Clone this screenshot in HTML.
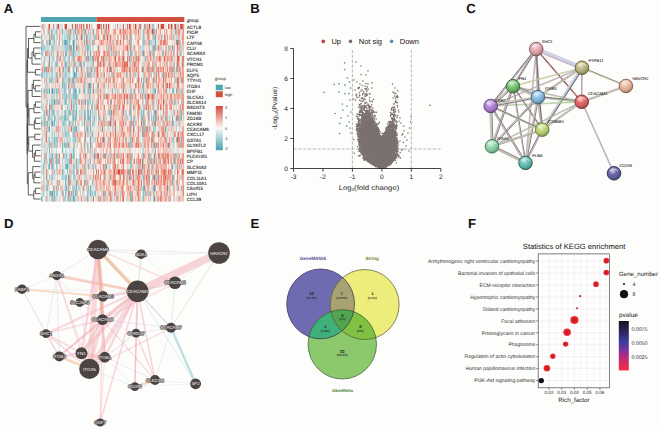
<!DOCTYPE html>
<html><head><meta charset="utf-8"><title>Figure</title>
<style>
html,body{margin:0;padding:0;background:#fdfdfc;}
body{width:660px;height:430px;overflow:hidden;font-family:"Liberation Sans",sans-serif;}
svg{display:block;font-family:"Liberation Sans",sans-serif;text-rendering:geometricPrecision;}
</style></head><body>
<svg width="660" height="430" viewBox="0 0 660 430">
<rect x="0" y="0" width="660" height="430" fill="#fdfdfc"/>
<g font-size="13.2" font-weight="bold" fill="#111">
<text x="3.7" y="12.8">A</text>
<text x="250.2" y="12.8">B</text>
<text x="466.2" y="12.8">C</text>
<text x="3.9" y="228.3">D</text>
<text x="250.6" y="228.3">E</text>
<text x="468.0" y="228.3">F</text>
</g>
<g id="pa">
<rect x="41.0" y="17" width="55.37" height="5" fill="#4fa5b3"/>
<rect x="96.37" y="17" width="87.93" height="5" fill="#d2503f"/>
<defs><filter id="hb" x="-2%" y="-2%" width="104%" height="104%"><feGaussianBlur stdDeviation="0.3 0.3"/></filter><clipPath id="hc"><rect x="41.00" y="23.70" width="143.30" height="178.00"/></clipPath></defs>
<g clip-path="url(#hc)"><g filter="url(#hb)">
<rect x="38.00" y="20.70" width="149.30" height="184.00" fill="#f4e4e0"/>
<path fill="none" stroke-width="5.45" stroke="#c0dfe2" d="M41.0 26.4h0.87M45.1 26.4h0.87M46.7 26.4h0.87M55.7 26.4h0.87M58.9 26.4h0.87M60.5 26.4h0.87M61.4 26.4h0.87M74.4 26.4h0.87M82.5 26.4h0.87M96.4 26.4h0.87M120.0 26.4h0.87M121.6 26.4h0.87M124.9 26.4h0.87M130.6 26.4h0.87M157.4 26.4h0.87M164.8 26.4h0.87M173.7 26.4h0.87M177.0 26.4h0.87M46.7 31.8h0.87M53.2 31.8h0.87M54.8 31.8h0.87M63.8 31.8h0.87M66.2 31.8h0.87M74.4 31.8h0.87M83.3 31.8h0.87M87.4 31.8h0.87M90.7 31.8h0.87M117.5 31.8h0.87M134.6 31.8h0.87M140.3 31.8h0.87M145.2 31.8h0.87M150.9 31.8h0.87M166.4 31.8h0.87M44.3 37.2h0.87M52.4 37.2h0.87M64.6 37.2h0.87M65.4 37.2h0.87M66.2 37.2h0.87M74.4 37.2h0.87M79.3 37.2h0.87M89.9 37.2h0.87M100.4 37.2h0.87M107.8 37.2h0.87M111.0 37.2h0.87M116.7 37.2h0.87M134.6 37.2h0.87M156.6 37.2h0.87M172.1 37.2h0.87M174.5 37.2h0.87M177.0 37.2h0.87M41.8 42.6h0.87M47.5 42.6h0.87M58.1 42.6h0.87M91.5 42.6h0.87M95.6 42.6h0.87M109.4 42.6h0.87M119.2 42.6h0.87M128.1 42.6h0.87M131.4 42.6h0.87M150.1 42.6h0.87M45.1 48.0h0.87M47.5 48.0h0.87M48.3 48.0h0.87M49.1 48.0h0.87M54.0 48.0h0.87M55.7 48.0h0.87M56.5 48.0h0.87M57.3 48.0h0.87M59.7 48.0h0.87M63.0 48.0h0.87M64.6 48.0h0.87M89.0 48.0h0.87M107.0 48.0h0.87M117.5 48.0h0.87M131.4 48.0h0.87M139.5 48.0h0.87M140.3 48.0h0.87M141.1 48.0h0.87M142.0 48.0h0.87M172.9 48.0h0.87M51.6 53.4h0.87M61.4 53.4h0.87M62.2 53.4h0.87M76.0 53.4h0.87M78.5 53.4h0.87M79.3 53.4h0.87M105.3 53.4h0.87M107.8 53.4h0.87M112.7 53.4h0.87M114.3 53.4h0.87M116.7 53.4h0.87M126.5 53.4h0.87M133.8 53.4h0.87M134.6 53.4h0.87M141.1 53.4h0.87M145.2 53.4h0.87M176.2 53.4h0.87M183.5 53.4h0.87M43.4 58.8h0.87M51.6 58.8h0.87M53.2 58.8h0.87M54.0 58.8h0.87M58.1 58.8h0.87M58.9 58.8h0.87M62.2 58.8h0.87M67.9 58.8h0.87M107.0 58.8h0.87M120.8 58.8h0.87M126.5 58.8h0.87M134.6 58.8h0.87M140.3 58.8h0.87M143.6 58.8h0.87M162.3 58.8h0.87M181.0 58.8h0.87M42.6 64.2h0.87M54.0 64.2h0.87M55.7 64.2h0.87M76.0 64.2h0.87M85.8 64.2h0.87M90.7 64.2h0.87M101.3 64.2h0.87M106.1 64.2h0.87M111.0 64.2h0.87M133.0 64.2h0.87M172.1 64.2h0.87M172.9 64.2h0.87M174.5 64.2h0.87M54.0 69.5h0.87M56.5 69.5h0.87M66.2 69.5h0.87M67.1 69.5h0.87M69.5 69.5h0.87M84.2 69.5h0.87M85.8 69.5h0.87M89.9 69.5h0.87M93.1 69.5h0.87M139.5 69.5h0.87M145.2 69.5h0.87M155.0 69.5h0.87M174.5 69.5h0.87M48.3 74.9h0.87M53.2 74.9h0.87M67.1 74.9h0.87M67.9 74.9h0.87M68.7 74.9h0.87M78.5 74.9h0.87M79.3 74.9h0.87M83.3 74.9h0.87M84.2 74.9h0.87M94.7 74.9h0.87M107.0 74.9h0.87M137.1 74.9h0.87M160.7 74.9h0.87M161.5 74.9h0.87M166.4 74.9h0.87M168.8 74.9h0.87M175.3 74.9h0.87M176.2 74.9h0.87M43.4 80.3h0.87M52.4 80.3h0.87M56.5 80.3h0.87M64.6 80.3h0.87M65.4 80.3h0.87M67.1 80.3h0.87M74.4 80.3h0.87M87.4 80.3h0.87M89.9 80.3h0.87M156.6 80.3h0.87M164.8 80.3h0.87M179.4 80.3h0.87M49.1 85.7h0.87M64.6 85.7h0.87M66.2 85.7h0.87M69.5 85.7h0.87M70.3 85.7h0.87M76.8 85.7h0.87M80.1 85.7h0.87M82.5 85.7h0.87M85.8 85.7h0.87M92.3 85.7h0.87M111.8 85.7h0.87M134.6 85.7h0.87M145.2 85.7h0.87M166.4 85.7h0.87M172.9 85.7h0.87M174.5 85.7h0.87M176.2 85.7h0.87M53.2 91.1h0.87M54.8 91.1h0.87M57.3 91.1h0.87M62.2 91.1h0.87M64.6 91.1h0.87M102.1 91.1h0.87M105.3 91.1h0.87M107.8 91.1h0.87M117.5 91.1h0.87M118.3 91.1h0.87M119.2 91.1h0.87M124.9 91.1h0.87M128.1 91.1h0.87M133.0 91.1h0.87M143.6 91.1h0.87M145.2 91.1h0.87M149.3 91.1h0.87M150.1 91.1h0.87M174.5 91.1h0.87M42.6 96.5h0.87M43.4 96.5h0.87M67.1 96.5h0.87M84.2 96.5h0.87M90.7 96.5h0.87M96.4 96.5h0.87M104.5 96.5h0.87M133.0 96.5h0.87M155.0 96.5h0.87M181.0 96.5h0.87M50.0 101.9h0.87M52.4 101.9h0.87M62.2 101.9h0.87M63.8 101.9h0.87M66.2 101.9h0.87M71.9 101.9h0.87M86.6 101.9h0.87M89.0 101.9h0.87M90.7 101.9h0.87M97.2 101.9h0.87M98.8 101.9h0.87M125.7 101.9h0.87M126.5 101.9h0.87M131.4 101.9h0.87M149.3 101.9h0.87M174.5 101.9h0.87M183.5 101.9h0.87M54.8 107.3h0.87M64.6 107.3h0.87M71.9 107.3h0.87M79.3 107.3h0.87M84.2 107.3h0.87M88.2 107.3h0.87M90.7 107.3h0.87M92.3 107.3h0.87M107.8 107.3h0.87M111.0 107.3h0.87M145.2 107.3h0.87M149.3 107.3h0.87M164.8 107.3h0.87M175.3 107.3h0.87M176.2 107.3h0.87M179.4 107.3h0.87M41.8 112.7h0.87M67.1 112.7h0.87M78.5 112.7h0.87M80.1 112.7h0.87M80.9 112.7h0.87M83.3 112.7h0.87M91.5 112.7h0.87M95.6 112.7h0.87M98.8 112.7h0.87M99.6 112.7h0.87M114.3 112.7h0.87M124.0 112.7h0.87M126.5 112.7h0.87M151.7 112.7h0.87M159.9 112.7h0.87M170.5 112.7h0.87M171.3 112.7h0.87M42.6 118.1h0.87M43.4 118.1h0.87M50.0 118.1h0.87M56.5 118.1h0.87M57.3 118.1h0.87M62.2 118.1h0.87M63.0 118.1h0.87M66.2 118.1h0.87M80.1 118.1h0.87M82.5 118.1h0.87M86.6 118.1h0.87M93.1 118.1h0.87M95.6 118.1h0.87M96.4 118.1h0.87M101.3 118.1h0.87M104.5 118.1h0.87M106.1 118.1h0.87M118.3 118.1h0.87M128.9 118.1h0.87M131.4 118.1h0.87M137.1 118.1h0.87M146.8 118.1h0.87M147.7 118.1h0.87M149.3 118.1h0.87M159.9 118.1h0.87M45.1 123.5h0.87M55.7 123.5h0.87M66.2 123.5h0.87M73.6 123.5h0.87M79.3 123.5h0.87M82.5 123.5h0.87M98.8 123.5h0.87M105.3 123.5h0.87M109.4 123.5h0.87M111.8 123.5h0.87M112.7 123.5h0.87M117.5 123.5h0.87M145.2 123.5h0.87M156.6 123.5h0.87M161.5 123.5h0.87M170.5 123.5h0.87M175.3 123.5h0.87M45.1 128.9h0.87M46.7 128.9h0.87M52.4 128.9h0.87M54.0 128.9h0.87M77.6 128.9h0.87M88.2 128.9h0.87M90.7 128.9h0.87M96.4 128.9h0.87M98.8 128.9h0.87M109.4 128.9h0.87M112.7 128.9h0.87M114.3 128.9h0.87M120.0 128.9h0.87M154.2 128.9h0.87M155.8 128.9h0.87M158.2 128.9h0.87M169.6 128.9h0.87M172.9 128.9h0.87M183.5 128.9h0.87M45.1 134.3h0.87M46.7 134.3h0.87M52.4 134.3h0.87M58.9 134.3h0.87M63.8 134.3h0.87M71.9 134.3h0.87M75.2 134.3h0.87M90.7 134.3h0.87M95.6 134.3h0.87M111.0 134.3h0.87M131.4 134.3h0.87M137.1 134.3h0.87M140.3 134.3h0.87M143.6 134.3h0.87M172.9 134.3h0.87M175.3 134.3h0.87M42.6 139.7h0.87M46.7 139.7h0.87M62.2 139.7h0.87M63.8 139.7h0.87M64.6 139.7h0.87M71.9 139.7h0.87M74.4 139.7h0.87M85.8 139.7h0.87M91.5 139.7h0.87M105.3 139.7h0.87M128.1 139.7h0.87M149.3 139.7h0.87M162.3 139.7h0.87M174.5 139.7h0.87M183.5 139.7h0.87M43.4 145.1h0.87M45.1 145.1h0.87M46.7 145.1h0.87M80.1 145.1h0.87M90.7 145.1h0.87M102.1 145.1h0.87M155.0 145.1h0.87M174.5 145.1h0.87M176.2 145.1h0.87M179.4 145.1h0.87M41.0 150.5h0.87M42.6 150.5h0.87M55.7 150.5h0.87M56.5 150.5h0.87M67.1 150.5h0.87M74.4 150.5h0.87M76.0 150.5h0.87M88.2 150.5h0.87M92.3 150.5h0.87M109.4 150.5h0.87M111.0 150.5h0.87M116.7 150.5h0.87M120.0 150.5h0.87M124.9 150.5h0.87M130.6 150.5h0.87M142.0 150.5h0.87M143.6 150.5h0.87M170.5 150.5h0.87M172.1 150.5h0.87M177.8 150.5h0.87M58.1 155.9h0.87M62.2 155.9h0.87M74.4 155.9h0.87M76.0 155.9h0.87M82.5 155.9h0.87M84.2 155.9h0.87M104.5 155.9h0.87M106.1 155.9h0.87M116.7 155.9h0.87M161.5 155.9h0.87M181.0 155.9h0.87M41.0 161.2h0.87M42.6 161.2h0.87M43.4 161.2h0.87M46.7 161.2h0.87M47.5 161.2h0.87M63.8 161.2h0.87M66.2 161.2h0.87M75.2 161.2h0.87M84.2 161.2h0.87M87.4 161.2h0.87M95.6 161.2h0.87M101.3 161.2h0.87M115.1 161.2h0.87M137.1 161.2h0.87M139.5 161.2h0.87M156.6 161.2h0.87M172.1 161.2h0.87M172.9 161.2h0.87M41.0 166.6h0.87M45.1 166.6h0.87M46.7 166.6h0.87M60.5 166.6h0.87M62.2 166.6h0.87M63.0 166.6h0.87M64.6 166.6h0.87M70.3 166.6h0.87M83.3 166.6h0.87M89.9 166.6h0.87M95.6 166.6h0.87M111.8 166.6h0.87M120.8 166.6h0.87M128.9 166.6h0.87M136.3 166.6h0.87M137.1 166.6h0.87M150.9 166.6h0.87M156.6 166.6h0.87M172.9 166.6h0.87M174.5 166.6h0.87M183.5 166.6h0.87M46.7 172.0h0.87M53.2 172.0h0.87M55.7 172.0h0.87M56.5 172.0h0.87M61.4 172.0h0.87M63.8 172.0h0.87M83.3 172.0h0.87M89.9 172.0h0.87M95.6 172.0h0.87M125.7 172.0h0.87M130.6 172.0h0.87M149.3 172.0h0.87M172.1 172.0h0.87M174.5 172.0h0.87M175.3 172.0h0.87M42.6 177.4h0.87M44.3 177.4h0.87M46.7 177.4h0.87M47.5 177.4h0.87M53.2 177.4h0.87M54.0 177.4h0.87M54.8 177.4h0.87M56.5 177.4h0.87M60.5 177.4h0.87M61.4 177.4h0.87M76.0 177.4h0.87M78.5 177.4h0.87M83.3 177.4h0.87M84.2 177.4h0.87M87.4 177.4h0.87M90.7 177.4h0.87M92.3 177.4h0.87M131.4 177.4h0.87M172.9 177.4h0.87M41.0 182.8h0.87M62.2 182.8h0.87M64.6 182.8h0.87M73.6 182.8h0.87M74.4 182.8h0.87M75.2 182.8h0.87M78.5 182.8h0.87M88.2 182.8h0.87M94.7 182.8h0.87M109.4 182.8h0.87M111.0 182.8h0.87M149.3 182.8h0.87M48.3 188.2h0.87M49.1 188.2h0.87M52.4 188.2h0.87M62.2 188.2h0.87M69.5 188.2h0.87M79.3 188.2h0.87M80.1 188.2h0.87M92.3 188.2h0.87M102.1 188.2h0.87M133.8 188.2h0.87M143.6 188.2h0.87M168.0 188.2h0.87M172.9 188.2h0.87M176.2 188.2h0.87M177.0 188.2h0.87M41.8 193.6h0.87M55.7 193.6h0.87M71.9 193.6h0.87M84.2 193.6h0.87M88.2 193.6h0.87M93.9 193.6h0.87M109.4 193.6h0.87M111.0 193.6h0.87M135.4 193.6h0.87M150.9 193.6h0.87M151.7 193.6h0.87M159.9 193.6h0.87M177.8 193.6h0.87M183.5 193.6h0.87M45.1 199.0h0.87M47.5 199.0h0.87M49.1 199.0h0.87M59.7 199.0h0.87M62.2 199.0h0.87M63.8 199.0h0.87M75.2 199.0h0.87M76.8 199.0h0.87M78.5 199.0h0.87M83.3 199.0h0.87M92.3 199.0h0.87M94.7 199.0h0.87M99.6 199.0h0.87M102.1 199.0h0.87M125.7 199.0h0.87M126.5 199.0h0.87M155.0 199.0h0.87M164.8 199.0h0.87M170.5 199.0h0.87M172.9 199.0h0.87M176.2 199.0h0.87"/>
<path fill="none" stroke-width="5.45" stroke="#ddebeb" d="M41.8 26.4h0.87M50.0 26.4h0.87M54.0 26.4h0.87M67.9 26.4h0.87M68.7 26.4h0.87M69.5 26.4h0.87M71.1 26.4h0.87M72.8 26.4h0.87M73.6 26.4h0.87M76.0 26.4h0.87M77.6 26.4h0.87M81.7 26.4h0.87M84.2 26.4h0.87M86.6 26.4h0.87M92.3 26.4h0.87M93.1 26.4h0.87M95.6 26.4h0.87M103.7 26.4h0.87M105.3 26.4h0.87M110.2 26.4h0.87M112.7 26.4h0.87M116.7 26.4h0.87M120.8 26.4h0.87M122.4 26.4h0.87M125.7 26.4h0.87M126.5 26.4h0.87M136.3 26.4h0.87M139.5 26.4h0.87M141.1 26.4h0.87M142.8 26.4h0.87M143.6 26.4h0.87M146.0 26.4h0.87M150.1 26.4h0.87M150.9 26.4h0.87M154.2 26.4h0.87M155.8 26.4h0.87M156.6 26.4h0.87M159.9 26.4h0.87M165.6 26.4h0.87M172.9 26.4h0.87M176.2 26.4h0.87M179.4 26.4h0.87M182.7 26.4h0.87M50.0 31.8h0.87M52.4 31.8h0.87M54.0 31.8h0.87M60.5 31.8h0.87M63.0 31.8h0.87M68.7 31.8h0.87M76.0 31.8h0.87M94.7 31.8h0.87M109.4 31.8h0.87M130.6 31.8h0.87M138.7 31.8h0.87M141.1 31.8h0.87M155.0 31.8h0.87M161.5 31.8h0.87M174.5 31.8h0.87M181.0 31.8h0.87M181.9 31.8h0.87M43.4 37.2h0.87M46.7 37.2h0.87M47.5 37.2h0.87M50.0 37.2h0.87M60.5 37.2h0.87M71.9 37.2h0.87M75.2 37.2h0.87M82.5 37.2h0.87M92.3 37.2h0.87M97.2 37.2h0.87M105.3 37.2h0.87M109.4 37.2h0.87M124.9 37.2h0.87M136.3 37.2h0.87M141.1 37.2h0.87M145.2 37.2h0.87M157.4 37.2h0.87M166.4 37.2h0.87M175.3 37.2h0.87M180.2 37.2h0.87M181.0 37.2h0.87M50.8 42.6h0.87M56.5 42.6h0.87M61.4 42.6h0.87M71.9 42.6h0.87M75.2 42.6h0.87M78.5 42.6h0.87M82.5 42.6h0.87M83.3 42.6h0.87M88.2 42.6h0.87M94.7 42.6h0.87M99.6 42.6h0.87M122.4 42.6h0.87M124.0 42.6h0.87M133.0 42.6h0.87M135.4 42.6h0.87M152.5 42.6h0.87M155.8 42.6h0.87M156.6 42.6h0.87M157.4 42.6h0.87M169.6 42.6h0.87M171.3 42.6h0.87M172.9 42.6h0.87M173.7 42.6h0.87M62.2 48.0h0.87M75.2 48.0h0.87M79.3 48.0h0.87M84.2 48.0h0.87M85.8 48.0h0.87M90.7 48.0h0.87M98.8 48.0h0.87M100.4 48.0h0.87M102.1 48.0h0.87M102.9 48.0h0.87M116.7 48.0h0.87M125.7 48.0h0.87M132.2 48.0h0.87M144.4 48.0h0.87M147.7 48.0h0.87M150.9 48.0h0.87M162.3 48.0h0.87M171.3 48.0h0.87M174.5 48.0h0.87M181.9 48.0h0.87M43.4 53.4h0.87M48.3 53.4h0.87M50.0 53.4h0.87M52.4 53.4h0.87M54.0 53.4h0.87M54.8 53.4h0.87M64.6 53.4h0.87M67.1 53.4h0.87M74.4 53.4h0.87M76.8 53.4h0.87M88.2 53.4h0.87M91.5 53.4h0.87M124.9 53.4h0.87M133.0 53.4h0.87M138.7 53.4h0.87M150.9 53.4h0.87M152.5 53.4h0.87M156.6 53.4h0.87M159.9 53.4h0.87M168.8 53.4h0.87M169.6 53.4h0.87M42.6 58.8h0.87M45.1 58.8h0.87M46.7 58.8h0.87M50.0 58.8h0.87M67.1 58.8h0.87M75.2 58.8h0.87M83.3 58.8h0.87M91.5 58.8h0.87M111.8 58.8h0.87M124.9 58.8h0.87M128.1 58.8h0.87M142.8 58.8h0.87M155.0 58.8h0.87M164.8 58.8h0.87M176.2 58.8h0.87M179.4 58.8h0.87M45.1 64.2h0.87M47.5 64.2h0.87M60.5 64.2h0.87M70.3 64.2h0.87M86.6 64.2h0.87M88.2 64.2h0.87M94.7 64.2h0.87M107.0 64.2h0.87M131.4 64.2h0.87M140.3 64.2h0.87M143.6 64.2h0.87M145.2 64.2h0.87M149.3 64.2h0.87M156.6 64.2h0.87M161.5 64.2h0.87M171.3 64.2h0.87M180.2 64.2h0.87M49.1 69.5h0.87M52.4 69.5h0.87M53.2 69.5h0.87M55.7 69.5h0.87M63.8 69.5h0.87M75.2 69.5h0.87M76.8 69.5h0.87M80.1 69.5h0.87M82.5 69.5h0.87M92.3 69.5h0.87M102.1 69.5h0.87M109.4 69.5h0.87M175.3 69.5h0.87M181.0 69.5h0.87M45.1 74.9h0.87M47.5 74.9h0.87M50.0 74.9h0.87M54.0 74.9h0.87M61.4 74.9h0.87M66.2 74.9h0.87M71.9 74.9h0.87M72.8 74.9h0.87M80.9 74.9h0.87M82.5 74.9h0.87M85.8 74.9h0.87M92.3 74.9h0.87M98.8 74.9h0.87M101.3 74.9h0.87M104.5 74.9h0.87M115.1 74.9h0.87M120.8 74.9h0.87M128.1 74.9h0.87M131.4 74.9h0.87M136.3 74.9h0.87M140.3 74.9h0.87M142.0 74.9h0.87M146.0 74.9h0.87M155.0 74.9h0.87M172.9 74.9h0.87M174.5 74.9h0.87M46.7 80.3h0.87M58.1 80.3h0.87M61.4 80.3h0.87M79.3 80.3h0.87M82.5 80.3h0.87M91.5 80.3h0.87M104.5 80.3h0.87M109.4 80.3h0.87M111.8 80.3h0.87M120.0 80.3h0.87M124.0 80.3h0.87M130.6 80.3h0.87M149.3 80.3h0.87M183.5 80.3h0.87M48.3 85.7h0.87M51.6 85.7h0.87M52.4 85.7h0.87M55.7 85.7h0.87M56.5 85.7h0.87M58.1 85.7h0.87M72.8 85.7h0.87M76.0 85.7h0.87M86.6 85.7h0.87M94.7 85.7h0.87M95.6 85.7h0.87M102.1 85.7h0.87M105.3 85.7h0.87M106.1 85.7h0.87M109.4 85.7h0.87M112.7 85.7h0.87M128.1 85.7h0.87M128.9 85.7h0.87M130.6 85.7h0.87M141.1 85.7h0.87M155.0 85.7h0.87M164.8 85.7h0.87M175.3 85.7h0.87M45.1 91.1h0.87M61.4 91.1h0.87M66.2 91.1h0.87M77.6 91.1h0.87M78.5 91.1h0.87M80.1 91.1h0.87M81.7 91.1h0.87M85.0 91.1h0.87M85.8 91.1h0.87M86.6 91.1h0.87M90.7 91.1h0.87M93.9 91.1h0.87M107.0 91.1h0.87M115.9 91.1h0.87M124.0 91.1h0.87M127.3 91.1h0.87M128.9 91.1h0.87M146.0 91.1h0.87M155.8 91.1h0.87M161.5 91.1h0.87M169.6 91.1h0.87M170.5 91.1h0.87M48.3 96.5h0.87M49.1 96.5h0.87M50.0 96.5h0.87M52.4 96.5h0.87M57.3 96.5h0.87M70.3 96.5h0.87M78.5 96.5h0.87M83.3 96.5h0.87M88.2 96.5h0.87M92.3 96.5h0.87M99.6 96.5h0.87M102.1 96.5h0.87M131.4 96.5h0.87M137.1 96.5h0.87M141.1 96.5h0.87M158.2 96.5h0.87M43.4 101.9h0.87M44.3 101.9h0.87M50.8 101.9h0.87M61.4 101.9h0.87M76.8 101.9h0.87M77.6 101.9h0.87M81.7 101.9h0.87M105.3 101.9h0.87M120.8 101.9h0.87M123.2 101.9h0.87M140.3 101.9h0.87M150.9 101.9h0.87M162.3 101.9h0.87M172.9 101.9h0.87M176.2 101.9h0.87M179.4 101.9h0.87M44.3 107.3h0.87M46.7 107.3h0.87M54.0 107.3h0.87M65.4 107.3h0.87M66.2 107.3h0.87M69.5 107.3h0.87M75.2 107.3h0.87M77.6 107.3h0.87M80.1 107.3h0.87M81.7 107.3h0.87M83.3 107.3h0.87M85.8 107.3h0.87M102.1 107.3h0.87M104.5 107.3h0.87M106.1 107.3h0.87M116.7 107.3h0.87M142.0 107.3h0.87M143.6 107.3h0.87M154.2 107.3h0.87M155.0 107.3h0.87M163.9 107.3h0.87M50.0 112.7h0.87M61.4 112.7h0.87M82.5 112.7h0.87M86.6 112.7h0.87M90.7 112.7h0.87M102.1 112.7h0.87M111.8 112.7h0.87M116.7 112.7h0.87M120.8 112.7h0.87M144.4 112.7h0.87M146.8 112.7h0.87M160.7 112.7h0.87M161.5 112.7h0.87M162.3 112.7h0.87M163.9 112.7h0.87M168.8 112.7h0.87M169.6 112.7h0.87M172.1 112.7h0.87M172.9 112.7h0.87M174.5 112.7h0.87M175.3 112.7h0.87M176.2 112.7h0.87M181.9 112.7h0.87M46.7 118.1h0.87M52.4 118.1h0.87M68.7 118.1h0.87M69.5 118.1h0.87M76.8 118.1h0.87M78.5 118.1h0.87M83.3 118.1h0.87M85.8 118.1h0.87M107.0 118.1h0.87M111.8 118.1h0.87M115.1 118.1h0.87M120.8 118.1h0.87M126.5 118.1h0.87M128.1 118.1h0.87M132.2 118.1h0.87M136.3 118.1h0.87M145.2 118.1h0.87M157.4 118.1h0.87M166.4 118.1h0.87M170.5 118.1h0.87M171.3 118.1h0.87M172.9 118.1h0.87M175.3 118.1h0.87M182.7 118.1h0.87M48.3 123.5h0.87M50.0 123.5h0.87M53.2 123.5h0.87M54.8 123.5h0.87M57.3 123.5h0.87M67.1 123.5h0.87M78.5 123.5h0.87M80.9 123.5h0.87M83.3 123.5h0.87M87.4 123.5h0.87M90.7 123.5h0.87M94.7 123.5h0.87M95.6 123.5h0.87M96.4 123.5h0.87M107.8 123.5h0.87M130.6 123.5h0.87M133.8 123.5h0.87M148.5 123.5h0.87M160.7 123.5h0.87M174.5 123.5h0.87M41.8 128.9h0.87M42.6 128.9h0.87M43.4 128.9h0.87M51.6 128.9h0.87M53.2 128.9h0.87M58.9 128.9h0.87M60.5 128.9h0.87M61.4 128.9h0.87M66.2 128.9h0.87M69.5 128.9h0.87M92.3 128.9h0.87M93.9 128.9h0.87M94.7 128.9h0.87M95.6 128.9h0.87M101.3 128.9h0.87M102.9 128.9h0.87M105.3 128.9h0.87M107.0 128.9h0.87M115.9 128.9h0.87M118.3 128.9h0.87M141.1 128.9h0.87M157.4 128.9h0.87M181.0 128.9h0.87M48.3 134.3h0.87M49.1 134.3h0.87M50.0 134.3h0.87M55.7 134.3h0.87M60.5 134.3h0.87M69.5 134.3h0.87M77.6 134.3h0.87M82.5 134.3h0.87M94.7 134.3h0.87M96.4 134.3h0.87M98.8 134.3h0.87M105.3 134.3h0.87M125.7 134.3h0.87M128.1 134.3h0.87M130.6 134.3h0.87M149.3 134.3h0.87M155.0 134.3h0.87M156.6 134.3h0.87M159.9 134.3h0.87M166.4 134.3h0.87M183.5 134.3h0.87M43.4 139.7h0.87M44.3 139.7h0.87M60.5 139.7h0.87M65.4 139.7h0.87M67.9 139.7h0.87M69.5 139.7h0.87M76.0 139.7h0.87M78.5 139.7h0.87M83.3 139.7h0.87M87.4 139.7h0.87M89.0 139.7h0.87M92.3 139.7h0.87M93.9 139.7h0.87M95.6 139.7h0.87M104.5 139.7h0.87M106.1 139.7h0.87M107.0 139.7h0.87M118.3 139.7h0.87M127.3 139.7h0.87M128.9 139.7h0.87M142.0 139.7h0.87M64.6 145.1h0.87M74.4 145.1h0.87M75.2 145.1h0.87M76.0 145.1h0.87M79.3 145.1h0.87M86.6 145.1h0.87M94.7 145.1h0.87M105.3 145.1h0.87M106.1 145.1h0.87M143.6 145.1h0.87M147.7 145.1h0.87M150.1 145.1h0.87M171.3 145.1h0.87M172.1 145.1h0.87M41.8 150.5h0.87M44.3 150.5h0.87M53.2 150.5h0.87M54.0 150.5h0.87M63.0 150.5h0.87M70.3 150.5h0.87M71.1 150.5h0.87M71.9 150.5h0.87M80.1 150.5h0.87M95.6 150.5h0.87M98.0 150.5h0.87M112.7 150.5h0.87M119.2 150.5h0.87M124.0 150.5h0.87M128.1 150.5h0.87M133.8 150.5h0.87M138.7 150.5h0.87M149.3 150.5h0.87M151.7 150.5h0.87M153.4 150.5h0.87M154.2 150.5h0.87M172.9 150.5h0.87M174.5 150.5h0.87M176.2 150.5h0.87M180.2 150.5h0.87M47.5 155.9h0.87M48.3 155.9h0.87M54.0 155.9h0.87M57.3 155.9h0.87M60.5 155.9h0.87M67.1 155.9h0.87M67.9 155.9h0.87M68.7 155.9h0.87M71.9 155.9h0.87M87.4 155.9h0.87M93.1 155.9h0.87M98.8 155.9h0.87M102.1 155.9h0.87M115.1 155.9h0.87M118.3 155.9h0.87M126.5 155.9h0.87M145.2 155.9h0.87M152.5 155.9h0.87M153.4 155.9h0.87M159.9 155.9h0.87M179.4 155.9h0.87M48.3 161.2h0.87M54.0 161.2h0.87M72.8 161.2h0.87M83.3 161.2h0.87M92.3 161.2h0.87M94.7 161.2h0.87M109.4 161.2h0.87M124.9 161.2h0.87M133.0 161.2h0.87M134.6 161.2h0.87M145.2 161.2h0.87M155.0 161.2h0.87M160.7 161.2h0.87M161.5 161.2h0.87M183.5 161.2h0.87M54.0 166.6h0.87M55.7 166.6h0.87M58.9 166.6h0.87M63.8 166.6h0.87M67.9 166.6h0.87M69.5 166.6h0.87M75.2 166.6h0.87M78.5 166.6h0.87M79.3 166.6h0.87M98.8 166.6h0.87M99.6 166.6h0.87M102.1 166.6h0.87M107.0 166.6h0.87M118.3 166.6h0.87M124.9 166.6h0.87M126.5 166.6h0.87M128.1 166.6h0.87M129.7 166.6h0.87M134.6 166.6h0.87M141.1 166.6h0.87M150.1 166.6h0.87M159.9 166.6h0.87M166.4 166.6h0.87M168.8 166.6h0.87M177.8 166.6h0.87M44.3 172.0h0.87M48.3 172.0h0.87M54.8 172.0h0.87M64.6 172.0h0.87M65.4 172.0h0.87M72.8 172.0h0.87M74.4 172.0h0.87M86.6 172.0h0.87M90.7 172.0h0.87M102.1 172.0h0.87M107.0 172.0h0.87M111.8 172.0h0.87M116.7 172.0h0.87M133.8 172.0h0.87M134.6 172.0h0.87M150.1 172.0h0.87M41.0 177.4h0.87M50.0 177.4h0.87M52.4 177.4h0.87M58.9 177.4h0.87M70.3 177.4h0.87M80.9 177.4h0.87M86.6 177.4h0.87M88.2 177.4h0.87M99.6 177.4h0.87M128.1 177.4h0.87M141.1 177.4h0.87M142.0 177.4h0.87M157.4 177.4h0.87M176.2 177.4h0.87M179.4 177.4h0.87M41.8 182.8h0.87M44.3 182.8h0.87M45.1 182.8h0.87M47.5 182.8h0.87M54.0 182.8h0.87M54.8 182.8h0.87M58.1 182.8h0.87M67.1 182.8h0.87M83.3 182.8h0.87M89.0 182.8h0.87M101.3 182.8h0.87M105.3 182.8h0.87M118.3 182.8h0.87M128.1 182.8h0.87M128.9 182.8h0.87M130.6 182.8h0.87M131.4 182.8h0.87M136.3 182.8h0.87M139.5 182.8h0.87M155.0 182.8h0.87M164.8 182.8h0.87M175.3 182.8h0.87M47.5 188.2h0.87M57.3 188.2h0.87M63.8 188.2h0.87M67.1 188.2h0.87M80.9 188.2h0.87M81.7 188.2h0.87M84.2 188.2h0.87M91.5 188.2h0.87M95.6 188.2h0.87M98.0 188.2h0.87M111.8 188.2h0.87M130.6 188.2h0.87M142.0 188.2h0.87M146.0 188.2h0.87M149.3 188.2h0.87M150.9 188.2h0.87M156.6 188.2h0.87M161.5 188.2h0.87M162.3 188.2h0.87M163.1 188.2h0.87M166.4 188.2h0.87M172.1 188.2h0.87M41.0 193.6h0.87M45.1 193.6h0.87M47.5 193.6h0.87M54.8 193.6h0.87M58.1 193.6h0.87M59.7 193.6h0.87M60.5 193.6h0.87M64.6 193.6h0.87M66.2 193.6h0.87M70.3 193.6h0.87M73.6 193.6h0.87M77.6 193.6h0.87M79.3 193.6h0.87M83.3 193.6h0.87M89.0 193.6h0.87M91.5 193.6h0.87M98.8 193.6h0.87M99.6 193.6h0.87M102.1 193.6h0.87M107.0 193.6h0.87M125.7 193.6h0.87M142.0 193.6h0.87M148.5 193.6h0.87M159.1 193.6h0.87M168.0 193.6h0.87M172.9 193.6h0.87M176.2 193.6h0.87M181.0 193.6h0.87M42.6 199.0h0.87M44.3 199.0h0.87M48.3 199.0h0.87M50.8 199.0h0.87M52.4 199.0h0.87M57.3 199.0h0.87M65.4 199.0h0.87M66.2 199.0h0.87M71.9 199.0h0.87M81.7 199.0h0.87M89.9 199.0h0.87M97.2 199.0h0.87M106.1 199.0h0.87M118.3 199.0h0.87M137.1 199.0h0.87M141.1 199.0h0.87M142.0 199.0h0.87M149.3 199.0h0.87M150.9 199.0h0.87M155.8 199.0h0.87M168.8 199.0h0.87M174.5 199.0h0.87M175.3 199.0h0.87M181.9 199.0h0.87M183.5 199.0h0.87"/>
<path fill="none" stroke-width="5.45" stroke="#d54438" d="M42.6 26.4h0.87M48.3 26.4h0.87M49.1 26.4h0.87M53.2 26.4h0.87M57.3 26.4h0.87M58.1 26.4h0.87M64.6 26.4h0.87M65.4 26.4h0.87M66.2 26.4h0.87M71.9 26.4h0.87M75.2 26.4h0.87M76.8 26.4h0.87M79.3 26.4h0.87M80.9 26.4h0.87M83.3 26.4h0.87M85.8 26.4h0.87M87.4 26.4h0.87M89.0 26.4h0.87M90.7 26.4h0.87M97.2 26.4h0.87M98.0 26.4h0.87M98.8 26.4h0.87M99.6 26.4h0.87M101.3 26.4h0.87M102.9 26.4h0.87M106.1 26.4h0.87M107.8 26.4h0.87M108.6 26.4h0.87M117.5 26.4h0.87M123.2 26.4h0.87M127.3 26.4h0.87M128.9 26.4h0.87M129.7 26.4h0.87M134.6 26.4h0.87M135.4 26.4h0.87M138.7 26.4h0.87M140.3 26.4h0.87M144.4 26.4h0.87M146.8 26.4h0.87M148.5 26.4h0.87M149.3 26.4h0.87M152.5 26.4h0.87M158.2 26.4h0.87M160.7 26.4h0.87M161.5 26.4h0.87M162.3 26.4h0.87M163.1 26.4h0.87M168.0 26.4h0.87M168.8 26.4h0.87M170.5 26.4h0.87M171.3 26.4h0.87M174.5 26.4h0.87M175.3 26.4h0.87M177.8 26.4h0.87M180.2 26.4h0.87M181.0 26.4h0.87M181.9 26.4h0.87M183.5 26.4h0.87M103.7 31.8h0.87M122.4 31.8h0.87M137.9 31.8h0.87M146.8 31.8h0.87M151.7 31.8h0.87M152.5 31.8h0.87M165.6 31.8h0.87M76.8 37.2h0.87M80.9 37.2h0.87M107.0 37.2h0.87M123.2 37.2h0.87M160.7 37.2h0.87M164.8 37.2h0.87M120.0 42.6h0.87M137.9 42.6h0.87M148.5 42.6h0.87M160.7 42.6h0.87M163.9 42.6h0.87M177.0 42.6h0.87M178.6 42.6h0.87M129.7 48.0h0.87M108.6 53.4h0.87M129.7 53.4h0.87M177.0 53.4h0.87M77.6 58.8h0.87M102.9 58.8h0.87M108.6 58.8h0.87M114.3 58.8h0.87M115.1 58.8h0.87M118.3 58.8h0.87M123.2 58.8h0.87M137.9 58.8h0.87M163.9 58.8h0.87M169.6 58.8h0.87M177.0 58.8h0.87M183.5 58.8h0.87M97.2 64.2h0.87M100.4 64.2h0.87M103.7 64.2h0.87M124.0 64.2h0.87M133.8 64.2h0.87M137.9 64.2h0.87M148.5 64.2h0.87M165.6 64.2h0.87M177.8 64.2h0.87M58.9 69.5h0.87M97.2 69.5h0.87M108.6 69.5h0.87M110.2 69.5h0.87M137.9 69.5h0.87M148.5 69.5h0.87M158.2 69.5h0.87M165.6 69.5h0.87M167.2 69.5h0.87M100.4 74.9h0.87M103.7 74.9h0.87M112.7 74.9h0.87M137.9 74.9h0.87M144.4 74.9h0.87M155.8 74.9h0.87M158.2 74.9h0.87M165.6 74.9h0.87M57.3 80.3h0.87M123.2 80.3h0.87M129.7 80.3h0.87M132.2 80.3h0.87M137.9 80.3h0.87M165.6 80.3h0.87M171.3 80.3h0.87M103.7 85.7h0.87M121.6 85.7h0.87M123.2 85.7h0.87M135.4 85.7h0.87M165.6 85.7h0.87M167.2 85.7h0.87M178.6 85.7h0.87M123.2 91.1h0.87M133.8 91.1h0.87M100.4 96.5h0.87M108.6 96.5h0.87M114.3 96.5h0.87M124.0 96.5h0.87M127.3 96.5h0.87M140.3 96.5h0.87M144.4 96.5h0.87M147.7 96.5h0.87M148.5 96.5h0.87M161.5 96.5h0.87M165.6 96.5h0.87M167.2 96.5h0.87M169.6 96.5h0.87M182.7 96.5h0.87M96.4 101.9h0.87M110.2 101.9h0.87M114.3 101.9h0.87M124.0 101.9h0.87M137.9 101.9h0.87M160.7 101.9h0.87M163.1 101.9h0.87M165.6 101.9h0.87M61.4 107.3h0.87M103.7 107.3h0.87M119.2 107.3h0.87M121.6 107.3h0.87M123.2 107.3h0.87M129.7 107.3h0.87M137.9 107.3h0.87M146.0 107.3h0.87M159.9 107.3h0.87M171.3 107.3h0.87M182.7 107.3h0.87M123.2 112.7h0.87M110.2 118.1h0.87M165.6 118.1h0.87M108.6 123.5h0.87M110.2 123.5h0.87M129.7 123.5h0.87M165.6 123.5h0.87M122.4 128.9h0.87M129.7 128.9h0.87M137.9 128.9h0.87M148.5 128.9h0.87M165.6 128.9h0.87M85.0 134.3h0.87M110.2 134.3h0.87M123.2 134.3h0.87M137.9 134.3h0.87M158.2 134.3h0.87M162.3 134.3h0.87M178.6 134.3h0.87M102.9 139.7h0.87M148.5 139.7h0.87M165.6 139.7h0.87M177.0 139.7h0.87M103.7 145.1h0.87M108.6 145.1h0.87M123.2 145.1h0.87M135.4 145.1h0.87M148.5 145.1h0.87M158.2 145.1h0.87M163.1 145.1h0.87M165.6 145.1h0.87M168.0 145.1h0.87M98.0 155.9h0.87M103.7 155.9h0.87M117.5 155.9h0.87M121.6 155.9h0.87M127.3 155.9h0.87M137.9 155.9h0.87M144.4 155.9h0.87M147.7 155.9h0.87M154.2 155.9h0.87M165.6 155.9h0.87M120.0 161.2h0.87M123.2 161.2h0.87M133.8 161.2h0.87M140.3 161.2h0.87M142.0 161.2h0.87M165.6 161.2h0.87M180.2 161.2h0.87M181.9 161.2h0.87M115.1 166.6h0.87M123.2 166.6h0.87M142.0 166.6h0.87M148.5 166.6h0.87M59.7 172.0h0.87M76.8 172.0h0.87M80.1 172.0h0.87M96.4 172.0h0.87M98.0 172.0h0.87M100.4 172.0h0.87M103.7 172.0h0.87M117.5 172.0h0.87M118.3 172.0h0.87M119.2 172.0h0.87M120.8 172.0h0.87M122.4 172.0h0.87M127.3 172.0h0.87M129.7 172.0h0.87M137.9 172.0h0.87M138.7 172.0h0.87M158.2 172.0h0.87M163.9 172.0h0.87M177.8 172.0h0.87M67.9 177.4h0.87M100.4 177.4h0.87M103.7 177.4h0.87M112.7 177.4h0.87M114.3 177.4h0.87M123.2 177.4h0.87M148.5 177.4h0.87M154.2 177.4h0.87M173.7 177.4h0.87M67.9 182.8h0.87M113.5 182.8h0.87M115.1 182.8h0.87M123.2 182.8h0.87M137.9 182.8h0.87M148.5 182.8h0.87M154.2 182.8h0.87M165.6 182.8h0.87M129.7 188.2h0.87M144.4 188.2h0.87M154.2 188.2h0.87M167.2 188.2h0.87M108.6 193.6h0.87M137.9 193.6h0.87M165.6 193.6h0.87M182.7 193.6h0.87M93.1 199.0h0.87M103.7 199.0h0.87M123.2 199.0h0.87M137.9 199.0h0.87M154.2 199.0h0.87M165.6 199.0h0.87"/>
<path fill="none" stroke-width="5.45" stroke="#f5bdad" d="M43.4 26.4h0.87M63.8 26.4h0.87M80.1 26.4h0.87M41.0 31.8h0.87M42.6 31.8h0.87M43.4 31.8h0.87M47.5 31.8h0.87M50.8 31.8h0.87M57.3 31.8h0.87M59.7 31.8h0.87M107.0 31.8h0.87M112.7 31.8h0.87M121.6 31.8h0.87M128.9 31.8h0.87M139.5 31.8h0.87M143.6 31.8h0.87M146.0 31.8h0.87M170.5 31.8h0.87M172.9 31.8h0.87M177.0 31.8h0.87M180.2 31.8h0.87M183.5 31.8h0.87M41.8 37.2h0.87M57.3 37.2h0.87M67.9 37.2h0.87M78.5 37.2h0.87M80.1 37.2h0.87M93.1 37.2h0.87M95.6 37.2h0.87M106.1 37.2h0.87M111.8 37.2h0.87M115.1 37.2h0.87M120.0 37.2h0.87M122.4 37.2h0.87M138.7 37.2h0.87M151.7 37.2h0.87M152.5 37.2h0.87M154.2 37.2h0.87M159.1 37.2h0.87M168.8 37.2h0.87M177.8 37.2h0.87M183.5 37.2h0.87M48.3 42.6h0.87M52.4 42.6h0.87M80.9 42.6h0.87M102.1 42.6h0.87M103.7 42.6h0.87M105.3 42.6h0.87M106.1 42.6h0.87M112.7 42.6h0.87M121.6 42.6h0.87M142.0 42.6h0.87M146.0 42.6h0.87M158.2 42.6h0.87M174.5 42.6h0.87M180.2 42.6h0.87M54.8 48.0h0.87M58.1 48.0h0.87M67.9 48.0h0.87M82.5 48.0h0.87M83.3 48.0h0.87M99.6 48.0h0.87M103.7 48.0h0.87M115.1 48.0h0.87M115.9 48.0h0.87M119.2 48.0h0.87M120.8 48.0h0.87M124.0 48.0h0.87M128.9 48.0h0.87M133.0 48.0h0.87M135.4 48.0h0.87M137.9 48.0h0.87M143.6 48.0h0.87M146.0 48.0h0.87M148.5 48.0h0.87M159.1 48.0h0.87M159.9 48.0h0.87M160.7 48.0h0.87M163.1 48.0h0.87M168.8 48.0h0.87M42.6 53.4h0.87M46.7 53.4h0.87M59.7 53.4h0.87M67.9 53.4h0.87M70.3 53.4h0.87M77.6 53.4h0.87M86.6 53.4h0.87M90.7 53.4h0.87M95.6 53.4h0.87M100.4 53.4h0.87M106.1 53.4h0.87M121.6 53.4h0.87M132.2 53.4h0.87M136.3 53.4h0.87M146.8 53.4h0.87M147.7 53.4h0.87M157.4 53.4h0.87M159.1 53.4h0.87M167.2 53.4h0.87M182.7 53.4h0.87M55.7 58.8h0.87M60.5 58.8h0.87M63.0 58.8h0.87M71.1 58.8h0.87M71.9 58.8h0.87M76.8 58.8h0.87M86.6 58.8h0.87M100.4 58.8h0.87M102.1 58.8h0.87M107.8 58.8h0.87M110.2 58.8h0.87M111.0 58.8h0.87M117.5 58.8h0.87M120.0 58.8h0.87M121.6 58.8h0.87M124.0 58.8h0.87M133.8 58.8h0.87M139.5 58.8h0.87M144.4 58.8h0.87M150.9 58.8h0.87M151.7 58.8h0.87M154.2 58.8h0.87M156.6 58.8h0.87M158.2 58.8h0.87M163.1 58.8h0.87M168.0 58.8h0.87M175.3 58.8h0.87M41.8 64.2h0.87M50.8 64.2h0.87M57.3 64.2h0.87M71.1 64.2h0.87M77.6 64.2h0.87M91.5 64.2h0.87M118.3 64.2h0.87M135.4 64.2h0.87M146.0 64.2h0.87M151.7 64.2h0.87M158.2 64.2h0.87M162.3 64.2h0.87M168.8 64.2h0.87M50.0 69.5h0.87M50.8 69.5h0.87M54.8 69.5h0.87M57.3 69.5h0.87M78.5 69.5h0.87M83.3 69.5h0.87M89.0 69.5h0.87M98.0 69.5h0.87M100.4 69.5h0.87M103.7 69.5h0.87M104.5 69.5h0.87M106.1 69.5h0.87M112.7 69.5h0.87M114.3 69.5h0.87M115.1 69.5h0.87M122.4 69.5h0.87M133.0 69.5h0.87M137.1 69.5h0.87M141.1 69.5h0.87M144.4 69.5h0.87M155.8 69.5h0.87M159.1 69.5h0.87M164.8 69.5h0.87M60.5 74.9h0.87M63.0 74.9h0.87M80.1 74.9h0.87M86.6 74.9h0.87M91.5 74.9h0.87M93.1 74.9h0.87M102.1 74.9h0.87M106.1 74.9h0.87M114.3 74.9h0.87M119.2 74.9h0.87M121.6 74.9h0.87M123.2 74.9h0.87M124.0 74.9h0.87M133.8 74.9h0.87M135.4 74.9h0.87M138.7 74.9h0.87M143.6 74.9h0.87M145.2 74.9h0.87M146.8 74.9h0.87M149.3 74.9h0.87M150.1 74.9h0.87M159.1 74.9h0.87M170.5 74.9h0.87M177.8 74.9h0.87M181.0 74.9h0.87M181.9 74.9h0.87M71.1 80.3h0.87M76.8 80.3h0.87M81.7 80.3h0.87M83.3 80.3h0.87M86.6 80.3h0.87M90.7 80.3h0.87M93.9 80.3h0.87M98.0 80.3h0.87M99.6 80.3h0.87M105.3 80.3h0.87M120.8 80.3h0.87M122.4 80.3h0.87M128.1 80.3h0.87M128.9 80.3h0.87M133.0 80.3h0.87M136.3 80.3h0.87M139.5 80.3h0.87M151.7 80.3h0.87M152.5 80.3h0.87M159.9 80.3h0.87M161.5 80.3h0.87M163.9 80.3h0.87M169.6 80.3h0.87M178.6 80.3h0.87M180.2 80.3h0.87M41.8 85.7h0.87M45.9 85.7h0.87M47.5 85.7h0.87M50.8 85.7h0.87M53.2 85.7h0.87M57.3 85.7h0.87M58.9 85.7h0.87M59.7 85.7h0.87M61.4 85.7h0.87M74.4 85.7h0.87M81.7 85.7h0.87M85.0 85.7h0.87M100.4 85.7h0.87M101.3 85.7h0.87M110.2 85.7h0.87M114.3 85.7h0.87M119.2 85.7h0.87M127.3 85.7h0.87M140.3 85.7h0.87M146.0 85.7h0.87M148.5 85.7h0.87M152.5 85.7h0.87M160.7 85.7h0.87M161.5 85.7h0.87M173.7 85.7h0.87M181.9 85.7h0.87M182.7 85.7h0.87M183.5 85.7h0.87M47.5 91.1h0.87M50.8 91.1h0.87M67.9 91.1h0.87M70.3 91.1h0.87M89.0 91.1h0.87M102.9 91.1h0.87M108.6 91.1h0.87M110.2 91.1h0.87M113.5 91.1h0.87M121.6 91.1h0.87M144.4 91.1h0.87M150.9 91.1h0.87M159.1 91.1h0.87M177.0 91.1h0.87M177.8 91.1h0.87M180.2 91.1h0.87M182.7 91.1h0.87M53.2 96.5h0.87M58.9 96.5h0.87M63.0 96.5h0.87M71.1 96.5h0.87M76.8 96.5h0.87M85.0 96.5h0.87M85.8 96.5h0.87M93.1 96.5h0.87M93.9 96.5h0.87M97.2 96.5h0.87M102.9 96.5h0.87M111.0 96.5h0.87M116.7 96.5h0.87M128.1 96.5h0.87M133.8 96.5h0.87M134.6 96.5h0.87M137.9 96.5h0.87M139.5 96.5h0.87M159.1 96.5h0.87M159.9 96.5h0.87M163.9 96.5h0.87M168.0 96.5h0.87M175.3 96.5h0.87M176.2 96.5h0.87M179.4 96.5h0.87M183.5 96.5h0.87M45.9 101.9h0.87M57.3 101.9h0.87M60.5 101.9h0.87M94.7 101.9h0.87M101.3 101.9h0.87M102.1 101.9h0.87M102.9 101.9h0.87M112.7 101.9h0.87M115.1 101.9h0.87M116.7 101.9h0.87M121.6 101.9h0.87M132.2 101.9h0.87M138.7 101.9h0.87M146.0 101.9h0.87M159.1 101.9h0.87M181.9 101.9h0.87M45.1 107.3h0.87M53.2 107.3h0.87M58.1 107.3h0.87M60.5 107.3h0.87M85.0 107.3h0.87M102.9 107.3h0.87M112.7 107.3h0.87M120.0 107.3h0.87M125.7 107.3h0.87M127.3 107.3h0.87M128.9 107.3h0.87M137.1 107.3h0.87M139.5 107.3h0.87M140.3 107.3h0.87M162.3 107.3h0.87M170.5 107.3h0.87M172.9 107.3h0.87M173.7 107.3h0.87M178.6 107.3h0.87M183.5 107.3h0.87M47.5 112.7h0.87M57.3 112.7h0.87M96.4 112.7h0.87M110.2 112.7h0.87M115.9 112.7h0.87M117.5 112.7h0.87M133.0 112.7h0.87M138.7 112.7h0.87M158.2 112.7h0.87M179.4 112.7h0.87M50.8 118.1h0.87M58.1 118.1h0.87M100.4 118.1h0.87M108.6 118.1h0.87M115.9 118.1h0.87M117.5 118.1h0.87M119.2 118.1h0.87M120.0 118.1h0.87M124.0 118.1h0.87M154.2 118.1h0.87M163.1 118.1h0.87M174.5 118.1h0.87M41.8 123.5h0.87M42.6 123.5h0.87M45.9 123.5h0.87M50.8 123.5h0.87M59.7 123.5h0.87M64.6 123.5h0.87M71.1 123.5h0.87M89.0 123.5h0.87M93.1 123.5h0.87M102.9 123.5h0.87M106.1 123.5h0.87M128.9 123.5h0.87M132.2 123.5h0.87M135.4 123.5h0.87M136.3 123.5h0.87M140.3 123.5h0.87M152.5 123.5h0.87M159.1 123.5h0.87M159.9 123.5h0.87M168.0 123.5h0.87M168.8 123.5h0.87M171.3 123.5h0.87M177.8 123.5h0.87M178.6 123.5h0.87M183.5 123.5h0.87M41.0 128.9h0.87M50.8 128.9h0.87M70.3 128.9h0.87M98.0 128.9h0.87M113.5 128.9h0.87M120.8 128.9h0.87M124.0 128.9h0.87M125.7 128.9h0.87M128.1 128.9h0.87M131.4 128.9h0.87M137.1 128.9h0.87M150.1 128.9h0.87M151.7 128.9h0.87M159.1 128.9h0.87M159.9 128.9h0.87M162.3 128.9h0.87M173.7 128.9h0.87M175.3 128.9h0.87M181.9 128.9h0.87M41.8 134.3h0.87M43.4 134.3h0.87M63.0 134.3h0.87M67.9 134.3h0.87M78.5 134.3h0.87M79.3 134.3h0.87M80.9 134.3h0.87M86.6 134.3h0.87M101.3 134.3h0.87M108.6 134.3h0.87M116.7 134.3h0.87M120.0 134.3h0.87M120.8 134.3h0.87M124.9 134.3h0.87M127.3 134.3h0.87M128.9 134.3h0.87M132.2 134.3h0.87M138.7 134.3h0.87M145.2 134.3h0.87M146.8 134.3h0.87M148.5 134.3h0.87M170.5 134.3h0.87M177.0 134.3h0.87M181.0 134.3h0.87M45.1 139.7h0.87M58.1 139.7h0.87M66.2 139.7h0.87M80.1 139.7h0.87M93.1 139.7h0.87M98.0 139.7h0.87M99.6 139.7h0.87M112.7 139.7h0.87M115.9 139.7h0.87M121.6 139.7h0.87M122.4 139.7h0.87M139.5 139.7h0.87M145.2 139.7h0.87M146.0 139.7h0.87M147.7 139.7h0.87M154.2 139.7h0.87M159.9 139.7h0.87M161.5 139.7h0.87M170.5 139.7h0.87M171.3 139.7h0.87M173.7 139.7h0.87M179.4 139.7h0.87M180.2 139.7h0.87M181.9 139.7h0.87M41.8 145.1h0.87M47.5 145.1h0.87M67.1 145.1h0.87M82.5 145.1h0.87M85.0 145.1h0.87M92.3 145.1h0.87M102.9 145.1h0.87M104.5 145.1h0.87M107.8 145.1h0.87M109.4 145.1h0.87M116.7 145.1h0.87M120.8 145.1h0.87M124.0 145.1h0.87M132.2 145.1h0.87M133.0 145.1h0.87M134.6 145.1h0.87M141.1 145.1h0.87M145.2 145.1h0.87M160.7 145.1h0.87M161.5 145.1h0.87M162.3 145.1h0.87M164.8 145.1h0.87M177.0 145.1h0.87M177.8 145.1h0.87M47.5 150.5h0.87M50.8 150.5h0.87M79.3 150.5h0.87M81.7 150.5h0.87M82.5 150.5h0.87M85.0 150.5h0.87M96.4 150.5h0.87M101.3 150.5h0.87M107.0 150.5h0.87M108.6 150.5h0.87M127.3 150.5h0.87M128.9 150.5h0.87M129.7 150.5h0.87M135.4 150.5h0.87M140.3 150.5h0.87M145.2 150.5h0.87M148.5 150.5h0.87M159.9 150.5h0.87M163.9 150.5h0.87M167.2 150.5h0.87M169.6 150.5h0.87M70.3 155.9h0.87M89.0 155.9h0.87M91.5 155.9h0.87M107.0 155.9h0.87M120.0 155.9h0.87M125.7 155.9h0.87M134.6 155.9h0.87M137.1 155.9h0.87M139.5 155.9h0.87M141.1 155.9h0.87M142.0 155.9h0.87M143.6 155.9h0.87M146.0 155.9h0.87M150.1 155.9h0.87M163.9 155.9h0.87M166.4 155.9h0.87M170.5 155.9h0.87M171.3 155.9h0.87M172.1 155.9h0.87M174.5 155.9h0.87M177.0 155.9h0.87M181.9 155.9h0.87M54.8 161.2h0.87M57.3 161.2h0.87M76.8 161.2h0.87M81.7 161.2h0.87M86.6 161.2h0.87M98.0 161.2h0.87M108.6 161.2h0.87M117.5 161.2h0.87M118.3 161.2h0.87M128.1 161.2h0.87M131.4 161.2h0.87M144.4 161.2h0.87M151.7 161.2h0.87M162.3 161.2h0.87M166.4 161.2h0.87M167.2 161.2h0.87M169.6 161.2h0.87M171.3 161.2h0.87M175.3 161.2h0.87M178.6 161.2h0.87M179.4 161.2h0.87M45.9 166.6h0.87M59.7 166.6h0.87M71.1 166.6h0.87M74.4 166.6h0.87M81.7 166.6h0.87M85.0 166.6h0.87M85.8 166.6h0.87M89.0 166.6h0.87M91.5 166.6h0.87M96.4 166.6h0.87M108.6 166.6h0.87M112.7 166.6h0.87M127.3 166.6h0.87M131.4 166.6h0.87M132.2 166.6h0.87M133.0 166.6h0.87M135.4 166.6h0.87M146.0 166.6h0.87M159.1 166.6h0.87M163.1 166.6h0.87M164.8 166.6h0.87M168.0 166.6h0.87M41.0 172.0h0.87M47.5 172.0h0.87M63.0 172.0h0.87M71.1 172.0h0.87M78.5 172.0h0.87M85.8 172.0h0.87M88.2 172.0h0.87M111.0 172.0h0.87M112.7 172.0h0.87M115.1 172.0h0.87M124.9 172.0h0.87M126.5 172.0h0.87M147.7 172.0h0.87M152.5 172.0h0.87M155.0 172.0h0.87M167.2 172.0h0.87M173.7 172.0h0.87M181.0 172.0h0.87M57.3 177.4h0.87M71.1 177.4h0.87M81.7 177.4h0.87M89.0 177.4h0.87M102.9 177.4h0.87M107.0 177.4h0.87M111.8 177.4h0.87M122.4 177.4h0.87M132.2 177.4h0.87M135.4 177.4h0.87M139.5 177.4h0.87M140.3 177.4h0.87M143.6 177.4h0.87M151.7 177.4h0.87M159.1 177.4h0.87M168.8 177.4h0.87M171.3 177.4h0.87M180.2 177.4h0.87M42.6 182.8h0.87M43.4 182.8h0.87M50.8 182.8h0.87M59.7 182.8h0.87M71.9 182.8h0.87M85.8 182.8h0.87M91.5 182.8h0.87M93.9 182.8h0.87M95.6 182.8h0.87M100.4 182.8h0.87M102.1 182.8h0.87M106.1 182.8h0.87M120.0 182.8h0.87M120.8 182.8h0.87M124.0 182.8h0.87M125.7 182.8h0.87M129.7 182.8h0.87M134.6 182.8h0.87M135.4 182.8h0.87M137.1 182.8h0.87M147.7 182.8h0.87M150.9 182.8h0.87M151.7 182.8h0.87M159.1 182.8h0.87M168.8 182.8h0.87M169.6 182.8h0.87M171.3 182.8h0.87M181.9 182.8h0.87M41.0 188.2h0.87M59.7 188.2h0.87M76.8 188.2h0.87M82.5 188.2h0.87M90.7 188.2h0.87M97.2 188.2h0.87M101.3 188.2h0.87M102.9 188.2h0.87M109.4 188.2h0.87M110.2 188.2h0.87M112.7 188.2h0.87M117.5 188.2h0.87M118.3 188.2h0.87M120.0 188.2h0.87M123.2 188.2h0.87M125.7 188.2h0.87M127.3 188.2h0.87M131.4 188.2h0.87M133.0 188.2h0.87M137.1 188.2h0.87M146.8 188.2h0.87M148.5 188.2h0.87M181.9 188.2h0.87M81.7 193.6h0.87M82.5 193.6h0.87M96.4 193.6h0.87M98.0 193.6h0.87M107.8 193.6h0.87M115.1 193.6h0.87M118.3 193.6h0.87M123.2 193.6h0.87M136.3 193.6h0.87M146.0 193.6h0.87M146.8 193.6h0.87M154.2 193.6h0.87M157.4 193.6h0.87M158.2 193.6h0.87M168.8 193.6h0.87M170.5 193.6h0.87M180.2 193.6h0.87M181.9 193.6h0.87M58.9 199.0h0.87M96.4 199.0h0.87M108.6 199.0h0.87M127.3 199.0h0.87M128.9 199.0h0.87M133.0 199.0h0.87M134.6 199.0h0.87M138.7 199.0h0.87M146.0 199.0h0.87M147.7 199.0h0.87M148.5 199.0h0.87M163.9 199.0h0.87M166.4 199.0h0.87M173.7 199.0h0.87M177.8 199.0h0.87M180.2 199.0h0.87M181.0 199.0h0.87"/>
<path fill="none" stroke-width="5.45" stroke="#f8dad1" d="M44.3 26.4h0.87M50.8 26.4h0.87M52.4 26.4h0.87M59.7 26.4h0.87M62.2 26.4h0.87M78.5 26.4h0.87M113.5 26.4h0.87M119.2 26.4h0.87M128.1 26.4h0.87M131.4 26.4h0.87M137.1 26.4h0.87M137.9 26.4h0.87M163.9 26.4h0.87M61.4 31.8h0.87M64.6 31.8h0.87M71.1 31.8h0.87M71.9 31.8h0.87M80.1 31.8h0.87M81.7 31.8h0.87M89.0 31.8h0.87M93.9 31.8h0.87M98.8 31.8h0.87M100.4 31.8h0.87M102.1 31.8h0.87M102.9 31.8h0.87M104.5 31.8h0.87M111.0 31.8h0.87M115.9 31.8h0.87M116.7 31.8h0.87M120.8 31.8h0.87M125.7 31.8h0.87M127.3 31.8h0.87M128.1 31.8h0.87M133.0 31.8h0.87M149.3 31.8h0.87M150.1 31.8h0.87M157.4 31.8h0.87M158.2 31.8h0.87M159.1 31.8h0.87M162.3 31.8h0.87M167.2 31.8h0.87M168.8 31.8h0.87M169.6 31.8h0.87M172.1 31.8h0.87M173.7 31.8h0.87M45.1 37.2h0.87M45.9 37.2h0.87M48.3 37.2h0.87M55.7 37.2h0.87M59.7 37.2h0.87M61.4 37.2h0.87M70.3 37.2h0.87M71.1 37.2h0.87M83.3 37.2h0.87M91.5 37.2h0.87M98.8 37.2h0.87M99.6 37.2h0.87M102.1 37.2h0.87M114.3 37.2h0.87M118.3 37.2h0.87M128.9 37.2h0.87M137.1 37.2h0.87M140.3 37.2h0.87M142.0 37.2h0.87M144.4 37.2h0.87M150.1 37.2h0.87M155.8 37.2h0.87M159.9 37.2h0.87M165.6 37.2h0.87M179.4 37.2h0.87M51.6 42.6h0.87M63.0 42.6h0.87M67.9 42.6h0.87M74.4 42.6h0.87M79.3 42.6h0.87M80.1 42.6h0.87M90.7 42.6h0.87M96.4 42.6h0.87M98.0 42.6h0.87M104.5 42.6h0.87M111.0 42.6h0.87M114.3 42.6h0.87M115.1 42.6h0.87M118.3 42.6h0.87M120.8 42.6h0.87M125.7 42.6h0.87M126.5 42.6h0.87M134.6 42.6h0.87M136.3 42.6h0.87M138.7 42.6h0.87M146.8 42.6h0.87M154.2 42.6h0.87M159.1 42.6h0.87M162.3 42.6h0.87M172.1 42.6h0.87M175.3 42.6h0.87M183.5 42.6h0.87M45.9 48.0h0.87M50.8 48.0h0.87M52.4 48.0h0.87M58.9 48.0h0.87M60.5 48.0h0.87M80.1 48.0h0.87M80.9 48.0h0.87M93.1 48.0h0.87M95.6 48.0h0.87M104.5 48.0h0.87M111.8 48.0h0.87M114.3 48.0h0.87M118.3 48.0h0.87M120.0 48.0h0.87M121.6 48.0h0.87M122.4 48.0h0.87M128.1 48.0h0.87M134.6 48.0h0.87M146.8 48.0h0.87M164.8 48.0h0.87M170.5 48.0h0.87M176.2 48.0h0.87M177.8 48.0h0.87M63.8 53.4h0.87M68.7 53.4h0.87M80.1 53.4h0.87M80.9 53.4h0.87M81.7 53.4h0.87M97.2 53.4h0.87M117.5 53.4h0.87M124.0 53.4h0.87M140.3 53.4h0.87M146.0 53.4h0.87M148.5 53.4h0.87M158.2 53.4h0.87M160.7 53.4h0.87M161.5 53.4h0.87M163.9 53.4h0.87M177.8 53.4h0.87M178.6 53.4h0.87M45.9 58.8h0.87M47.5 58.8h0.87M48.3 58.8h0.87M50.8 58.8h0.87M61.4 58.8h0.87M64.6 58.8h0.87M74.4 58.8h0.87M76.0 58.8h0.87M81.7 58.8h0.87M82.5 58.8h0.87M85.0 58.8h0.87M89.0 58.8h0.87M93.9 58.8h0.87M98.8 58.8h0.87M104.5 58.8h0.87M112.7 58.8h0.87M113.5 58.8h0.87M115.9 58.8h0.87M129.7 58.8h0.87M132.2 58.8h0.87M142.0 58.8h0.87M146.0 58.8h0.87M152.5 58.8h0.87M41.0 64.2h0.87M46.7 64.2h0.87M58.1 64.2h0.87M58.9 64.2h0.87M62.2 64.2h0.87M63.0 64.2h0.87M63.8 64.2h0.87M67.9 64.2h0.87M71.9 64.2h0.87M76.8 64.2h0.87M81.7 64.2h0.87M82.5 64.2h0.87M89.0 64.2h0.87M96.4 64.2h0.87M98.8 64.2h0.87M102.1 64.2h0.87M107.8 64.2h0.87M116.7 64.2h0.87M128.9 64.2h0.87M137.1 64.2h0.87M138.7 64.2h0.87M141.1 64.2h0.87M142.0 64.2h0.87M146.8 64.2h0.87M159.1 64.2h0.87M163.1 64.2h0.87M164.8 64.2h0.87M169.6 64.2h0.87M181.0 64.2h0.87M41.0 69.5h0.87M43.4 69.5h0.87M58.1 69.5h0.87M60.5 69.5h0.87M70.3 69.5h0.87M71.9 69.5h0.87M111.8 69.5h0.87M117.5 69.5h0.87M119.2 69.5h0.87M120.8 69.5h0.87M128.1 69.5h0.87M143.6 69.5h0.87M146.0 69.5h0.87M154.2 69.5h0.87M157.4 69.5h0.87M177.8 69.5h0.87M54.8 74.9h0.87M57.3 74.9h0.87M58.1 74.9h0.87M64.6 74.9h0.87M76.8 74.9h0.87M77.6 74.9h0.87M95.6 74.9h0.87M110.2 74.9h0.87M122.4 74.9h0.87M127.3 74.9h0.87M128.9 74.9h0.87M132.2 74.9h0.87M147.7 74.9h0.87M167.2 74.9h0.87M177.0 74.9h0.87M41.0 80.3h0.87M41.8 80.3h0.87M47.5 80.3h0.87M48.3 80.3h0.87M54.0 80.3h0.87M58.9 80.3h0.87M59.7 80.3h0.87M85.8 80.3h0.87M88.2 80.3h0.87M89.0 80.3h0.87M102.1 80.3h0.87M102.9 80.3h0.87M107.0 80.3h0.87M115.1 80.3h0.87M118.3 80.3h0.87M125.7 80.3h0.87M127.3 80.3h0.87M133.8 80.3h0.87M144.4 80.3h0.87M147.7 80.3h0.87M150.9 80.3h0.87M155.0 80.3h0.87M160.7 80.3h0.87M162.3 80.3h0.87M166.4 80.3h0.87M167.2 80.3h0.87M172.9 80.3h0.87M44.3 85.7h0.87M75.2 85.7h0.87M77.6 85.7h0.87M78.5 85.7h0.87M79.3 85.7h0.87M91.5 85.7h0.87M96.4 85.7h0.87M99.6 85.7h0.87M108.6 85.7h0.87M111.0 85.7h0.87M115.1 85.7h0.87M117.5 85.7h0.87M118.3 85.7h0.87M120.0 85.7h0.87M122.4 85.7h0.87M126.5 85.7h0.87M131.4 85.7h0.87M132.2 85.7h0.87M133.0 85.7h0.87M143.6 85.7h0.87M144.4 85.7h0.87M149.3 85.7h0.87M156.6 85.7h0.87M159.9 85.7h0.87M172.1 85.7h0.87M180.2 85.7h0.87M181.0 85.7h0.87M41.8 91.1h0.87M43.4 91.1h0.87M63.0 91.1h0.87M80.9 91.1h0.87M82.5 91.1h0.87M91.5 91.1h0.87M104.5 91.1h0.87M114.3 91.1h0.87M120.8 91.1h0.87M129.7 91.1h0.87M132.2 91.1h0.87M135.4 91.1h0.87M138.7 91.1h0.87M147.7 91.1h0.87M159.9 91.1h0.87M164.8 91.1h0.87M179.4 91.1h0.87M45.1 96.5h0.87M46.7 96.5h0.87M47.5 96.5h0.87M50.8 96.5h0.87M54.8 96.5h0.87M58.1 96.5h0.87M60.5 96.5h0.87M67.9 96.5h0.87M74.4 96.5h0.87M80.1 96.5h0.87M81.7 96.5h0.87M82.5 96.5h0.87M91.5 96.5h0.87M94.7 96.5h0.87M98.8 96.5h0.87M101.3 96.5h0.87M109.4 96.5h0.87M115.9 96.5h0.87M118.3 96.5h0.87M124.9 96.5h0.87M128.9 96.5h0.87M146.0 96.5h0.87M150.1 96.5h0.87M157.4 96.5h0.87M162.3 96.5h0.87M164.8 96.5h0.87M41.8 101.9h0.87M42.6 101.9h0.87M45.1 101.9h0.87M47.5 101.9h0.87M59.7 101.9h0.87M63.0 101.9h0.87M67.1 101.9h0.87M67.9 101.9h0.87M70.3 101.9h0.87M85.8 101.9h0.87M93.1 101.9h0.87M93.9 101.9h0.87M103.7 101.9h0.87M108.6 101.9h0.87M115.9 101.9h0.87M128.1 101.9h0.87M128.9 101.9h0.87M133.0 101.9h0.87M148.5 101.9h0.87M150.1 101.9h0.87M154.2 101.9h0.87M159.9 101.9h0.87M161.5 101.9h0.87M164.8 101.9h0.87M167.2 101.9h0.87M169.6 101.9h0.87M177.0 101.9h0.87M41.8 107.3h0.87M47.5 107.3h0.87M55.7 107.3h0.87M56.5 107.3h0.87M57.3 107.3h0.87M59.7 107.3h0.87M70.3 107.3h0.87M76.8 107.3h0.87M89.0 107.3h0.87M94.7 107.3h0.87M101.3 107.3h0.87M109.4 107.3h0.87M111.8 107.3h0.87M118.3 107.3h0.87M132.2 107.3h0.87M141.1 107.3h0.87M150.9 107.3h0.87M177.8 107.3h0.87M48.3 112.7h0.87M50.8 112.7h0.87M54.8 112.7h0.87M59.7 112.7h0.87M60.5 112.7h0.87M63.8 112.7h0.87M66.2 112.7h0.87M71.1 112.7h0.87M74.4 112.7h0.87M77.6 112.7h0.87M93.1 112.7h0.87M93.9 112.7h0.87M100.4 112.7h0.87M101.3 112.7h0.87M105.3 112.7h0.87M120.0 112.7h0.87M124.9 112.7h0.87M128.1 112.7h0.87M146.0 112.7h0.87M148.5 112.7h0.87M157.4 112.7h0.87M177.8 112.7h0.87M183.5 112.7h0.87M41.8 118.1h0.87M55.7 118.1h0.87M58.9 118.1h0.87M60.5 118.1h0.87M74.4 118.1h0.87M81.7 118.1h0.87M90.7 118.1h0.87M94.7 118.1h0.87M114.3 118.1h0.87M116.7 118.1h0.87M135.4 118.1h0.87M169.6 118.1h0.87M181.9 118.1h0.87M60.5 123.5h0.87M61.4 123.5h0.87M70.3 123.5h0.87M76.8 123.5h0.87M85.0 123.5h0.87M85.8 123.5h0.87M99.6 123.5h0.87M115.9 123.5h0.87M122.4 123.5h0.87M124.0 123.5h0.87M126.5 123.5h0.87M128.1 123.5h0.87M142.0 123.5h0.87M155.8 123.5h0.87M158.2 123.5h0.87M164.8 123.5h0.87M173.7 123.5h0.87M177.0 123.5h0.87M180.2 123.5h0.87M181.0 123.5h0.87M181.9 123.5h0.87M182.7 123.5h0.87M64.6 128.9h0.87M67.1 128.9h0.87M76.8 128.9h0.87M85.0 128.9h0.87M91.5 128.9h0.87M93.1 128.9h0.87M97.2 128.9h0.87M99.6 128.9h0.87M106.1 128.9h0.87M108.6 128.9h0.87M110.2 128.9h0.87M116.7 128.9h0.87M117.5 128.9h0.87M123.2 128.9h0.87M136.3 128.9h0.87M138.7 128.9h0.87M147.7 128.9h0.87M150.9 128.9h0.87M160.7 128.9h0.87M163.9 128.9h0.87M166.4 128.9h0.87M167.2 128.9h0.87M168.8 128.9h0.87M170.5 128.9h0.87M172.1 128.9h0.87M178.6 128.9h0.87M42.6 134.3h0.87M47.5 134.3h0.87M53.2 134.3h0.87M54.8 134.3h0.87M59.7 134.3h0.87M61.4 134.3h0.87M76.0 134.3h0.87M85.8 134.3h0.87M89.0 134.3h0.87M93.1 134.3h0.87M93.9 134.3h0.87M97.2 134.3h0.87M99.6 134.3h0.87M107.0 134.3h0.87M107.8 134.3h0.87M109.4 134.3h0.87M111.8 134.3h0.87M117.5 134.3h0.87M119.2 134.3h0.87M122.4 134.3h0.87M126.5 134.3h0.87M133.8 134.3h0.87M141.1 134.3h0.87M150.9 134.3h0.87M155.8 134.3h0.87M165.6 134.3h0.87M168.0 134.3h0.87M169.6 134.3h0.87M171.3 134.3h0.87M172.1 134.3h0.87M41.0 139.7h0.87M47.5 139.7h0.87M50.8 139.7h0.87M55.7 139.7h0.87M63.0 139.7h0.87M80.9 139.7h0.87M96.4 139.7h0.87M101.3 139.7h0.87M111.8 139.7h0.87M113.5 139.7h0.87M117.5 139.7h0.87M120.0 139.7h0.87M120.8 139.7h0.87M126.5 139.7h0.87M133.0 139.7h0.87M134.6 139.7h0.87M138.7 139.7h0.87M140.3 139.7h0.87M155.8 139.7h0.87M159.1 139.7h0.87M163.1 139.7h0.87M167.2 139.7h0.87M169.6 139.7h0.87M42.6 145.1h0.87M45.9 145.1h0.87M52.4 145.1h0.87M60.5 145.1h0.87M71.1 145.1h0.87M71.9 145.1h0.87M83.3 145.1h0.87M85.8 145.1h0.87M88.2 145.1h0.87M97.2 145.1h0.87M112.7 145.1h0.87M117.5 145.1h0.87M120.0 145.1h0.87M133.8 145.1h0.87M142.0 145.1h0.87M157.4 145.1h0.87M163.9 145.1h0.87M170.5 145.1h0.87M173.7 145.1h0.87M43.4 150.5h0.87M61.4 150.5h0.87M89.0 150.5h0.87M99.6 150.5h0.87M100.4 150.5h0.87M105.3 150.5h0.87M115.1 150.5h0.87M115.9 150.5h0.87M117.5 150.5h0.87M121.6 150.5h0.87M122.4 150.5h0.87M123.2 150.5h0.87M125.7 150.5h0.87M132.2 150.5h0.87M137.9 150.5h0.87M144.4 150.5h0.87M146.0 150.5h0.87M146.8 150.5h0.87M150.9 150.5h0.87M156.6 150.5h0.87M157.4 150.5h0.87M159.1 150.5h0.87M160.7 150.5h0.87M162.3 150.5h0.87M164.8 150.5h0.87M166.4 150.5h0.87M168.0 150.5h0.87M171.3 150.5h0.87M173.7 150.5h0.87M177.0 150.5h0.87M178.6 150.5h0.87M181.9 150.5h0.87M182.7 150.5h0.87M183.5 150.5h0.87M43.4 155.9h0.87M50.8 155.9h0.87M78.5 155.9h0.87M80.9 155.9h0.87M86.6 155.9h0.87M90.7 155.9h0.87M96.4 155.9h0.87M99.6 155.9h0.87M107.8 155.9h0.87M111.8 155.9h0.87M122.4 155.9h0.87M124.9 155.9h0.87M133.8 155.9h0.87M136.3 155.9h0.87M151.7 155.9h0.87M155.8 155.9h0.87M177.8 155.9h0.87M180.2 155.9h0.87M183.5 155.9h0.87M45.1 161.2h0.87M59.7 161.2h0.87M64.6 161.2h0.87M67.9 161.2h0.87M71.9 161.2h0.87M74.4 161.2h0.87M77.6 161.2h0.87M82.5 161.2h0.87M85.8 161.2h0.87M89.0 161.2h0.87M91.5 161.2h0.87M93.1 161.2h0.87M96.4 161.2h0.87M102.9 161.2h0.87M104.5 161.2h0.87M124.0 161.2h0.87M132.2 161.2h0.87M141.1 161.2h0.87M148.5 161.2h0.87M157.4 161.2h0.87M176.2 161.2h0.87M44.3 166.6h0.87M57.3 166.6h0.87M61.4 166.6h0.87M71.9 166.6h0.87M76.8 166.6h0.87M80.1 166.6h0.87M80.9 166.6h0.87M90.7 166.6h0.87M98.0 166.6h0.87M104.5 166.6h0.87M107.8 166.6h0.87M119.2 166.6h0.87M155.0 166.6h0.87M158.2 166.6h0.87M169.6 166.6h0.87M173.7 166.6h0.87M180.2 166.6h0.87M41.8 172.0h0.87M50.8 172.0h0.87M58.1 172.0h0.87M67.9 172.0h0.87M91.5 172.0h0.87M93.9 172.0h0.87M97.2 172.0h0.87M105.3 172.0h0.87M106.1 172.0h0.87M109.4 172.0h0.87M143.6 172.0h0.87M154.2 172.0h0.87M157.4 172.0h0.87M159.9 172.0h0.87M168.8 172.0h0.87M178.6 172.0h0.87M179.4 172.0h0.87M50.8 177.4h0.87M72.8 177.4h0.87M80.1 177.4h0.87M85.0 177.4h0.87M91.5 177.4h0.87M98.8 177.4h0.87M116.7 177.4h0.87M118.3 177.4h0.87M120.8 177.4h0.87M133.8 177.4h0.87M145.2 177.4h0.87M155.8 177.4h0.87M159.9 177.4h0.87M45.9 182.8h0.87M50.0 182.8h0.87M63.0 182.8h0.87M71.1 182.8h0.87M72.8 182.8h0.87M79.3 182.8h0.87M93.1 182.8h0.87M97.2 182.8h0.87M98.0 182.8h0.87M98.8 182.8h0.87M107.0 182.8h0.87M116.7 182.8h0.87M121.6 182.8h0.87M140.3 182.8h0.87M156.6 182.8h0.87M166.4 182.8h0.87M168.0 182.8h0.87M177.8 182.8h0.87M42.6 188.2h0.87M63.0 188.2h0.87M70.3 188.2h0.87M74.4 188.2h0.87M93.1 188.2h0.87M98.8 188.2h0.87M104.5 188.2h0.87M107.0 188.2h0.87M108.6 188.2h0.87M113.5 188.2h0.87M115.9 188.2h0.87M116.7 188.2h0.87M119.2 188.2h0.87M120.8 188.2h0.87M128.9 188.2h0.87M132.2 188.2h0.87M135.4 188.2h0.87M139.5 188.2h0.87M150.1 188.2h0.87M152.5 188.2h0.87M157.4 188.2h0.87M158.2 188.2h0.87M164.8 188.2h0.87M171.3 188.2h0.87M175.3 188.2h0.87M179.4 188.2h0.87M180.2 188.2h0.87M45.9 193.6h0.87M57.3 193.6h0.87M74.4 193.6h0.87M85.8 193.6h0.87M95.6 193.6h0.87M97.2 193.6h0.87M112.7 193.6h0.87M116.7 193.6h0.87M119.2 193.6h0.87M120.8 193.6h0.87M128.1 193.6h0.87M131.4 193.6h0.87M133.8 193.6h0.87M134.6 193.6h0.87M152.5 193.6h0.87M156.6 193.6h0.87M163.1 193.6h0.87M164.8 193.6h0.87M171.3 193.6h0.87M172.1 193.6h0.87M177.0 193.6h0.87M178.6 193.6h0.87M50.0 199.0h0.87M71.1 199.0h0.87M76.0 199.0h0.87M79.3 199.0h0.87M82.5 199.0h0.87M85.0 199.0h0.87M88.2 199.0h0.87M89.0 199.0h0.87M91.5 199.0h0.87M95.6 199.0h0.87M104.5 199.0h0.87M109.4 199.0h0.87M113.5 199.0h0.87M119.2 199.0h0.87M120.8 199.0h0.87M128.1 199.0h0.87M140.3 199.0h0.87M152.5 199.0h0.87M159.1 199.0h0.87M161.5 199.0h0.87M163.1 199.0h0.87M167.2 199.0h0.87M177.0 199.0h0.87"/>
<path fill="none" stroke-width="5.45" stroke="#faf7f4" d="M45.9 26.4h0.87M47.5 26.4h0.87M51.6 26.4h0.87M54.8 26.4h0.87M63.0 26.4h0.87M67.1 26.4h0.87M70.3 26.4h0.87M85.0 26.4h0.87M88.2 26.4h0.87M89.9 26.4h0.87M91.5 26.4h0.87M93.9 26.4h0.87M94.7 26.4h0.87M102.1 26.4h0.87M107.0 26.4h0.87M109.4 26.4h0.87M111.0 26.4h0.87M111.8 26.4h0.87M114.3 26.4h0.87M115.9 26.4h0.87M118.3 26.4h0.87M124.0 26.4h0.87M132.2 26.4h0.87M133.8 26.4h0.87M142.0 26.4h0.87M147.7 26.4h0.87M155.0 26.4h0.87M159.1 26.4h0.87M166.4 26.4h0.87M167.2 26.4h0.87M169.6 26.4h0.87M178.6 26.4h0.87M41.8 31.8h0.87M45.1 31.8h0.87M45.9 31.8h0.87M58.1 31.8h0.87M79.3 31.8h0.87M86.6 31.8h0.87M91.5 31.8h0.87M95.6 31.8h0.87M99.6 31.8h0.87M110.2 31.8h0.87M111.8 31.8h0.87M118.3 31.8h0.87M132.2 31.8h0.87M137.1 31.8h0.87M142.0 31.8h0.87M156.6 31.8h0.87M160.7 31.8h0.87M163.1 31.8h0.87M164.8 31.8h0.87M168.0 31.8h0.87M42.6 37.2h0.87M54.8 37.2h0.87M58.1 37.2h0.87M63.0 37.2h0.87M77.6 37.2h0.87M85.0 37.2h0.87M86.6 37.2h0.87M88.2 37.2h0.87M101.3 37.2h0.87M112.7 37.2h0.87M115.9 37.2h0.87M119.2 37.2h0.87M121.6 37.2h0.87M128.1 37.2h0.87M132.2 37.2h0.87M133.0 37.2h0.87M133.8 37.2h0.87M146.0 37.2h0.87M149.3 37.2h0.87M150.9 37.2h0.87M162.3 37.2h0.87M163.1 37.2h0.87M168.0 37.2h0.87M43.4 42.6h0.87M44.3 42.6h0.87M45.1 42.6h0.87M54.8 42.6h0.87M57.3 42.6h0.87M59.7 42.6h0.87M60.5 42.6h0.87M70.3 42.6h0.87M71.1 42.6h0.87M76.8 42.6h0.87M85.0 42.6h0.87M97.2 42.6h0.87M107.8 42.6h0.87M124.9 42.6h0.87M132.2 42.6h0.87M133.8 42.6h0.87M139.5 42.6h0.87M140.3 42.6h0.87M141.1 42.6h0.87M166.4 42.6h0.87M168.0 42.6h0.87M168.8 42.6h0.87M170.5 42.6h0.87M181.0 42.6h0.87M50.0 48.0h0.87M71.9 48.0h0.87M74.4 48.0h0.87M77.6 48.0h0.87M91.5 48.0h0.87M93.9 48.0h0.87M94.7 48.0h0.87M96.4 48.0h0.87M101.3 48.0h0.87M105.3 48.0h0.87M109.4 48.0h0.87M136.3 48.0h0.87M137.1 48.0h0.87M145.2 48.0h0.87M150.1 48.0h0.87M155.8 48.0h0.87M157.4 48.0h0.87M163.9 48.0h0.87M167.2 48.0h0.87M175.3 48.0h0.87M179.4 48.0h0.87M183.5 48.0h0.87M44.3 53.4h0.87M55.7 53.4h0.87M58.9 53.4h0.87M83.3 53.4h0.87M85.8 53.4h0.87M89.0 53.4h0.87M92.3 53.4h0.87M99.6 53.4h0.87M101.3 53.4h0.87M102.1 53.4h0.87M110.2 53.4h0.87M120.0 53.4h0.87M120.8 53.4h0.87M125.7 53.4h0.87M128.9 53.4h0.87M137.1 53.4h0.87M144.4 53.4h0.87M155.0 53.4h0.87M155.8 53.4h0.87M166.4 53.4h0.87M172.1 53.4h0.87M174.5 53.4h0.87M175.3 53.4h0.87M181.9 53.4h0.87M41.8 58.8h0.87M54.8 58.8h0.87M66.2 58.8h0.87M69.5 58.8h0.87M70.3 58.8h0.87M95.6 58.8h0.87M99.6 58.8h0.87M116.7 58.8h0.87M125.7 58.8h0.87M131.4 58.8h0.87M141.1 58.8h0.87M147.7 58.8h0.87M149.3 58.8h0.87M161.5 58.8h0.87M166.4 58.8h0.87M170.5 58.8h0.87M172.9 58.8h0.87M174.5 58.8h0.87M180.2 58.8h0.87M45.9 64.2h0.87M50.0 64.2h0.87M52.4 64.2h0.87M53.2 64.2h0.87M59.7 64.2h0.87M85.0 64.2h0.87M93.9 64.2h0.87M95.6 64.2h0.87M105.3 64.2h0.87M111.8 64.2h0.87M114.3 64.2h0.87M120.8 64.2h0.87M128.1 64.2h0.87M139.5 64.2h0.87M150.1 64.2h0.87M150.9 64.2h0.87M153.4 64.2h0.87M157.4 64.2h0.87M160.7 64.2h0.87M168.0 64.2h0.87M175.3 64.2h0.87M179.4 64.2h0.87M61.4 69.5h0.87M71.1 69.5h0.87M74.4 69.5h0.87M79.3 69.5h0.87M85.0 69.5h0.87M98.8 69.5h0.87M101.3 69.5h0.87M105.3 69.5h0.87M107.8 69.5h0.87M115.9 69.5h0.87M118.3 69.5h0.87M120.0 69.5h0.87M131.4 69.5h0.87M134.6 69.5h0.87M138.7 69.5h0.87M140.3 69.5h0.87M161.5 69.5h0.87M163.9 69.5h0.87M166.4 69.5h0.87M168.0 69.5h0.87M170.5 69.5h0.87M183.5 69.5h0.87M42.6 74.9h0.87M50.8 74.9h0.87M52.4 74.9h0.87M70.3 74.9h0.87M71.1 74.9h0.87M99.6 74.9h0.87M105.3 74.9h0.87M107.8 74.9h0.87M109.4 74.9h0.87M116.7 74.9h0.87M124.9 74.9h0.87M139.5 74.9h0.87M141.1 74.9h0.87M151.7 74.9h0.87M152.5 74.9h0.87M157.4 74.9h0.87M159.9 74.9h0.87M179.4 74.9h0.87M183.5 74.9h0.87M42.6 80.3h0.87M45.1 80.3h0.87M60.5 80.3h0.87M70.3 80.3h0.87M92.3 80.3h0.87M93.1 80.3h0.87M94.7 80.3h0.87M97.2 80.3h0.87M101.3 80.3h0.87M111.0 80.3h0.87M115.9 80.3h0.87M117.5 80.3h0.87M119.2 80.3h0.87M124.9 80.3h0.87M131.4 80.3h0.87M134.6 80.3h0.87M135.4 80.3h0.87M140.3 80.3h0.87M142.0 80.3h0.87M150.1 80.3h0.87M157.4 80.3h0.87M168.0 80.3h0.87M170.5 80.3h0.87M172.1 80.3h0.87M173.7 80.3h0.87M41.0 85.7h0.87M42.6 85.7h0.87M43.4 85.7h0.87M50.0 85.7h0.87M54.0 85.7h0.87M60.5 85.7h0.87M67.1 85.7h0.87M80.9 85.7h0.87M93.9 85.7h0.87M98.8 85.7h0.87M107.0 85.7h0.87M116.7 85.7h0.87M125.7 85.7h0.87M133.8 85.7h0.87M137.1 85.7h0.87M138.7 85.7h0.87M150.9 85.7h0.87M154.2 85.7h0.87M159.1 85.7h0.87M163.9 85.7h0.87M168.0 85.7h0.87M170.5 85.7h0.87M179.4 85.7h0.87M50.0 91.1h0.87M59.7 91.1h0.87M67.1 91.1h0.87M71.1 91.1h0.87M71.9 91.1h0.87M76.8 91.1h0.87M95.6 91.1h0.87M99.6 91.1h0.87M101.3 91.1h0.87M106.1 91.1h0.87M109.4 91.1h0.87M111.0 91.1h0.87M112.7 91.1h0.87M120.0 91.1h0.87M126.5 91.1h0.87M131.4 91.1h0.87M136.3 91.1h0.87M137.1 91.1h0.87M140.3 91.1h0.87M142.0 91.1h0.87M148.5 91.1h0.87M151.7 91.1h0.87M156.6 91.1h0.87M162.3 91.1h0.87M167.2 91.1h0.87M168.0 91.1h0.87M171.3 91.1h0.87M173.7 91.1h0.87M175.3 91.1h0.87M41.8 96.5h0.87M55.7 96.5h0.87M61.4 96.5h0.87M79.3 96.5h0.87M80.9 96.5h0.87M86.6 96.5h0.87M95.6 96.5h0.87M110.2 96.5h0.87M113.5 96.5h0.87M122.4 96.5h0.87M136.3 96.5h0.87M138.7 96.5h0.87M143.6 96.5h0.87M155.8 96.5h0.87M166.4 96.5h0.87M168.8 96.5h0.87M172.1 96.5h0.87M172.9 96.5h0.87M48.3 101.9h0.87M74.4 101.9h0.87M80.1 101.9h0.87M91.5 101.9h0.87M95.6 101.9h0.87M99.6 101.9h0.87M104.5 101.9h0.87M106.1 101.9h0.87M109.4 101.9h0.87M111.8 101.9h0.87M113.5 101.9h0.87M124.9 101.9h0.87M134.6 101.9h0.87M139.5 101.9h0.87M141.1 101.9h0.87M143.6 101.9h0.87M144.4 101.9h0.87M155.0 101.9h0.87M157.4 101.9h0.87M168.0 101.9h0.87M178.6 101.9h0.87M180.2 101.9h0.87M43.4 107.3h0.87M48.3 107.3h0.87M58.9 107.3h0.87M63.0 107.3h0.87M63.8 107.3h0.87M67.9 107.3h0.87M74.4 107.3h0.87M78.5 107.3h0.87M86.6 107.3h0.87M89.9 107.3h0.87M93.1 107.3h0.87M98.8 107.3h0.87M99.6 107.3h0.87M105.3 107.3h0.87M107.0 107.3h0.87M120.8 107.3h0.87M124.9 107.3h0.87M126.5 107.3h0.87M128.1 107.3h0.87M131.4 107.3h0.87M134.6 107.3h0.87M136.3 107.3h0.87M146.8 107.3h0.87M151.7 107.3h0.87M155.8 107.3h0.87M159.1 107.3h0.87M161.5 107.3h0.87M168.0 107.3h0.87M168.8 107.3h0.87M172.1 107.3h0.87M174.5 107.3h0.87M177.0 107.3h0.87M181.0 107.3h0.87M41.0 112.7h0.87M42.6 112.7h0.87M45.1 112.7h0.87M55.7 112.7h0.87M58.9 112.7h0.87M63.0 112.7h0.87M76.8 112.7h0.87M85.8 112.7h0.87M89.0 112.7h0.87M97.2 112.7h0.87M103.7 112.7h0.87M106.1 112.7h0.87M107.8 112.7h0.87M119.2 112.7h0.87M127.3 112.7h0.87M131.4 112.7h0.87M132.2 112.7h0.87M133.8 112.7h0.87M135.4 112.7h0.87M136.3 112.7h0.87M140.3 112.7h0.87M142.0 112.7h0.87M145.2 112.7h0.87M150.1 112.7h0.87M152.5 112.7h0.87M159.1 112.7h0.87M168.0 112.7h0.87M45.9 118.1h0.87M53.2 118.1h0.87M70.3 118.1h0.87M71.1 118.1h0.87M77.6 118.1h0.87M91.5 118.1h0.87M97.2 118.1h0.87M102.1 118.1h0.87M107.8 118.1h0.87M109.4 118.1h0.87M123.2 118.1h0.87M129.7 118.1h0.87M138.7 118.1h0.87M139.5 118.1h0.87M143.6 118.1h0.87M146.0 118.1h0.87M150.1 118.1h0.87M152.5 118.1h0.87M159.1 118.1h0.87M163.9 118.1h0.87M168.0 118.1h0.87M173.7 118.1h0.87M58.9 123.5h0.87M67.9 123.5h0.87M74.4 123.5h0.87M76.0 123.5h0.87M80.1 123.5h0.87M91.5 123.5h0.87M97.2 123.5h0.87M116.7 123.5h0.87M118.3 123.5h0.87M127.3 123.5h0.87M137.1 123.5h0.87M138.7 123.5h0.87M139.5 123.5h0.87M146.0 123.5h0.87M146.8 123.5h0.87M150.1 123.5h0.87M150.9 123.5h0.87M50.0 128.9h0.87M54.8 128.9h0.87M63.0 128.9h0.87M72.8 128.9h0.87M79.3 128.9h0.87M80.1 128.9h0.87M80.9 128.9h0.87M81.7 128.9h0.87M82.5 128.9h0.87M83.3 128.9h0.87M89.0 128.9h0.87M104.5 128.9h0.87M111.0 128.9h0.87M124.9 128.9h0.87M126.5 128.9h0.87M132.2 128.9h0.87M134.6 128.9h0.87M135.4 128.9h0.87M152.5 128.9h0.87M156.6 128.9h0.87M174.5 128.9h0.87M177.0 128.9h0.87M177.8 128.9h0.87M180.2 128.9h0.87M41.0 134.3h0.87M50.8 134.3h0.87M57.3 134.3h0.87M70.3 134.3h0.87M71.1 134.3h0.87M83.3 134.3h0.87M100.4 134.3h0.87M102.1 134.3h0.87M104.5 134.3h0.87M114.3 134.3h0.87M134.6 134.3h0.87M136.3 134.3h0.87M139.5 134.3h0.87M150.1 134.3h0.87M160.7 134.3h0.87M168.8 134.3h0.87M176.2 134.3h0.87M179.4 134.3h0.87M50.0 139.7h0.87M52.4 139.7h0.87M58.9 139.7h0.87M71.1 139.7h0.87M81.7 139.7h0.87M82.5 139.7h0.87M86.6 139.7h0.87M88.2 139.7h0.87M98.8 139.7h0.87M109.4 139.7h0.87M111.0 139.7h0.87M124.0 139.7h0.87M131.4 139.7h0.87M135.4 139.7h0.87M141.1 139.7h0.87M143.6 139.7h0.87M150.1 139.7h0.87M155.0 139.7h0.87M156.6 139.7h0.87M157.4 139.7h0.87M168.0 139.7h0.87M175.3 139.7h0.87M58.1 145.1h0.87M58.9 145.1h0.87M61.4 145.1h0.87M63.0 145.1h0.87M70.3 145.1h0.87M72.8 145.1h0.87M77.6 145.1h0.87M78.5 145.1h0.87M81.7 145.1h0.87M89.0 145.1h0.87M93.1 145.1h0.87M93.9 145.1h0.87M99.6 145.1h0.87M111.0 145.1h0.87M111.8 145.1h0.87M124.9 145.1h0.87M127.3 145.1h0.87M139.5 145.1h0.87M146.0 145.1h0.87M149.3 145.1h0.87M152.5 145.1h0.87M159.1 145.1h0.87M175.3 145.1h0.87M45.9 150.5h0.87M48.3 150.5h0.87M50.0 150.5h0.87M52.4 150.5h0.87M54.8 150.5h0.87M57.3 150.5h0.87M58.1 150.5h0.87M58.9 150.5h0.87M59.7 150.5h0.87M60.5 150.5h0.87M63.8 150.5h0.87M64.6 150.5h0.87M66.2 150.5h0.87M67.9 150.5h0.87M68.7 150.5h0.87M75.2 150.5h0.87M76.8 150.5h0.87M77.6 150.5h0.87M78.5 150.5h0.87M83.3 150.5h0.87M85.8 150.5h0.87M86.6 150.5h0.87M90.7 150.5h0.87M93.1 150.5h0.87M97.2 150.5h0.87M98.8 150.5h0.87M102.1 150.5h0.87M103.7 150.5h0.87M104.5 150.5h0.87M107.8 150.5h0.87M111.8 150.5h0.87M113.5 150.5h0.87M120.8 150.5h0.87M126.5 150.5h0.87M131.4 150.5h0.87M133.0 150.5h0.87M134.6 150.5h0.87M136.3 150.5h0.87M137.1 150.5h0.87M139.5 150.5h0.87M141.1 150.5h0.87M150.1 150.5h0.87M155.8 150.5h0.87M161.5 150.5h0.87M175.3 150.5h0.87M179.4 150.5h0.87M181.0 150.5h0.87M41.8 155.9h0.87M42.6 155.9h0.87M46.7 155.9h0.87M53.2 155.9h0.87M59.7 155.9h0.87M61.4 155.9h0.87M64.6 155.9h0.87M75.2 155.9h0.87M76.8 155.9h0.87M77.6 155.9h0.87M81.7 155.9h0.87M88.2 155.9h0.87M109.4 155.9h0.87M124.0 155.9h0.87M133.0 155.9h0.87M135.4 155.9h0.87M138.7 155.9h0.87M140.3 155.9h0.87M146.8 155.9h0.87M157.4 155.9h0.87M168.8 155.9h0.87M41.8 161.2h0.87M60.5 161.2h0.87M61.4 161.2h0.87M63.0 161.2h0.87M90.7 161.2h0.87M102.1 161.2h0.87M103.7 161.2h0.87M106.1 161.2h0.87M111.0 161.2h0.87M115.9 161.2h0.87M116.7 161.2h0.87M119.2 161.2h0.87M120.8 161.2h0.87M125.7 161.2h0.87M135.4 161.2h0.87M143.6 161.2h0.87M146.0 161.2h0.87M168.8 161.2h0.87M41.8 166.6h0.87M47.5 166.6h0.87M50.0 166.6h0.87M54.8 166.6h0.87M58.1 166.6h0.87M86.6 166.6h0.87M93.9 166.6h0.87M97.2 166.6h0.87M101.3 166.6h0.87M110.2 166.6h0.87M111.0 166.6h0.87M115.9 166.6h0.87M120.0 166.6h0.87M122.4 166.6h0.87M124.0 166.6h0.87M125.7 166.6h0.87M133.8 166.6h0.87M143.6 166.6h0.87M145.2 166.6h0.87M146.8 166.6h0.87M154.2 166.6h0.87M161.5 166.6h0.87M167.2 166.6h0.87M170.5 166.6h0.87M181.9 166.6h0.87M45.1 172.0h0.87M49.1 172.0h0.87M50.0 172.0h0.87M60.5 172.0h0.87M66.2 172.0h0.87M75.2 172.0h0.87M79.3 172.0h0.87M81.7 172.0h0.87M87.4 172.0h0.87M89.0 172.0h0.87M92.3 172.0h0.87M94.7 172.0h0.87M98.8 172.0h0.87M99.6 172.0h0.87M107.8 172.0h0.87M131.4 172.0h0.87M137.1 172.0h0.87M145.2 172.0h0.87M146.0 172.0h0.87M159.1 172.0h0.87M166.4 172.0h0.87M172.9 172.0h0.87M176.2 172.0h0.87M180.2 172.0h0.87M41.8 177.4h0.87M45.1 177.4h0.87M48.3 177.4h0.87M55.7 177.4h0.87M58.1 177.4h0.87M59.7 177.4h0.87M63.8 177.4h0.87M67.1 177.4h0.87M71.9 177.4h0.87M74.4 177.4h0.87M76.8 177.4h0.87M82.5 177.4h0.87M93.9 177.4h0.87M96.4 177.4h0.87M101.3 177.4h0.87M102.1 177.4h0.87M106.1 177.4h0.87M107.8 177.4h0.87M115.9 177.4h0.87M117.5 177.4h0.87M121.6 177.4h0.87M124.9 177.4h0.87M126.5 177.4h0.87M150.1 177.4h0.87M150.9 177.4h0.87M162.3 177.4h0.87M166.4 177.4h0.87M170.5 177.4h0.87M174.5 177.4h0.87M175.3 177.4h0.87M177.8 177.4h0.87M49.1 182.8h0.87M52.4 182.8h0.87M53.2 182.8h0.87M55.7 182.8h0.87M60.5 182.8h0.87M61.4 182.8h0.87M63.8 182.8h0.87M66.2 182.8h0.87M81.7 182.8h0.87M82.5 182.8h0.87M89.9 182.8h0.87M90.7 182.8h0.87M107.8 182.8h0.87M110.2 182.8h0.87M124.9 182.8h0.87M142.0 182.8h0.87M145.2 182.8h0.87M150.1 182.8h0.87M153.4 182.8h0.87M162.3 182.8h0.87M174.5 182.8h0.87M179.4 182.8h0.87M180.2 182.8h0.87M181.0 182.8h0.87M183.5 182.8h0.87M45.1 188.2h0.87M50.0 188.2h0.87M50.8 188.2h0.87M51.6 188.2h0.87M54.8 188.2h0.87M58.9 188.2h0.87M71.1 188.2h0.87M77.6 188.2h0.87M85.0 188.2h0.87M86.6 188.2h0.87M89.0 188.2h0.87M93.9 188.2h0.87M105.3 188.2h0.87M111.0 188.2h0.87M124.0 188.2h0.87M124.9 188.2h0.87M155.8 188.2h0.87M170.5 188.2h0.87M174.5 188.2h0.87M178.6 188.2h0.87M44.3 193.6h0.87M48.3 193.6h0.87M53.2 193.6h0.87M58.9 193.6h0.87M63.8 193.6h0.87M67.1 193.6h0.87M78.5 193.6h0.87M80.9 193.6h0.87M85.0 193.6h0.87M86.6 193.6h0.87M93.1 193.6h0.87M100.4 193.6h0.87M106.1 193.6h0.87M113.5 193.6h0.87M124.9 193.6h0.87M126.5 193.6h0.87M133.0 193.6h0.87M138.7 193.6h0.87M140.3 193.6h0.87M141.1 193.6h0.87M144.4 193.6h0.87M155.0 193.6h0.87M162.3 193.6h0.87M174.5 193.6h0.87M175.3 193.6h0.87M179.4 193.6h0.87M43.4 199.0h0.87M55.7 199.0h0.87M58.1 199.0h0.87M60.5 199.0h0.87M61.4 199.0h0.87M80.1 199.0h0.87M93.9 199.0h0.87M101.3 199.0h0.87M107.8 199.0h0.87M112.7 199.0h0.87M115.1 199.0h0.87M121.6 199.0h0.87M124.0 199.0h0.87M124.9 199.0h0.87M133.8 199.0h0.87M136.3 199.0h0.87M143.6 199.0h0.87M145.2 199.0h0.87M146.8 199.0h0.87M151.7 199.0h0.87M171.3 199.0h0.87M172.1 199.0h0.87"/>
<path fill="none" stroke-width="5.45" stroke="#a3d3d9" d="M56.5 26.4h0.87M100.4 26.4h0.87M115.1 26.4h0.87M151.7 26.4h0.87M153.4 26.4h0.87M172.1 26.4h0.87M44.3 31.8h0.87M56.5 31.8h0.87M65.4 31.8h0.87M67.1 31.8h0.87M73.6 31.8h0.87M179.4 31.8h0.87M56.5 37.2h0.87M62.2 37.2h0.87M63.8 37.2h0.87M72.8 37.2h0.87M73.6 37.2h0.87M89.0 37.2h0.87M90.7 37.2h0.87M93.9 37.2h0.87M131.4 37.2h0.87M169.6 37.2h0.87M172.9 37.2h0.87M176.2 37.2h0.87M53.2 42.6h0.87M55.7 42.6h0.87M69.5 42.6h0.87M76.0 42.6h0.87M89.9 42.6h0.87M145.2 42.6h0.87M150.9 42.6h0.87M151.7 42.6h0.87M153.4 42.6h0.87M41.8 48.0h0.87M43.4 48.0h0.87M46.7 48.0h0.87M53.2 48.0h0.87M61.4 48.0h0.87M63.8 48.0h0.87M66.2 48.0h0.87M81.7 48.0h0.87M92.3 48.0h0.87M97.2 48.0h0.87M107.8 48.0h0.87M142.8 48.0h0.87M151.7 48.0h0.87M161.5 48.0h0.87M166.4 48.0h0.87M180.2 48.0h0.87M181.0 48.0h0.87M41.0 53.4h0.87M49.1 53.4h0.87M56.5 53.4h0.87M71.9 53.4h0.87M75.2 53.4h0.87M94.7 53.4h0.87M111.8 53.4h0.87M164.8 53.4h0.87M181.0 53.4h0.87M41.0 58.8h0.87M84.2 58.8h0.87M90.7 58.8h0.87M105.3 58.8h0.87M137.1 58.8h0.87M172.1 58.8h0.87M43.4 64.2h0.87M44.3 64.2h0.87M66.2 64.2h0.87M67.1 64.2h0.87M73.6 64.2h0.87M78.5 64.2h0.87M87.4 64.2h0.87M89.9 64.2h0.87M92.3 64.2h0.87M109.4 64.2h0.87M130.6 64.2h0.87M142.8 64.2h0.87M155.0 64.2h0.87M166.4 64.2h0.87M176.2 64.2h0.87M183.5 64.2h0.87M45.1 69.5h0.87M64.6 69.5h0.87M81.7 69.5h0.87M87.4 69.5h0.87M88.2 69.5h0.87M116.7 69.5h0.87M130.6 69.5h0.87M179.4 69.5h0.87M43.4 74.9h0.87M44.3 74.9h0.87M45.9 74.9h0.87M49.1 74.9h0.87M62.2 74.9h0.87M63.8 74.9h0.87M69.5 74.9h0.87M93.9 74.9h0.87M102.9 74.9h0.87M111.0 74.9h0.87M130.6 74.9h0.87M142.8 74.9h0.87M153.4 74.9h0.87M156.6 74.9h0.87M172.1 74.9h0.87M53.2 80.3h0.87M54.8 80.3h0.87M63.8 80.3h0.87M66.2 80.3h0.87M73.6 80.3h0.87M75.2 80.3h0.87M76.0 80.3h0.87M98.8 80.3h0.87M107.8 80.3h0.87M145.2 80.3h0.87M176.2 80.3h0.87M45.1 85.7h0.87M46.7 85.7h0.87M63.0 85.7h0.87M87.4 85.7h0.87M90.7 85.7h0.87M104.5 85.7h0.87M124.0 85.7h0.87M162.3 85.7h0.87M42.6 91.1h0.87M48.3 91.1h0.87M55.7 91.1h0.87M60.5 91.1h0.87M68.7 91.1h0.87M74.4 91.1h0.87M92.3 91.1h0.87M94.7 91.1h0.87M97.2 91.1h0.87M98.8 91.1h0.87M103.7 91.1h0.87M115.1 91.1h0.87M122.4 91.1h0.87M134.6 91.1h0.87M141.1 91.1h0.87M168.8 91.1h0.87M183.5 91.1h0.87M54.0 96.5h0.87M63.8 96.5h0.87M65.4 96.5h0.87M69.5 96.5h0.87M71.9 96.5h0.87M72.8 96.5h0.87M77.6 96.5h0.87M87.4 96.5h0.87M89.9 96.5h0.87M105.3 96.5h0.87M142.8 96.5h0.87M153.4 96.5h0.87M41.0 101.9h0.87M49.1 101.9h0.87M53.2 101.9h0.87M55.7 101.9h0.87M68.7 101.9h0.87M69.5 101.9h0.87M72.8 101.9h0.87M83.3 101.9h0.87M84.2 101.9h0.87M142.8 101.9h0.87M156.6 101.9h0.87M166.4 101.9h0.87M41.0 107.3h0.87M52.4 107.3h0.87M62.2 107.3h0.87M72.8 107.3h0.87M156.6 107.3h0.87M43.4 112.7h0.87M52.4 112.7h0.87M54.0 112.7h0.87M56.5 112.7h0.87M58.1 112.7h0.87M62.2 112.7h0.87M67.9 112.7h0.87M70.3 112.7h0.87M75.2 112.7h0.87M79.3 112.7h0.87M81.7 112.7h0.87M94.7 112.7h0.87M107.0 112.7h0.87M122.4 112.7h0.87M128.9 112.7h0.87M139.5 112.7h0.87M150.9 112.7h0.87M153.4 112.7h0.87M156.6 112.7h0.87M166.4 112.7h0.87M41.0 118.1h0.87M45.1 118.1h0.87M67.9 118.1h0.87M71.9 118.1h0.87M89.0 118.1h0.87M92.3 118.1h0.87M99.6 118.1h0.87M105.3 118.1h0.87M124.9 118.1h0.87M133.0 118.1h0.87M134.6 118.1h0.87M140.3 118.1h0.87M151.7 118.1h0.87M162.3 118.1h0.87M43.4 123.5h0.87M47.5 123.5h0.87M49.1 123.5h0.87M56.5 123.5h0.87M62.2 123.5h0.87M65.4 123.5h0.87M81.7 123.5h0.87M88.2 123.5h0.87M93.9 123.5h0.87M107.0 123.5h0.87M111.0 123.5h0.87M124.9 123.5h0.87M149.3 123.5h0.87M162.3 123.5h0.87M166.4 123.5h0.87M176.2 123.5h0.87M48.3 128.9h0.87M56.5 128.9h0.87M62.2 128.9h0.87M63.8 128.9h0.87M68.7 128.9h0.87M71.9 128.9h0.87M78.5 128.9h0.87M107.8 128.9h0.87M119.2 128.9h0.87M140.3 128.9h0.87M155.0 128.9h0.87M168.0 128.9h0.87M176.2 128.9h0.87M179.4 128.9h0.87M44.3 134.3h0.87M54.0 134.3h0.87M56.5 134.3h0.87M62.2 134.3h0.87M64.6 134.3h0.87M66.2 134.3h0.87M67.1 134.3h0.87M84.2 134.3h0.87M88.2 134.3h0.87M89.9 134.3h0.87M115.9 134.3h0.87M159.1 134.3h0.87M41.8 139.7h0.87M48.3 139.7h0.87M53.2 139.7h0.87M57.3 139.7h0.87M67.1 139.7h0.87M68.7 139.7h0.87M70.3 139.7h0.87M72.8 139.7h0.87M76.8 139.7h0.87M90.7 139.7h0.87M107.8 139.7h0.87M166.4 139.7h0.87M172.1 139.7h0.87M41.0 145.1h0.87M44.3 145.1h0.87M48.3 145.1h0.87M53.2 145.1h0.87M54.8 145.1h0.87M56.5 145.1h0.87M68.7 145.1h0.87M69.5 145.1h0.87M95.6 145.1h0.87M142.8 145.1h0.87M166.4 145.1h0.87M169.6 145.1h0.87M172.9 145.1h0.87M45.1 150.5h0.87M46.7 150.5h0.87M51.6 150.5h0.87M65.4 150.5h0.87M69.5 150.5h0.87M94.7 150.5h0.87M142.8 150.5h0.87M168.8 150.5h0.87M45.1 155.9h0.87M49.1 155.9h0.87M50.0 155.9h0.87M65.4 155.9h0.87M79.3 155.9h0.87M89.9 155.9h0.87M92.3 155.9h0.87M101.3 155.9h0.87M150.9 155.9h0.87M155.0 155.9h0.87M156.6 155.9h0.87M172.9 155.9h0.87M53.2 161.2h0.87M65.4 161.2h0.87M67.1 161.2h0.87M69.5 161.2h0.87M73.6 161.2h0.87M79.3 161.2h0.87M88.2 161.2h0.87M111.8 161.2h0.87M159.1 161.2h0.87M181.0 161.2h0.87M42.6 166.6h0.87M52.4 166.6h0.87M72.8 166.6h0.87M87.4 166.6h0.87M109.4 166.6h0.87M139.5 166.6h0.87M149.3 166.6h0.87M175.3 166.6h0.87M176.2 166.6h0.87M42.6 172.0h0.87M51.6 172.0h0.87M68.7 172.0h0.87M69.5 172.0h0.87M71.9 172.0h0.87M142.8 172.0h0.87M153.4 172.0h0.87M43.4 177.4h0.87M62.2 177.4h0.87M63.0 177.4h0.87M75.2 177.4h0.87M89.9 177.4h0.87M109.4 177.4h0.87M111.0 177.4h0.87M134.6 177.4h0.87M181.0 177.4h0.87M183.5 177.4h0.87M56.5 182.8h0.87M68.7 182.8h0.87M87.4 182.8h0.87M142.8 182.8h0.87M146.0 182.8h0.87M172.9 182.8h0.87M44.3 188.2h0.87M54.0 188.2h0.87M60.5 188.2h0.87M64.6 188.2h0.87M68.7 188.2h0.87M71.9 188.2h0.87M72.8 188.2h0.87M75.2 188.2h0.87M99.6 188.2h0.87M141.1 188.2h0.87M145.2 188.2h0.87M151.7 188.2h0.87M168.8 188.2h0.87M183.5 188.2h0.87M42.6 193.6h0.87M43.4 193.6h0.87M46.7 193.6h0.87M61.4 193.6h0.87M76.0 193.6h0.87M80.1 193.6h0.87M90.7 193.6h0.87M101.3 193.6h0.87M111.8 193.6h0.87M117.5 193.6h0.87M120.0 193.6h0.87M41.8 199.0h0.87M46.7 199.0h0.87M54.8 199.0h0.87M56.5 199.0h0.87M67.1 199.0h0.87M68.7 199.0h0.87M74.4 199.0h0.87M84.2 199.0h0.87M86.6 199.0h0.87M90.7 199.0h0.87M111.8 199.0h0.87M150.1 199.0h0.87M156.6 199.0h0.87M179.4 199.0h0.87"/>
<path fill="none" stroke-width="5.45" stroke="#f3a08a" d="M104.5 26.4h0.87M133.0 26.4h0.87M58.9 31.8h0.87M67.9 31.8h0.87M76.8 31.8h0.87M77.6 31.8h0.87M85.8 31.8h0.87M88.2 31.8h0.87M97.2 31.8h0.87M98.0 31.8h0.87M107.8 31.8h0.87M114.3 31.8h0.87M115.1 31.8h0.87M119.2 31.8h0.87M124.0 31.8h0.87M133.8 31.8h0.87M136.3 31.8h0.87M144.4 31.8h0.87M147.7 31.8h0.87M154.2 31.8h0.87M163.9 31.8h0.87M176.2 31.8h0.87M177.8 31.8h0.87M108.6 37.2h0.87M113.5 37.2h0.87M120.8 37.2h0.87M124.0 37.2h0.87M126.5 37.2h0.87M127.3 37.2h0.87M135.4 37.2h0.87M137.9 37.2h0.87M139.5 37.2h0.87M146.8 37.2h0.87M158.2 37.2h0.87M170.5 37.2h0.87M171.3 37.2h0.87M173.7 37.2h0.87M41.0 42.6h0.87M45.9 42.6h0.87M77.6 42.6h0.87M81.7 42.6h0.87M89.0 42.6h0.87M93.1 42.6h0.87M93.9 42.6h0.87M98.8 42.6h0.87M100.4 42.6h0.87M102.9 42.6h0.87M107.0 42.6h0.87M113.5 42.6h0.87M115.9 42.6h0.87M117.5 42.6h0.87M127.3 42.6h0.87M129.7 42.6h0.87M137.1 42.6h0.87M144.4 42.6h0.87M147.7 42.6h0.87M161.5 42.6h0.87M164.8 42.6h0.87M167.2 42.6h0.87M181.9 42.6h0.87M85.0 48.0h0.87M106.1 48.0h0.87M110.2 48.0h0.87M112.7 48.0h0.87M123.2 48.0h0.87M124.9 48.0h0.87M138.7 48.0h0.87M152.5 48.0h0.87M182.7 48.0h0.87M58.1 53.4h0.87M60.5 53.4h0.87M63.0 53.4h0.87M71.1 53.4h0.87M82.5 53.4h0.87M85.0 53.4h0.87M93.1 53.4h0.87M93.9 53.4h0.87M98.0 53.4h0.87M102.9 53.4h0.87M109.4 53.4h0.87M115.1 53.4h0.87M119.2 53.4h0.87M122.4 53.4h0.87M127.3 53.4h0.87M137.9 53.4h0.87M139.5 53.4h0.87M154.2 53.4h0.87M163.1 53.4h0.87M168.0 53.4h0.87M171.3 53.4h0.87M180.2 53.4h0.87M80.1 58.8h0.87M80.9 58.8h0.87M96.4 58.8h0.87M106.1 58.8h0.87M109.4 58.8h0.87M138.7 58.8h0.87M148.5 58.8h0.87M155.8 58.8h0.87M157.4 58.8h0.87M160.7 58.8h0.87M168.8 58.8h0.87M173.7 58.8h0.87M181.9 58.8h0.87M48.3 64.2h0.87M69.5 64.2h0.87M104.5 64.2h0.87M110.2 64.2h0.87M112.7 64.2h0.87M113.5 64.2h0.87M119.2 64.2h0.87M120.0 64.2h0.87M123.2 64.2h0.87M129.7 64.2h0.87M132.2 64.2h0.87M136.3 64.2h0.87M144.4 64.2h0.87M154.2 64.2h0.87M155.8 64.2h0.87M159.9 64.2h0.87M163.9 64.2h0.87M167.2 64.2h0.87M178.6 64.2h0.87M41.8 69.5h0.87M42.6 69.5h0.87M47.5 69.5h0.87M59.7 69.5h0.87M93.9 69.5h0.87M95.6 69.5h0.87M99.6 69.5h0.87M102.9 69.5h0.87M113.5 69.5h0.87M124.9 69.5h0.87M125.7 69.5h0.87M127.3 69.5h0.87M132.2 69.5h0.87M150.1 69.5h0.87M150.9 69.5h0.87M151.7 69.5h0.87M159.9 69.5h0.87M162.3 69.5h0.87M168.8 69.5h0.87M180.2 69.5h0.87M181.9 69.5h0.87M58.9 74.9h0.87M85.0 74.9h0.87M89.0 74.9h0.87M98.0 74.9h0.87M113.5 74.9h0.87M115.9 74.9h0.87M118.3 74.9h0.87M125.7 74.9h0.87M133.0 74.9h0.87M154.2 74.9h0.87M163.9 74.9h0.87M164.8 74.9h0.87M169.6 74.9h0.87M178.6 74.9h0.87M50.8 80.3h0.87M55.7 80.3h0.87M63.0 80.3h0.87M67.9 80.3h0.87M77.6 80.3h0.87M78.5 80.3h0.87M80.1 80.3h0.87M85.0 80.3h0.87M95.6 80.3h0.87M96.4 80.3h0.87M100.4 80.3h0.87M103.7 80.3h0.87M114.3 80.3h0.87M116.7 80.3h0.87M121.6 80.3h0.87M126.5 80.3h0.87M138.7 80.3h0.87M154.2 80.3h0.87M158.2 80.3h0.87M159.1 80.3h0.87M168.8 80.3h0.87M174.5 80.3h0.87M54.8 85.7h0.87M71.1 85.7h0.87M71.9 85.7h0.87M83.3 85.7h0.87M102.9 85.7h0.87M120.8 85.7h0.87M124.9 85.7h0.87M136.3 85.7h0.87M139.5 85.7h0.87M142.0 85.7h0.87M150.1 85.7h0.87M151.7 85.7h0.87M155.8 85.7h0.87M157.4 85.7h0.87M171.3 85.7h0.87M45.9 91.1h0.87M58.1 91.1h0.87M58.9 91.1h0.87M83.3 91.1h0.87M96.4 91.1h0.87M98.0 91.1h0.87M116.7 91.1h0.87M125.7 91.1h0.87M139.5 91.1h0.87M146.8 91.1h0.87M152.5 91.1h0.87M160.7 91.1h0.87M163.1 91.1h0.87M163.9 91.1h0.87M181.9 91.1h0.87M41.0 96.5h0.87M45.9 96.5h0.87M59.7 96.5h0.87M107.8 96.5h0.87M111.8 96.5h0.87M120.0 96.5h0.87M120.8 96.5h0.87M121.6 96.5h0.87M123.2 96.5h0.87M149.3 96.5h0.87M150.9 96.5h0.87M154.2 96.5h0.87M156.6 96.5h0.87M160.7 96.5h0.87M174.5 96.5h0.87M177.0 96.5h0.87M177.8 96.5h0.87M178.6 96.5h0.87M180.2 96.5h0.87M54.8 101.9h0.87M79.3 101.9h0.87M100.4 101.9h0.87M107.0 101.9h0.87M118.3 101.9h0.87M119.2 101.9h0.87M120.0 101.9h0.87M122.4 101.9h0.87M133.8 101.9h0.87M135.4 101.9h0.87M136.3 101.9h0.87M137.1 101.9h0.87M142.0 101.9h0.87M151.7 101.9h0.87M152.5 101.9h0.87M155.8 101.9h0.87M163.9 101.9h0.87M171.3 101.9h0.87M50.0 107.3h0.87M50.8 107.3h0.87M80.9 107.3h0.87M82.5 107.3h0.87M108.6 107.3h0.87M114.3 107.3h0.87M115.1 107.3h0.87M122.4 107.3h0.87M124.0 107.3h0.87M135.4 107.3h0.87M148.5 107.3h0.87M150.1 107.3h0.87M157.4 107.3h0.87M166.4 107.3h0.87M167.2 107.3h0.87M71.9 112.7h0.87M85.0 112.7h0.87M102.9 112.7h0.87M108.6 112.7h0.87M115.1 112.7h0.87M118.3 112.7h0.87M134.6 112.7h0.87M137.1 112.7h0.87M164.8 112.7h0.87M167.2 112.7h0.87M178.6 112.7h0.87M47.5 118.1h0.87M79.3 118.1h0.87M80.9 118.1h0.87M85.0 118.1h0.87M98.0 118.1h0.87M103.7 118.1h0.87M112.7 118.1h0.87M113.5 118.1h0.87M121.6 118.1h0.87M127.3 118.1h0.87M160.7 118.1h0.87M167.2 118.1h0.87M178.6 118.1h0.87M180.2 118.1h0.87M58.1 123.5h0.87M71.9 123.5h0.87M77.6 123.5h0.87M100.4 123.5h0.87M104.5 123.5h0.87M114.3 123.5h0.87M119.2 123.5h0.87M120.0 123.5h0.87M120.8 123.5h0.87M125.7 123.5h0.87M137.9 123.5h0.87M147.7 123.5h0.87M157.4 123.5h0.87M163.1 123.5h0.87M163.9 123.5h0.87M169.6 123.5h0.87M44.3 128.9h0.87M45.9 128.9h0.87M58.1 128.9h0.87M59.7 128.9h0.87M67.9 128.9h0.87M85.8 128.9h0.87M100.4 128.9h0.87M103.7 128.9h0.87M128.9 128.9h0.87M139.5 128.9h0.87M144.4 128.9h0.87M171.3 128.9h0.87M58.1 134.3h0.87M80.1 134.3h0.87M81.7 134.3h0.87M91.5 134.3h0.87M102.9 134.3h0.87M103.7 134.3h0.87M106.1 134.3h0.87M112.7 134.3h0.87M113.5 134.3h0.87M118.3 134.3h0.87M124.0 134.3h0.87M135.4 134.3h0.87M154.2 134.3h0.87M157.4 134.3h0.87M161.5 134.3h0.87M163.9 134.3h0.87M164.8 134.3h0.87M173.7 134.3h0.87M180.2 134.3h0.87M77.6 139.7h0.87M129.7 139.7h0.87M133.8 139.7h0.87M146.8 139.7h0.87M158.2 139.7h0.87M160.7 139.7h0.87M163.9 139.7h0.87M50.0 145.1h0.87M50.8 145.1h0.87M57.3 145.1h0.87M59.7 145.1h0.87M76.8 145.1h0.87M80.9 145.1h0.87M91.5 145.1h0.87M96.4 145.1h0.87M101.3 145.1h0.87M107.0 145.1h0.87M114.3 145.1h0.87M115.1 145.1h0.87M118.3 145.1h0.87M122.4 145.1h0.87M128.9 145.1h0.87M129.7 145.1h0.87M137.1 145.1h0.87M138.7 145.1h0.87M140.3 145.1h0.87M151.7 145.1h0.87M159.9 145.1h0.87M167.2 145.1h0.87M182.7 145.1h0.87M183.5 145.1h0.87M80.9 150.5h0.87M91.5 150.5h0.87M93.9 150.5h0.87M102.9 150.5h0.87M106.1 150.5h0.87M110.2 150.5h0.87M118.3 150.5h0.87M147.7 150.5h0.87M152.5 150.5h0.87M158.2 150.5h0.87M163.1 150.5h0.87M165.6 150.5h0.87M41.0 155.9h0.87M54.8 155.9h0.87M85.8 155.9h0.87M100.4 155.9h0.87M110.2 155.9h0.87M112.7 155.9h0.87M119.2 155.9h0.87M120.8 155.9h0.87M128.1 155.9h0.87M128.9 155.9h0.87M132.2 155.9h0.87M169.6 155.9h0.87M45.9 161.2h0.87M51.6 161.2h0.87M80.9 161.2h0.87M97.2 161.2h0.87M99.6 161.2h0.87M105.3 161.2h0.87M107.0 161.2h0.87M107.8 161.2h0.87M112.7 161.2h0.87M113.5 161.2h0.87M126.5 161.2h0.87M127.3 161.2h0.87M128.9 161.2h0.87M129.7 161.2h0.87M146.8 161.2h0.87M152.5 161.2h0.87M158.2 161.2h0.87M177.0 161.2h0.87M50.8 166.6h0.87M82.5 166.6h0.87M93.1 166.6h0.87M100.4 166.6h0.87M114.3 166.6h0.87M116.7 166.6h0.87M117.5 166.6h0.87M121.6 166.6h0.87M137.9 166.6h0.87M140.3 166.6h0.87M152.5 166.6h0.87M162.3 166.6h0.87M163.9 166.6h0.87M177.0 166.6h0.87M181.0 166.6h0.87M182.7 166.6h0.87M52.4 172.0h0.87M57.3 172.0h0.87M58.9 172.0h0.87M70.3 172.0h0.87M77.6 172.0h0.87M85.0 172.0h0.87M101.3 172.0h0.87M102.9 172.0h0.87M110.2 172.0h0.87M120.0 172.0h0.87M124.0 172.0h0.87M135.4 172.0h0.87M136.3 172.0h0.87M142.0 172.0h0.87M150.9 172.0h0.87M151.7 172.0h0.87M160.7 172.0h0.87M161.5 172.0h0.87M171.3 172.0h0.87M77.6 177.4h0.87M85.8 177.4h0.87M98.0 177.4h0.87M104.5 177.4h0.87M108.6 177.4h0.87M113.5 177.4h0.87M115.1 177.4h0.87M119.2 177.4h0.87M124.0 177.4h0.87M136.3 177.4h0.87M137.9 177.4h0.87M146.8 177.4h0.87M147.7 177.4h0.87M161.5 177.4h0.87M168.0 177.4h0.87M178.6 177.4h0.87M181.9 177.4h0.87M182.7 177.4h0.87M70.3 182.8h0.87M76.8 182.8h0.87M77.6 182.8h0.87M80.1 182.8h0.87M85.0 182.8h0.87M103.7 182.8h0.87M104.5 182.8h0.87M111.8 182.8h0.87M115.9 182.8h0.87M122.4 182.8h0.87M127.3 182.8h0.87M132.2 182.8h0.87M133.8 182.8h0.87M144.4 182.8h0.87M152.5 182.8h0.87M157.4 182.8h0.87M159.9 182.8h0.87M161.5 182.8h0.87M173.7 182.8h0.87M178.6 182.8h0.87M41.8 188.2h0.87M45.9 188.2h0.87M55.7 188.2h0.87M58.1 188.2h0.87M61.4 188.2h0.87M85.8 188.2h0.87M100.4 188.2h0.87M103.7 188.2h0.87M106.1 188.2h0.87M114.3 188.2h0.87M126.5 188.2h0.87M136.3 188.2h0.87M138.7 188.2h0.87M140.3 188.2h0.87M159.1 188.2h0.87M159.9 188.2h0.87M160.7 188.2h0.87M163.9 188.2h0.87M169.6 188.2h0.87M50.8 193.6h0.87M63.0 193.6h0.87M76.8 193.6h0.87M104.5 193.6h0.87M115.9 193.6h0.87M124.0 193.6h0.87M127.3 193.6h0.87M128.9 193.6h0.87M129.7 193.6h0.87M150.1 193.6h0.87M161.5 193.6h0.87M167.2 193.6h0.87M169.6 193.6h0.87M45.9 199.0h0.87M53.2 199.0h0.87M63.0 199.0h0.87M77.6 199.0h0.87M85.8 199.0h0.87M102.9 199.0h0.87M107.0 199.0h0.87M111.0 199.0h0.87M114.3 199.0h0.87M115.9 199.0h0.87M120.0 199.0h0.87M129.7 199.0h0.87M135.4 199.0h0.87M139.5 199.0h0.87M144.4 199.0h0.87M157.4 199.0h0.87M162.3 199.0h0.87M168.0 199.0h0.87M182.7 199.0h0.87"/>
<path fill="none" stroke-width="5.45" stroke="#86c3cc" d="M145.2 26.4h0.87M49.1 31.8h0.87M72.8 31.8h0.87M84.2 31.8h0.87M89.9 31.8h0.87M92.3 31.8h0.87M51.6 37.2h0.87M53.2 37.2h0.87M54.0 37.2h0.87M67.1 37.2h0.87M68.7 37.2h0.87M84.2 37.2h0.87M125.7 37.2h0.87M142.8 37.2h0.87M143.6 37.2h0.87M161.5 37.2h0.87M46.7 42.6h0.87M54.0 42.6h0.87M62.2 42.6h0.87M63.8 42.6h0.87M67.1 42.6h0.87M111.8 42.6h0.87M142.8 42.6h0.87M179.4 42.6h0.87M42.6 48.0h0.87M44.3 48.0h0.87M65.4 48.0h0.87M67.1 48.0h0.87M69.5 48.0h0.87M86.6 48.0h0.87M88.2 48.0h0.87M89.9 48.0h0.87M149.3 48.0h0.87M156.6 48.0h0.87M168.0 48.0h0.87M41.8 53.4h0.87M53.2 53.4h0.87M84.2 53.4h0.87M111.0 53.4h0.87M118.3 53.4h0.87M128.1 53.4h0.87M130.6 53.4h0.87M131.4 53.4h0.87M142.0 53.4h0.87M172.9 53.4h0.87M179.4 53.4h0.87M44.3 58.8h0.87M52.4 58.8h0.87M56.5 58.8h0.87M63.8 58.8h0.87M65.4 58.8h0.87M72.8 58.8h0.87M89.9 58.8h0.87M51.6 64.2h0.87M54.8 64.2h0.87M68.7 64.2h0.87M72.8 64.2h0.87M75.2 64.2h0.87M79.3 64.2h0.87M83.3 64.2h0.87M84.2 64.2h0.87M46.7 69.5h0.87M62.2 69.5h0.87M65.4 69.5h0.87M72.8 69.5h0.87M73.6 69.5h0.87M94.7 69.5h0.87M149.3 69.5h0.87M172.1 69.5h0.87M172.9 69.5h0.87M41.0 74.9h0.87M46.7 74.9h0.87M75.2 74.9h0.87M88.2 74.9h0.87M90.7 74.9h0.87M111.8 74.9h0.87M134.6 74.9h0.87M150.9 74.9h0.87M162.3 74.9h0.87M44.3 80.3h0.87M49.1 80.3h0.87M50.0 80.3h0.87M51.6 80.3h0.87M84.2 80.3h0.87M137.1 80.3h0.87M142.8 80.3h0.87M143.6 80.3h0.87M175.3 80.3h0.87M65.4 85.7h0.87M68.7 85.7h0.87M84.2 85.7h0.87M97.2 85.7h0.87M153.4 85.7h0.87M41.0 91.1h0.87M54.0 91.1h0.87M65.4 91.1h0.87M72.8 91.1h0.87M76.0 91.1h0.87M87.4 91.1h0.87M153.4 91.1h0.87M154.2 91.1h0.87M157.4 91.1h0.87M166.4 91.1h0.87M172.1 91.1h0.87M181.0 91.1h0.87M44.3 96.5h0.87M51.6 96.5h0.87M62.2 96.5h0.87M64.6 96.5h0.87M76.0 96.5h0.87M46.7 101.9h0.87M58.1 101.9h0.87M75.2 101.9h0.87M76.0 101.9h0.87M88.2 101.9h0.87M89.9 101.9h0.87M145.2 101.9h0.87M172.1 101.9h0.87M181.0 101.9h0.87M42.6 107.3h0.87M67.1 107.3h0.87M68.7 107.3h0.87M93.9 107.3h0.87M95.6 107.3h0.87M115.9 107.3h0.87M130.6 107.3h0.87M133.8 107.3h0.87M142.8 107.3h0.87M153.4 107.3h0.87M65.4 112.7h0.87M72.8 112.7h0.87M92.3 112.7h0.87M125.7 112.7h0.87M143.6 112.7h0.87M149.3 112.7h0.87M180.2 112.7h0.87M49.1 118.1h0.87M51.6 118.1h0.87M54.8 118.1h0.87M59.7 118.1h0.87M61.4 118.1h0.87M67.1 118.1h0.87M76.0 118.1h0.87M111.0 118.1h0.87M125.7 118.1h0.87M141.1 118.1h0.87M150.9 118.1h0.87M156.6 118.1h0.87M168.8 118.1h0.87M179.4 118.1h0.87M183.5 118.1h0.87M63.0 123.5h0.87M63.8 123.5h0.87M72.8 123.5h0.87M102.1 123.5h0.87M134.6 123.5h0.87M153.4 123.5h0.87M179.4 123.5h0.87M47.5 128.9h0.87M65.4 128.9h0.87M74.4 128.9h0.87M75.2 128.9h0.87M84.2 128.9h0.87M86.6 128.9h0.87M111.8 128.9h0.87M130.6 128.9h0.87M142.8 128.9h0.87M145.2 128.9h0.87M149.3 128.9h0.87M51.6 134.3h0.87M68.7 134.3h0.87M72.8 134.3h0.87M73.6 134.3h0.87M87.4 134.3h0.87M153.4 134.3h0.87M167.2 134.3h0.87M49.1 139.7h0.87M51.6 139.7h0.87M54.0 139.7h0.87M54.8 139.7h0.87M73.6 139.7h0.87M84.2 139.7h0.87M94.7 139.7h0.87M124.9 139.7h0.87M137.1 139.7h0.87M142.8 139.7h0.87M153.4 139.7h0.87M172.9 139.7h0.87M49.1 145.1h0.87M51.6 145.1h0.87M54.0 145.1h0.87M55.7 145.1h0.87M66.2 145.1h0.87M131.4 145.1h0.87M181.0 145.1h0.87M72.8 150.5h0.87M73.6 150.5h0.87M84.2 150.5h0.87M89.9 150.5h0.87M55.7 155.9h0.87M63.8 155.9h0.87M94.7 155.9h0.87M111.0 155.9h0.87M115.9 155.9h0.87M130.6 155.9h0.87M131.4 155.9h0.87M176.2 155.9h0.87M50.0 161.2h0.87M52.4 161.2h0.87M55.7 161.2h0.87M58.1 161.2h0.87M62.2 161.2h0.87M78.5 161.2h0.87M142.8 161.2h0.87M149.3 161.2h0.87M150.1 161.2h0.87M153.4 161.2h0.87M48.3 166.6h0.87M53.2 166.6h0.87M68.7 166.6h0.87M77.6 166.6h0.87M92.3 166.6h0.87M153.4 166.6h0.87M179.4 166.6h0.87M43.4 172.0h0.87M54.0 172.0h0.87M67.1 172.0h0.87M76.0 172.0h0.87M84.2 172.0h0.87M49.1 177.4h0.87M64.6 177.4h0.87M65.4 177.4h0.87M66.2 177.4h0.87M69.5 177.4h0.87M105.3 177.4h0.87M125.7 177.4h0.87M155.0 177.4h0.87M51.6 182.8h0.87M176.2 182.8h0.87M43.4 188.2h0.87M65.4 188.2h0.87M78.5 188.2h0.87M87.4 188.2h0.87M88.2 188.2h0.87M94.7 188.2h0.87M134.6 188.2h0.87M155.0 188.2h0.87M181.0 188.2h0.87M49.1 193.6h0.87M62.2 193.6h0.87M69.5 193.6h0.87M142.8 193.6h0.87M143.6 193.6h0.87M149.3 193.6h0.87M166.4 193.6h0.87M69.5 199.0h0.87M98.8 199.0h0.87M105.3 199.0h0.87"/>
<path fill="none" stroke-width="5.45" stroke="#e9816f" d="M48.3 31.8h0.87M80.9 31.8h0.87M82.5 31.8h0.87M93.1 31.8h0.87M96.4 31.8h0.87M101.3 31.8h0.87M106.1 31.8h0.87M108.6 31.8h0.87M113.5 31.8h0.87M123.2 31.8h0.87M124.9 31.8h0.87M126.5 31.8h0.87M131.4 31.8h0.87M135.4 31.8h0.87M159.9 31.8h0.87M171.3 31.8h0.87M58.9 37.2h0.87M96.4 37.2h0.87M102.9 37.2h0.87M117.5 37.2h0.87M147.7 37.2h0.87M167.2 37.2h0.87M178.6 37.2h0.87M181.9 37.2h0.87M182.7 37.2h0.87M58.9 42.6h0.87M85.8 42.6h0.87M86.6 42.6h0.87M108.6 42.6h0.87M110.2 42.6h0.87M123.2 42.6h0.87M128.9 42.6h0.87M159.9 42.6h0.87M163.1 42.6h0.87M177.8 42.6h0.87M182.7 42.6h0.87M71.1 48.0h0.87M76.8 48.0h0.87M78.5 48.0h0.87M108.6 48.0h0.87M113.5 48.0h0.87M133.8 48.0h0.87M154.2 48.0h0.87M165.6 48.0h0.87M169.6 48.0h0.87M173.7 48.0h0.87M45.9 53.4h0.87M47.5 53.4h0.87M50.8 53.4h0.87M57.3 53.4h0.87M103.7 53.4h0.87M104.5 53.4h0.87M107.0 53.4h0.87M113.5 53.4h0.87M115.9 53.4h0.87M123.2 53.4h0.87M135.4 53.4h0.87M150.1 53.4h0.87M151.7 53.4h0.87M170.5 53.4h0.87M173.7 53.4h0.87M57.3 58.8h0.87M78.5 58.8h0.87M79.3 58.8h0.87M93.1 58.8h0.87M98.0 58.8h0.87M103.7 58.8h0.87M119.2 58.8h0.87M133.0 58.8h0.87M135.4 58.8h0.87M136.3 58.8h0.87M146.8 58.8h0.87M150.1 58.8h0.87M159.9 58.8h0.87M165.6 58.8h0.87M167.2 58.8h0.87M61.4 64.2h0.87M74.4 64.2h0.87M80.9 64.2h0.87M93.1 64.2h0.87M98.0 64.2h0.87M115.1 64.2h0.87M117.5 64.2h0.87M121.6 64.2h0.87M122.4 64.2h0.87M125.7 64.2h0.87M147.7 64.2h0.87M170.5 64.2h0.87M173.7 64.2h0.87M182.7 64.2h0.87M63.0 69.5h0.87M77.6 69.5h0.87M86.6 69.5h0.87M91.5 69.5h0.87M96.4 69.5h0.87M123.2 69.5h0.87M126.5 69.5h0.87M129.7 69.5h0.87M133.8 69.5h0.87M135.4 69.5h0.87M136.3 69.5h0.87M147.7 69.5h0.87M173.7 69.5h0.87M177.0 69.5h0.87M182.7 69.5h0.87M59.7 74.9h0.87M96.4 74.9h0.87M108.6 74.9h0.87M120.0 74.9h0.87M163.1 74.9h0.87M171.3 74.9h0.87M173.7 74.9h0.87M180.2 74.9h0.87M45.9 80.3h0.87M71.9 80.3h0.87M106.1 80.3h0.87M108.6 80.3h0.87M110.2 80.3h0.87M112.7 80.3h0.87M141.1 80.3h0.87M146.0 80.3h0.87M146.8 80.3h0.87M181.9 80.3h0.87M93.1 85.7h0.87M107.8 85.7h0.87M113.5 85.7h0.87M115.9 85.7h0.87M129.7 85.7h0.87M146.8 85.7h0.87M177.0 85.7h0.87M177.8 85.7h0.87M137.9 91.1h0.87M158.2 91.1h0.87M178.6 91.1h0.87M89.0 96.5h0.87M98.0 96.5h0.87M107.0 96.5h0.87M112.7 96.5h0.87M117.5 96.5h0.87M119.2 96.5h0.87M125.7 96.5h0.87M126.5 96.5h0.87M132.2 96.5h0.87M142.0 96.5h0.87M146.8 96.5h0.87M163.1 96.5h0.87M170.5 96.5h0.87M171.3 96.5h0.87M173.7 96.5h0.87M181.9 96.5h0.87M58.9 101.9h0.87M71.1 101.9h0.87M80.9 101.9h0.87M98.0 101.9h0.87M107.8 101.9h0.87M117.5 101.9h0.87M127.3 101.9h0.87M129.7 101.9h0.87M147.7 101.9h0.87M168.8 101.9h0.87M170.5 101.9h0.87M173.7 101.9h0.87M177.8 101.9h0.87M45.9 107.3h0.87M96.4 107.3h0.87M97.2 107.3h0.87M98.0 107.3h0.87M100.4 107.3h0.87M110.2 107.3h0.87M113.5 107.3h0.87M117.5 107.3h0.87M133.0 107.3h0.87M144.4 107.3h0.87M152.5 107.3h0.87M158.2 107.3h0.87M160.7 107.3h0.87M163.1 107.3h0.87M165.6 107.3h0.87M180.2 107.3h0.87M104.5 112.7h0.87M112.7 112.7h0.87M113.5 112.7h0.87M121.6 112.7h0.87M129.7 112.7h0.87M137.9 112.7h0.87M154.2 112.7h0.87M155.8 112.7h0.87M163.1 112.7h0.87M165.6 112.7h0.87M177.0 112.7h0.87M182.7 112.7h0.87M102.9 118.1h0.87M133.8 118.1h0.87M137.9 118.1h0.87M142.0 118.1h0.87M144.4 118.1h0.87M155.8 118.1h0.87M158.2 118.1h0.87M161.5 118.1h0.87M177.0 118.1h0.87M177.8 118.1h0.87M86.6 123.5h0.87M98.0 123.5h0.87M101.3 123.5h0.87M103.7 123.5h0.87M113.5 123.5h0.87M121.6 123.5h0.87M133.0 123.5h0.87M144.4 123.5h0.87M151.7 123.5h0.87M154.2 123.5h0.87M167.2 123.5h0.87M55.7 128.9h0.87M57.3 128.9h0.87M121.6 128.9h0.87M127.3 128.9h0.87M142.0 128.9h0.87M146.0 128.9h0.87M163.1 128.9h0.87M182.7 128.9h0.87M74.4 134.3h0.87M98.0 134.3h0.87M121.6 134.3h0.87M133.0 134.3h0.87M142.0 134.3h0.87M146.0 134.3h0.87M147.7 134.3h0.87M152.5 134.3h0.87M163.1 134.3h0.87M182.7 134.3h0.87M59.7 139.7h0.87M61.4 139.7h0.87M79.3 139.7h0.87M85.0 139.7h0.87M100.4 139.7h0.87M110.2 139.7h0.87M114.3 139.7h0.87M115.1 139.7h0.87M116.7 139.7h0.87M119.2 139.7h0.87M123.2 139.7h0.87M125.7 139.7h0.87M136.3 139.7h0.87M137.9 139.7h0.87M144.4 139.7h0.87M150.9 139.7h0.87M152.5 139.7h0.87M164.8 139.7h0.87M168.8 139.7h0.87M177.8 139.7h0.87M98.0 145.1h0.87M113.5 145.1h0.87M115.9 145.1h0.87M121.6 145.1h0.87M125.7 145.1h0.87M146.8 145.1h0.87M150.9 145.1h0.87M168.8 145.1h0.87M180.2 145.1h0.87M181.9 145.1h0.87M114.3 150.5h0.87M45.9 155.9h0.87M63.0 155.9h0.87M80.1 155.9h0.87M83.3 155.9h0.87M102.9 155.9h0.87M108.6 155.9h0.87M113.5 155.9h0.87M129.7 155.9h0.87M148.5 155.9h0.87M159.1 155.9h0.87M160.7 155.9h0.87M162.3 155.9h0.87M163.1 155.9h0.87M164.8 155.9h0.87M168.0 155.9h0.87M173.7 155.9h0.87M58.9 161.2h0.87M70.3 161.2h0.87M71.1 161.2h0.87M80.1 161.2h0.87M85.0 161.2h0.87M93.9 161.2h0.87M98.8 161.2h0.87M100.4 161.2h0.87M110.2 161.2h0.87M121.6 161.2h0.87M122.4 161.2h0.87M136.3 161.2h0.87M137.9 161.2h0.87M138.7 161.2h0.87M147.7 161.2h0.87M150.9 161.2h0.87M155.8 161.2h0.87M159.9 161.2h0.87M163.1 161.2h0.87M164.8 161.2h0.87M170.5 161.2h0.87M177.8 161.2h0.87M182.7 161.2h0.87M102.9 166.6h0.87M103.7 166.6h0.87M138.7 166.6h0.87M147.7 166.6h0.87M151.7 166.6h0.87M155.8 166.6h0.87M157.4 166.6h0.87M165.6 166.6h0.87M171.3 166.6h0.87M178.6 166.6h0.87M80.9 172.0h0.87M82.5 172.0h0.87M93.1 172.0h0.87M108.6 172.0h0.87M115.9 172.0h0.87M121.6 172.0h0.87M128.9 172.0h0.87M133.0 172.0h0.87M140.3 172.0h0.87M141.1 172.0h0.87M155.8 172.0h0.87M156.6 172.0h0.87M162.3 172.0h0.87M163.1 172.0h0.87M164.8 172.0h0.87M170.5 172.0h0.87M183.5 172.0h0.87M79.3 177.4h0.87M93.1 177.4h0.87M94.7 177.4h0.87M95.6 177.4h0.87M97.2 177.4h0.87M110.2 177.4h0.87M120.0 177.4h0.87M127.3 177.4h0.87M129.7 177.4h0.87M133.0 177.4h0.87M137.1 177.4h0.87M144.4 177.4h0.87M152.5 177.4h0.87M163.1 177.4h0.87M163.9 177.4h0.87M167.2 177.4h0.87M177.0 177.4h0.87M48.3 182.8h0.87M57.3 182.8h0.87M58.9 182.8h0.87M86.6 182.8h0.87M96.4 182.8h0.87M99.6 182.8h0.87M102.9 182.8h0.87M117.5 182.8h0.87M119.2 182.8h0.87M126.5 182.8h0.87M138.7 182.8h0.87M143.6 182.8h0.87M158.2 182.8h0.87M160.7 182.8h0.87M163.1 182.8h0.87M167.2 182.8h0.87M170.5 182.8h0.87M177.0 182.8h0.87M182.7 182.8h0.87M53.2 188.2h0.87M67.9 188.2h0.87M96.4 188.2h0.87M107.8 188.2h0.87M122.4 188.2h0.87M128.1 188.2h0.87M147.7 188.2h0.87M165.6 188.2h0.87M173.7 188.2h0.87M71.1 193.6h0.87M102.9 193.6h0.87M103.7 193.6h0.87M110.2 193.6h0.87M121.6 193.6h0.87M132.2 193.6h0.87M137.1 193.6h0.87M139.5 193.6h0.87M147.7 193.6h0.87M155.8 193.6h0.87M163.9 193.6h0.87M173.7 193.6h0.87M67.9 199.0h0.87M98.0 199.0h0.87M117.5 199.0h0.87M132.2 199.0h0.87M158.2 199.0h0.87M160.7 199.0h0.87M178.6 199.0h0.87"/>
<path fill="none" stroke-width="5.45" stroke="#4ca2b1" d="M51.6 31.8h0.87M62.2 31.8h0.87M75.2 31.8h0.87M153.4 31.8h0.87M175.3 31.8h0.87M69.5 37.2h0.87M87.4 37.2h0.87M155.0 37.2h0.87M49.1 42.6h0.87M64.6 42.6h0.87M65.4 42.6h0.87M72.8 42.6h0.87M73.6 42.6h0.87M84.2 42.6h0.87M130.6 42.6h0.87M155.0 42.6h0.87M176.2 42.6h0.87M51.6 48.0h0.87M70.3 48.0h0.87M72.8 48.0h0.87M73.6 48.0h0.87M76.0 48.0h0.87M87.4 48.0h0.87M153.4 48.0h0.87M172.1 48.0h0.87M65.4 53.4h0.87M72.8 53.4h0.87M87.4 53.4h0.87M89.9 53.4h0.87M142.8 53.4h0.87M49.1 58.8h0.87M68.7 58.8h0.87M73.6 58.8h0.87M92.3 58.8h0.87M130.6 58.8h0.87M49.1 64.2h0.87M56.5 64.2h0.87M65.4 64.2h0.87M44.3 69.5h0.87M51.6 69.5h0.87M68.7 69.5h0.87M76.0 69.5h0.87M90.7 69.5h0.87M142.8 69.5h0.87M51.6 74.9h0.87M56.5 74.9h0.87M65.4 74.9h0.87M73.6 74.9h0.87M74.4 74.9h0.87M87.4 74.9h0.87M126.5 74.9h0.87M69.5 80.3h0.87M72.8 80.3h0.87M153.4 80.3h0.87M73.6 85.7h0.87M89.9 85.7h0.87M142.8 85.7h0.87M44.3 91.1h0.87M49.1 91.1h0.87M51.6 91.1h0.87M52.4 91.1h0.87M56.5 91.1h0.87M73.6 91.1h0.87M75.2 91.1h0.87M79.3 91.1h0.87M84.2 91.1h0.87M89.9 91.1h0.87M111.8 91.1h0.87M130.6 91.1h0.87M142.8 91.1h0.87M155.0 91.1h0.87M172.9 91.1h0.87M176.2 91.1h0.87M73.6 96.5h0.87M75.2 96.5h0.87M130.6 96.5h0.87M145.2 96.5h0.87M51.6 101.9h0.87M54.0 101.9h0.87M65.4 101.9h0.87M49.1 107.3h0.87M73.6 107.3h0.87M87.4 107.3h0.87M49.1 112.7h0.87M64.6 112.7h0.87M69.5 112.7h0.87M76.0 112.7h0.87M87.4 112.7h0.87M89.9 112.7h0.87M109.4 112.7h0.87M111.0 112.7h0.87M130.6 112.7h0.87M142.8 112.7h0.87M155.0 112.7h0.87M64.6 118.1h0.87M72.8 118.1h0.87M84.2 118.1h0.87M89.9 118.1h0.87M130.6 118.1h0.87M153.4 118.1h0.87M176.2 118.1h0.87M44.3 123.5h0.87M46.7 123.5h0.87M51.6 123.5h0.87M52.4 123.5h0.87M68.7 123.5h0.87M84.2 123.5h0.87M131.4 123.5h0.87M142.8 123.5h0.87M155.0 123.5h0.87M49.1 128.9h0.87M73.6 128.9h0.87M76.0 128.9h0.87M87.4 128.9h0.87M89.9 128.9h0.87M102.1 128.9h0.87M164.8 128.9h0.87M142.8 134.3h0.87M56.5 139.7h0.87M89.9 139.7h0.87M130.6 139.7h0.87M62.2 145.1h0.87M63.8 145.1h0.87M73.6 145.1h0.87M89.9 145.1h0.87M153.4 145.1h0.87M52.4 155.9h0.87M56.5 155.9h0.87M72.8 155.9h0.87M105.3 155.9h0.87M142.8 155.9h0.87M56.5 161.2h0.87M68.7 161.2h0.87M130.6 161.2h0.87M174.5 161.2h0.87M49.1 166.6h0.87M51.6 166.6h0.87M67.1 166.6h0.87M106.1 166.6h0.87M130.6 166.6h0.87M62.2 172.0h0.87M73.6 172.0h0.87M51.6 177.4h0.87M73.6 177.4h0.87M142.8 177.4h0.87M172.1 177.4h0.87M65.4 182.8h0.87M69.5 182.8h0.87M84.2 182.8h0.87M46.7 188.2h0.87M66.2 188.2h0.87M89.9 188.2h0.87M142.8 188.2h0.87M153.4 188.2h0.87M51.6 193.6h0.87M52.4 193.6h0.87M65.4 193.6h0.87M68.7 193.6h0.87M72.8 193.6h0.87M75.2 193.6h0.87M87.4 193.6h0.87M89.9 193.6h0.87M94.7 193.6h0.87M130.6 193.6h0.87M51.6 199.0h0.87M72.8 199.0h0.87M73.6 199.0h0.87M87.4 199.0h0.87M130.6 199.0h0.87M142.8 199.0h0.87"/>
<path fill="none" stroke-width="5.45" stroke="#69b2be" d="M55.7 31.8h0.87M69.5 31.8h0.87M85.0 31.8h0.87M105.3 31.8h0.87M142.8 31.8h0.87M41.0 37.2h0.87M49.1 37.2h0.87M76.0 37.2h0.87M81.7 37.2h0.87M94.7 37.2h0.87M104.5 37.2h0.87M130.6 37.2h0.87M153.4 37.2h0.87M42.6 42.6h0.87M50.0 42.6h0.87M66.2 42.6h0.87M68.7 42.6h0.87M87.4 42.6h0.87M92.3 42.6h0.87M143.6 42.6h0.87M149.3 42.6h0.87M41.0 48.0h0.87M68.7 48.0h0.87M111.0 48.0h0.87M130.6 48.0h0.87M155.0 48.0h0.87M45.1 53.4h0.87M66.2 53.4h0.87M69.5 53.4h0.87M73.6 53.4h0.87M149.3 53.4h0.87M153.4 53.4h0.87M162.3 53.4h0.87M87.4 58.8h0.87M88.2 58.8h0.87M145.2 58.8h0.87M153.4 58.8h0.87M64.6 64.2h0.87M80.1 64.2h0.87M111.0 69.5h0.87M153.4 69.5h0.87M176.2 69.5h0.87M41.8 74.9h0.87M55.7 74.9h0.87M76.0 74.9h0.87M89.9 74.9h0.87M62.2 80.3h0.87M68.7 80.3h0.87M181.0 80.3h0.87M62.2 85.7h0.87M63.8 85.7h0.87M88.2 85.7h0.87M46.7 91.1h0.87M63.8 91.1h0.87M69.5 91.1h0.87M88.2 91.1h0.87M56.5 96.5h0.87M66.2 96.5h0.87M68.7 96.5h0.87M56.5 101.9h0.87M64.6 101.9h0.87M73.6 101.9h0.87M82.5 101.9h0.87M87.4 101.9h0.87M92.3 101.9h0.87M111.0 101.9h0.87M130.6 101.9h0.87M153.4 101.9h0.87M175.3 101.9h0.87M51.6 107.3h0.87M76.0 107.3h0.87M44.3 112.7h0.87M46.7 112.7h0.87M51.6 112.7h0.87M53.2 112.7h0.87M68.7 112.7h0.87M73.6 112.7h0.87M84.2 112.7h0.87M88.2 112.7h0.87M141.1 112.7h0.87M181.0 112.7h0.87M44.3 118.1h0.87M48.3 118.1h0.87M54.0 118.1h0.87M63.8 118.1h0.87M65.4 118.1h0.87M73.6 118.1h0.87M75.2 118.1h0.87M87.4 118.1h0.87M88.2 118.1h0.87M93.9 118.1h0.87M98.8 118.1h0.87M142.8 118.1h0.87M155.0 118.1h0.87M164.8 118.1h0.87M172.1 118.1h0.87M181.0 118.1h0.87M41.0 123.5h0.87M54.0 123.5h0.87M69.5 123.5h0.87M75.2 123.5h0.87M89.9 123.5h0.87M92.3 123.5h0.87M143.6 123.5h0.87M172.1 123.5h0.87M172.9 123.5h0.87M133.8 128.9h0.87M143.6 128.9h0.87M153.4 128.9h0.87M65.4 134.3h0.87M92.3 134.3h0.87M75.2 139.7h0.87M102.1 139.7h0.87M176.2 139.7h0.87M181.0 139.7h0.87M65.4 145.1h0.87M84.2 145.1h0.87M87.4 145.1h0.87M128.1 145.1h0.87M130.6 145.1h0.87M156.6 145.1h0.87M49.1 150.5h0.87M62.2 150.5h0.87M87.4 150.5h0.87M155.0 150.5h0.87M44.3 155.9h0.87M51.6 155.9h0.87M66.2 155.9h0.87M69.5 155.9h0.87M73.6 155.9h0.87M95.6 155.9h0.87M149.3 155.9h0.87M175.3 155.9h0.87M44.3 161.2h0.87M49.1 161.2h0.87M76.0 161.2h0.87M89.9 161.2h0.87M43.4 166.6h0.87M56.5 166.6h0.87M65.4 166.6h0.87M66.2 166.6h0.87M73.6 166.6h0.87M76.0 166.6h0.87M84.2 166.6h0.87M88.2 166.6h0.87M94.7 166.6h0.87M105.3 166.6h0.87M142.8 166.6h0.87M172.1 166.6h0.87M128.1 172.0h0.87M139.5 172.0h0.87M68.7 177.4h0.87M130.6 177.4h0.87M149.3 177.4h0.87M153.4 177.4h0.87M156.6 177.4h0.87M46.7 182.8h0.87M76.0 182.8h0.87M92.3 182.8h0.87M172.1 182.8h0.87M56.5 188.2h0.87M73.6 188.2h0.87M76.0 188.2h0.87M50.0 193.6h0.87M54.0 193.6h0.87M56.5 193.6h0.87M92.3 193.6h0.87M105.3 193.6h0.87M145.2 193.6h0.87M153.4 193.6h0.87M41.0 199.0h0.87M54.0 199.0h0.87M64.6 199.0h0.87M70.3 199.0h0.87M116.7 199.0h0.87M131.4 199.0h0.87M153.4 199.0h0.87"/>
<path fill="none" stroke-width="5.45" stroke="#df6353" d="M70.3 31.8h0.87M78.5 31.8h0.87M120.0 31.8h0.87M129.7 31.8h0.87M148.5 31.8h0.87M155.8 31.8h0.87M178.6 31.8h0.87M182.7 31.8h0.87M50.8 37.2h0.87M85.8 37.2h0.87M98.0 37.2h0.87M103.7 37.2h0.87M110.2 37.2h0.87M129.7 37.2h0.87M148.5 37.2h0.87M163.9 37.2h0.87M101.3 42.6h0.87M116.7 42.6h0.87M165.6 42.6h0.87M98.0 48.0h0.87M126.5 48.0h0.87M127.3 48.0h0.87M158.2 48.0h0.87M177.0 48.0h0.87M178.6 48.0h0.87M96.4 53.4h0.87M98.8 53.4h0.87M143.6 53.4h0.87M165.6 53.4h0.87M59.7 58.8h0.87M85.8 58.8h0.87M94.7 58.8h0.87M97.2 58.8h0.87M101.3 58.8h0.87M122.4 58.8h0.87M127.3 58.8h0.87M128.9 58.8h0.87M159.1 58.8h0.87M171.3 58.8h0.87M177.8 58.8h0.87M178.6 58.8h0.87M182.7 58.8h0.87M99.6 64.2h0.87M102.9 64.2h0.87M108.6 64.2h0.87M115.9 64.2h0.87M124.9 64.2h0.87M126.5 64.2h0.87M127.3 64.2h0.87M134.6 64.2h0.87M152.5 64.2h0.87M177.0 64.2h0.87M181.9 64.2h0.87M45.9 69.5h0.87M48.3 69.5h0.87M67.9 69.5h0.87M80.9 69.5h0.87M107.0 69.5h0.87M121.6 69.5h0.87M124.0 69.5h0.87M128.9 69.5h0.87M142.0 69.5h0.87M146.8 69.5h0.87M152.5 69.5h0.87M156.6 69.5h0.87M160.7 69.5h0.87M163.1 69.5h0.87M169.6 69.5h0.87M171.3 69.5h0.87M178.6 69.5h0.87M81.7 74.9h0.87M97.2 74.9h0.87M117.5 74.9h0.87M129.7 74.9h0.87M148.5 74.9h0.87M168.0 74.9h0.87M182.7 74.9h0.87M80.9 80.3h0.87M113.5 80.3h0.87M148.5 80.3h0.87M155.8 80.3h0.87M163.1 80.3h0.87M177.0 80.3h0.87M177.8 80.3h0.87M182.7 80.3h0.87M67.9 85.7h0.87M89.0 85.7h0.87M98.0 85.7h0.87M137.9 85.7h0.87M147.7 85.7h0.87M158.2 85.7h0.87M163.1 85.7h0.87M168.8 85.7h0.87M169.6 85.7h0.87M93.1 91.1h0.87M100.4 91.1h0.87M165.6 91.1h0.87M103.7 96.5h0.87M106.1 96.5h0.87M115.1 96.5h0.87M129.7 96.5h0.87M135.4 96.5h0.87M151.7 96.5h0.87M152.5 96.5h0.87M78.5 101.9h0.87M85.0 101.9h0.87M146.8 101.9h0.87M158.2 101.9h0.87M182.7 101.9h0.87M71.1 107.3h0.87M91.5 107.3h0.87M138.7 107.3h0.87M147.7 107.3h0.87M169.6 107.3h0.87M181.9 107.3h0.87M45.9 112.7h0.87M98.0 112.7h0.87M147.7 112.7h0.87M173.7 112.7h0.87M122.4 118.1h0.87M148.5 118.1h0.87M115.1 123.5h0.87M123.2 123.5h0.87M141.1 123.5h0.87M71.1 128.9h0.87M115.1 128.9h0.87M133.0 128.9h0.87M146.8 128.9h0.87M161.5 128.9h0.87M45.9 134.3h0.87M76.8 134.3h0.87M115.1 134.3h0.87M129.7 134.3h0.87M144.4 134.3h0.87M151.7 134.3h0.87M174.5 134.3h0.87M177.8 134.3h0.87M181.9 134.3h0.87M45.9 139.7h0.87M97.2 139.7h0.87M103.7 139.7h0.87M108.6 139.7h0.87M132.2 139.7h0.87M151.7 139.7h0.87M178.6 139.7h0.87M182.7 139.7h0.87M67.9 145.1h0.87M98.8 145.1h0.87M100.4 145.1h0.87M110.2 145.1h0.87M119.2 145.1h0.87M126.5 145.1h0.87M136.3 145.1h0.87M137.9 145.1h0.87M144.4 145.1h0.87M154.2 145.1h0.87M155.8 145.1h0.87M178.6 145.1h0.87M58.9 155.9h0.87M71.1 155.9h0.87M85.0 155.9h0.87M93.9 155.9h0.87M97.2 155.9h0.87M114.3 155.9h0.87M123.2 155.9h0.87M158.2 155.9h0.87M167.2 155.9h0.87M178.6 155.9h0.87M182.7 155.9h0.87M50.8 161.2h0.87M114.3 161.2h0.87M154.2 161.2h0.87M163.9 161.2h0.87M168.0 161.2h0.87M173.7 161.2h0.87M113.5 166.6h0.87M144.4 166.6h0.87M160.7 166.6h0.87M45.9 172.0h0.87M104.5 172.0h0.87M113.5 172.0h0.87M114.3 172.0h0.87M123.2 172.0h0.87M132.2 172.0h0.87M144.4 172.0h0.87M146.8 172.0h0.87M148.5 172.0h0.87M165.6 172.0h0.87M168.0 172.0h0.87M169.6 172.0h0.87M177.0 172.0h0.87M181.9 172.0h0.87M182.7 172.0h0.87M45.9 177.4h0.87M128.9 177.4h0.87M138.7 177.4h0.87M146.0 177.4h0.87M158.2 177.4h0.87M160.7 177.4h0.87M164.8 177.4h0.87M165.6 177.4h0.87M169.6 177.4h0.87M80.9 182.8h0.87M108.6 182.8h0.87M112.7 182.8h0.87M114.3 182.8h0.87M133.0 182.8h0.87M141.1 182.8h0.87M146.8 182.8h0.87M155.8 182.8h0.87M163.9 182.8h0.87M83.3 188.2h0.87M115.1 188.2h0.87M121.6 188.2h0.87M137.9 188.2h0.87M177.8 188.2h0.87M182.7 188.2h0.87M67.9 193.6h0.87M114.3 193.6h0.87M122.4 193.6h0.87M160.7 193.6h0.87M80.9 199.0h0.87M100.4 199.0h0.87M110.2 199.0h0.87M122.4 199.0h0.87M159.9 199.0h0.87M169.6 199.0h0.87"/>
</g></g>
<g font-size="4.55" fill="#1e1e1e" stroke="#1e1e1e" stroke-width="0.1">
<text x="186.8" y="28.50">ACTL8</text>
<text x="186.8" y="33.89">PIGR</text>
<text x="186.8" y="39.28">LTF</text>
<text x="186.8" y="44.68">CAPN6</text>
<text x="186.8" y="50.07">CLU</text>
<text x="186.8" y="55.47">SCARA3</text>
<text x="186.8" y="60.86">VTCN1</text>
<text x="186.8" y="66.25">PROM1</text>
<text x="186.8" y="71.65">ELF5</text>
<text x="186.8" y="77.04">AQP5</text>
<text x="186.8" y="82.44">TTYH1</text>
<text x="186.8" y="87.83">ITGB4</text>
<text x="186.8" y="93.22">EHF</text>
<text x="186.8" y="98.62">SLC5A1</text>
<text x="186.8" y="104.01">SLC6A14</text>
<text x="186.8" y="109.41">B3GNT3</text>
<text x="186.8" y="114.80">FAM3D</text>
<text x="186.8" y="120.19">ZG16B</text>
<text x="186.8" y="125.59">ACKR2</text>
<text x="186.8" y="130.98">CEACAM6</text>
<text x="186.8" y="136.38">CXCL17</text>
<text x="186.8" y="141.77">GSTA1</text>
<text x="186.8" y="147.16">GLYATL2</text>
<text x="186.8" y="152.56">BPIFB1</text>
<text x="186.8" y="157.95">PLEKHS1</text>
<text x="186.8" y="163.35">CP</text>
<text x="186.8" y="168.74">SLC34A2</text>
<text x="186.8" y="174.13">MMP11</text>
<text x="186.8" y="179.53">COL11A1</text>
<text x="186.8" y="184.92">COL10A1</text>
<text x="186.8" y="190.32">C6orf15</text>
<text x="186.8" y="195.71">LIPH</text>
<text x="186.8" y="201.10">CCL28</text>
<text x="186.8" y="21.6">group</text>
</g>
<g font-size="3.9" fill="#222">
<text x="214.8" y="79.6" font-size="4.3">group</text>
<rect x="215.8" y="84.7" width="7" height="5.6" fill="#4fa5b3"/>
<rect x="215.8" y="91.3" width="7" height="5.9" fill="#d2503f"/>
<text x="224.8" y="89.0">low</text>
<text x="224.8" y="95.9">high</text>
<defs><linearGradient id="hmg" x1="0" y1="0" x2="0" y2="1"><stop offset="0" stop-color="#d6483c"/><stop offset="0.5" stop-color="#faf8f6"/><stop offset="1" stop-color="#46a0af"/></linearGradient></defs>
<rect x="215.8" y="106" width="7" height="44.2" fill="url(#hmg)"/>
<text x="225.0" y="109.0">2</text>
<text x="225.0" y="118.9">1</text>
<text x="225.0" y="129.5">0</text>
<text x="224.2" y="139.5">-1</text>
<text x="224.2" y="149.8">-2</text>
</g>
<path d="M40.60 31.79L35.41 31.79M40.60 37.18L35.41 37.18M35.41 31.79L35.41 37.18M35.41 34.49L33.88 34.49M40.60 42.58L33.88 42.58M33.88 34.49L33.88 42.58M40.60 53.37L35.10 53.37M40.60 58.76L35.10 58.76M35.10 53.37L35.10 58.76M40.60 47.97L33.63 47.97M35.10 56.06L33.63 56.06M33.63 47.97L33.63 56.06M33.63 52.02L32.01 52.02M40.60 64.15L32.01 64.15M32.01 52.02L32.01 64.15M40.60 69.55L35.44 69.55M40.60 74.94L35.44 74.94M35.44 69.55L35.44 74.94M40.60 85.73L35.16 85.73M40.60 91.12L35.16 91.12M35.16 85.73L35.16 91.12M40.60 80.34L33.37 80.34M35.16 88.43L33.37 88.43M33.37 80.34L33.37 88.43M33.37 84.38L32.16 84.38M40.60 96.52L32.16 96.52M32.16 84.38L32.16 96.52M40.60 101.91L35.43 101.91M40.60 107.31L35.43 107.31M35.43 101.91L35.43 107.31M35.43 104.61L34.01 104.61M40.60 112.70L34.01 112.70M34.01 104.61L34.01 112.70M40.60 118.09L35.33 118.09M40.60 123.49L35.33 123.49M35.33 118.09L35.33 123.49M35.33 120.79L34.32 120.79M40.60 128.88L34.32 128.88M34.32 120.79L34.32 128.88M40.60 134.28L34.83 134.28M40.60 139.67L34.83 139.67M34.83 134.28L34.83 139.67M40.60 150.46L35.47 150.46M40.60 155.85L35.47 155.85M35.47 150.46L35.47 155.85M35.47 153.15L34.33 153.15M40.60 161.25L34.33 161.25M34.33 153.15L34.33 161.25M40.60 145.06L32.59 145.06M34.33 157.20L32.59 157.20M32.59 145.06L32.59 157.20M40.60 172.03L35.01 172.03M40.60 177.43L35.01 177.43M35.01 172.03L35.01 177.43M35.01 174.73L33.88 174.73M40.60 182.82L33.88 182.82M33.88 174.73L33.88 182.82M40.60 166.64L32.78 166.64M33.88 178.78L32.78 178.78M32.78 166.64L32.78 178.78M40.60 188.22L35.41 188.22M40.60 193.61L35.41 193.61M35.41 188.22L35.41 193.61M35.41 190.91L33.79 190.91M40.60 199.00L33.79 199.00M33.79 190.91L33.79 199.00M34.01 108.65L29.00 108.65M34.32 124.84L29.00 124.84M29.00 108.65L29.00 124.84M34.83 136.97L28.76 136.97M32.59 151.13L28.76 151.13M28.76 136.97L28.76 151.13M33.88 38.53L28.52 38.53M32.01 58.09L28.52 58.09M28.52 38.53L28.52 58.09M32.78 172.71L28.28 172.71M33.79 194.96L28.28 194.96M28.28 172.71L28.28 194.96M32.16 90.45L28.04 90.45M29.00 116.75L28.04 116.75M28.04 90.45L28.04 116.75M28.04 103.60L27.80 103.60M28.76 144.05L27.80 144.05M27.80 103.60L27.80 144.05M28.52 48.31L27.56 48.31M35.44 72.25L27.56 72.25M27.56 48.31L27.56 72.25M27.80 123.82L27.32 123.82M28.28 183.83L27.32 183.83M27.32 123.82L27.32 183.83M27.56 60.28L27.08 60.28M27.32 153.83L27.08 153.83M27.08 60.28L27.08 153.83M40.60 26.40L26.00 26.40M27.08 107.05L26.00 107.05M26.00 26.40L26.00 107.05" stroke="#2b2b2b" stroke-width="0.75" fill="none"/>
</g>
<g id="pb">
<g stroke="#8a8a8a" stroke-width="0.6" stroke-dasharray="3.2 1.6" fill="none">
<path d="M293.5 149.0H440.8"/>
<path d="M352.4 168.5V48.5"/>
<path d="M411.3 168.5V48.5"/>
</g>
<path fill="#7a706e" d="M381.9 168.2L373.7 163.2L367.2 157.2L363.1 150.5L360.7 141.5L360.7 132.5L362.8 125.0L367.2 120.5L372.5 122.0L376.0 127.2L378.7 132.5L381.3 136.2L384.3 132.5L386.9 128.8L390.7 128.0L394.3 131.0L395.7 140.0L395.7 150.5L393.1 157.2L388.7 163.2z"/>
<path fill="none" stroke="#7a706e" stroke-width="1.56" stroke-linecap="round" d="M373.8 151.5h0M390.3 153.7h0M380.7 165.3h0M373.7 162.0h0M389.6 160.7h0M382.4 166.0h0M378.8 165.4h0M378.2 163.8h0M385.9 164.9h0M386.8 157.4h0M374.1 158.3h0M380.4 166.1h0M378.6 157.1h0M385.2 162.3h0M384.3 168.2h0M383.8 165.8h0M379.9 164.4h0M394.3 151.8h0M372.2 113.8h0M378.9 148.6h0M377.4 163.6h0M375.1 152.6h0M371.0 145.6h0M377.5 128.9h0M363.3 135.4h0M373.5 164.3h0M371.1 162.3h0M382.0 167.4h0M387.2 161.0h0M380.5 167.1h0M362.2 138.0h0M383.7 158.2h0M382.4 167.5h0M377.2 164.3h0M379.4 165.7h0M377.8 146.5h0M378.8 164.4h0M389.2 150.8h0M379.0 167.0h0M383.2 159.3h0M382.8 165.1h0M383.3 168.2h0M385.0 164.2h0M378.0 137.5h0M375.4 154.4h0M385.4 165.7h0M377.2 166.1h0M370.4 155.5h0M382.3 164.0h0M386.7 163.6h0M390.1 144.1h0M382.3 164.2h0M380.9 168.2h0M373.0 161.7h0M380.5 159.7h0M365.3 122.3h0M383.9 168.1h0M395.3 133.5h0M372.2 140.3h0M382.4 168.2h0M386.2 158.5h0M382.0 160.3h0M383.7 164.9h0M377.8 164.8h0M392.5 151.2h0M388.8 152.7h0M379.2 161.6h0M367.6 154.4h0M391.3 159.2h0M388.8 144.9h0M382.5 159.0h0M384.6 164.2h0M385.3 167.8h0M382.3 167.3h0M382.8 162.2h0M383.3 164.2h0M369.8 161.5h0M388.8 131.3h0M366.5 155.3h0M387.0 163.7h0M371.3 160.4h0M372.6 154.2h0M395.6 101.3h0M384.5 162.1h0M385.4 159.5h0M382.0 140.0h0M372.0 157.0h0M387.9 163.6h0M390.1 159.4h0M366.3 141.2h0M381.8 168.2h0M376.7 161.6h0M370.9 140.7h0M379.9 167.7h0M377.4 145.1h0M392.5 143.4h0M374.9 163.2h0M383.6 166.0h0M385.4 166.8h0M378.5 167.0h0M391.4 155.6h0M376.8 154.4h0M375.1 151.2h0M379.2 154.3h0M387.0 164.8h0M360.3 131.5h0M383.3 167.1h0M382.2 157.3h0M391.7 162.4h0M384.4 163.0h0M369.9 159.9h0M381.3 162.2h0M383.1 158.4h0M363.5 128.8h0M376.9 166.7h0M383.7 167.4h0M384.3 150.7h0M385.8 165.9h0M385.1 165.1h0M364.7 156.5h0M384.8 148.4h0M370.9 157.3h0M377.6 162.6h0M385.0 166.2h0M374.9 158.7h0M379.2 167.0h0M383.5 161.2h0M380.8 165.4h0M380.7 159.0h0M376.4 164.3h0M380.6 158.5h0M381.3 158.1h0M388.4 145.9h0M385.7 163.0h0M394.8 146.6h0M386.0 163.9h0M391.0 156.8h0M388.3 151.9h0M386.3 152.4h0M378.7 167.1h0M391.1 160.2h0M385.3 145.8h0M392.3 156.3h0M364.6 155.0h0M381.3 149.2h0M363.0 148.2h0M382.0 163.5h0M384.6 166.4h0M372.2 162.0h0M384.7 149.3h0M387.2 159.6h0M373.6 156.1h0M385.6 161.5h0M370.4 161.6h0M384.7 154.5h0M375.3 162.6h0M369.1 140.8h0M368.1 138.2h0M384.0 160.0h0M375.6 158.4h0M382.8 152.6h0M380.3 163.3h0M387.6 148.6h0M385.1 159.7h0M380.8 166.4h0M392.5 136.7h0M394.6 149.3h0M370.0 160.5h0M374.2 158.7h0M376.8 160.9h0M380.8 164.2h0M377.5 160.1h0M368.2 158.9h0M386.2 160.5h0M390.0 152.1h0M377.2 162.4h0M381.5 162.8h0M382.3 160.7h0M380.8 163.0h0M380.7 167.9h0M383.6 159.7h0M386.9 164.9h0M369.2 149.2h0M370.4 158.3h0M372.8 151.8h0M388.0 146.3h0M371.9 134.3h0M359.1 136.5h0M396.1 141.8h0M373.9 156.7h0M379.2 152.0h0M375.7 165.8h0M387.7 164.4h0M375.8 165.6h0M386.0 148.5h0M384.0 155.1h0M366.2 156.9h0M379.6 157.6h0M387.2 162.9h0M384.3 165.8h0M382.6 162.1h0M380.2 161.2h0M388.0 162.9h0M382.4 160.2h0M389.6 158.1h0M384.8 168.2h0M376.3 163.0h0M389.0 158.3h0M375.2 159.4h0M365.5 130.7h0M386.6 157.7h0M392.8 150.3h0M381.4 164.6h0M366.2 135.1h0M377.2 160.1h0M378.7 166.4h0M370.3 162.2h0M379.6 149.9h0M390.6 116.2h0M378.4 162.5h0M375.5 137.6h0M387.9 156.6h0M375.3 157.8h0M380.4 168.2h0M386.3 165.6h0M382.6 156.5h0M380.5 160.6h0M375.2 164.1h0M375.2 157.1h0M373.7 160.5h0M361.7 152.3h0M388.7 157.2h0M374.8 154.4h0M386.2 165.9h0M389.9 158.9h0M372.5 149.0h0M378.3 159.9h0M384.2 160.5h0M368.6 157.1h0M383.7 159.3h0M383.3 163.6h0M364.9 137.4h0M387.7 165.6h0M391.5 153.3h0M367.1 153.6h0M382.1 157.6h0M374.2 146.7h0M387.0 145.9h0M378.9 163.2h0M375.9 150.6h0M364.9 106.6h0M370.3 155.7h0M367.0 156.8h0M378.0 166.7h0M369.8 132.5h0M374.2 151.6h0M368.2 123.2h0M366.1 152.8h0M377.1 161.3h0M373.2 144.5h0M387.1 156.5h0M390.0 157.7h0M370.9 157.0h0M387.1 152.7h0M378.9 139.4h0M381.8 165.6h0M385.7 166.7h0M378.1 166.1h0M391.5 152.3h0M376.5 134.1h0M375.5 162.3h0M379.3 134.9h0M394.8 154.1h0M373.1 159.2h0M387.2 134.9h0M367.4 158.6h0M371.3 134.2h0M372.1 153.2h0M387.3 162.6h0M377.4 158.0h0M387.7 154.9h0M369.6 155.6h0M389.0 161.9h0M367.2 154.7h0M370.3 143.4h0M385.0 156.2h0M388.4 133.3h0M371.9 149.6h0M378.9 150.2h0M387.4 152.5h0M361.5 140.9h0M381.3 145.7h0M386.6 159.5h0M391.8 123.1h0M384.0 158.7h0M391.0 150.2h0M389.0 159.1h0M383.7 156.3h0M373.7 155.0h0M373.3 150.8h0M392.1 154.7h0M389.3 159.8h0M381.3 159.6h0M361.2 132.0h0M376.5 166.2h0M371.3 157.9h0M375.1 162.2h0M376.4 154.7h0M379.7 158.6h0M385.6 162.5h0M371.2 129.3h0M378.1 157.1h0M385.6 156.0h0M376.2 161.4h0M389.9 162.3h0M384.8 161.3h0M390.0 150.4h0M377.0 158.5h0M379.2 159.6h0M380.8 151.4h0M380.6 157.2h0M375.9 131.4h0M391.7 143.7h0M377.3 156.1h0M391.6 157.7h0M375.3 139.1h0M390.9 161.0h0M379.2 155.3h0M386.4 139.0h0M387.9 160.4h0M365.0 148.4h0M377.0 165.1h0M392.3 123.8h0M381.0 162.0h0M375.4 165.0h0M374.4 147.4h0M394.0 151.0h0M372.8 164.0h0M366.9 150.1h0M388.2 156.7h0M386.8 161.6h0M375.7 154.9h0M384.9 159.2h0M385.0 154.7h0M379.1 147.7h0M390.2 162.9h0M373.9 151.9h0M378.1 157.6h0M384.8 149.8h0M375.2 160.8h0M384.3 156.4h0M382.1 156.7h0M384.3 157.5h0M370.0 136.0h0M374.7 164.5h0M382.4 144.2h0M380.5 155.9h0M382.0 158.8h0M384.2 147.5h0M375.0 160.7h0M392.3 160.0h0M386.8 156.9h0M376.2 158.2h0M369.9 150.6h0M377.6 152.1h0M370.7 162.8h0M380.8 162.1h0M373.1 151.0h0M379.0 140.1h0M386.0 140.4h0M363.4 138.7h0M394.5 151.6h0M377.5 161.9h0M388.3 163.7h0M358.6 123.1h0M370.0 157.8h0M378.6 156.0h0M383.4 163.1h0M376.3 152.4h0M372.4 156.1h0M373.0 152.9h0M379.8 163.6h0M365.6 153.1h0M392.9 129.7h0M366.8 141.0h0M366.7 132.8h0M386.4 144.8h0M378.3 157.8h0M385.9 152.7h0M391.8 126.9h0M388.0 160.7h0M392.3 161.5h0M369.6 147.0h0M371.4 162.8h0M389.7 163.8h0M372.3 155.7h0M388.9 163.5h0M372.7 163.4h0M393.3 156.1h0M363.0 149.1h0M387.9 160.9h0M391.0 157.8h0M367.8 159.1h0M391.9 160.6h0M384.4 153.1h0M387.1 165.7h0M376.1 148.0h0M381.3 162.1h0M388.1 159.5h0M376.9 158.8h0M376.1 156.3h0M371.4 161.3h0M379.1 162.4h0M376.7 159.6h0M365.5 147.7h0M370.9 143.1h0M369.3 158.6h0M369.1 156.5h0M378.8 160.1h0M366.9 154.1h0M370.3 150.4h0M381.3 147.2h0M359.6 134.6h0M383.8 151.5h0M391.9 158.1h0M381.6 161.7h0M392.3 148.4h0M373.1 153.6h0M378.2 160.3h0M391.8 159.2h0M379.4 149.1h0M370.6 142.1h0M385.8 168.2h0M365.9 149.0h0M373.1 156.9h0M381.9 155.5h0M394.7 126.6h0M397.0 117.4h0M389.3 150.9h0M366.7 145.5h0M390.7 151.7h0M364.9 129.7h0M366.5 155.6h0M380.2 162.9h0M379.5 154.3h0M364.5 155.2h0M374.2 132.4h0M365.1 149.6h0M376.5 160.0h0M376.4 159.6h0M374.3 159.8h0M391.1 156.4h0M367.1 149.2h0M388.4 157.8h0M369.8 145.0h0M368.7 146.0h0M394.5 147.5h0M390.9 162.4h0M367.9 153.9h0M360.3 143.5h0M390.5 163.3h0M385.4 158.1h0M392.4 150.5h0M375.5 146.4h0M381.5 160.5h0M372.6 160.3h0M362.2 149.7h0M372.3 132.7h0M372.6 157.3h0M394.4 154.2h0M375.2 148.9h0M373.1 155.1h0M391.2 155.0h0M394.5 146.2h0M369.4 146.0h0M373.0 164.1h0M362.1 125.8h0M391.8 152.2h0M374.9 157.6h0M386.2 148.5h0M371.6 137.7h0M376.5 157.4h0M372.0 154.4h0M387.5 161.3h0M384.7 152.0h0M387.8 162.4h0M378.9 143.7h0M367.7 133.9h0M377.0 139.0h0M368.6 149.1h0M378.5 160.7h0M360.3 145.5h0M363.9 141.3h0M379.5 160.3h0M388.8 155.7h0M376.3 150.3h0M385.3 156.7h0M365.1 144.7h0M384.0 157.1h0M381.8 151.7h0M386.2 157.4h0M386.9 155.7h0M382.3 145.6h0M371.8 156.4h0M394.1 153.6h0M394.0 141.3h0M388.9 162.1h0M362.8 144.4h0M375.7 166.7h0M371.6 151.4h0M369.6 151.9h0M376.5 153.5h0M369.9 157.3h0M388.0 151.0h0M377.5 152.1h0M388.7 156.6h0M368.1 146.1h0M381.2 152.5h0M361.5 148.2h0M392.5 145.5h0M379.4 158.5h0M386.4 138.4h0M383.7 155.3h0M366.4 120.6h0M393.1 147.4h0M375.0 155.9h0M370.9 127.8h0M378.4 155.4h0M394.1 152.9h0M393.4 129.3h0M391.3 121.7h0M371.0 149.6h0M376.5 157.4h0M390.3 156.9h0M381.9 148.7h0M379.5 143.8h0M373.7 162.2h0M367.2 143.3h0M381.9 152.2h0M377.8 149.5h0M365.4 143.4h0M383.2 154.6h0M392.2 153.0h0M362.2 135.7h0M373.8 163.5h0M369.1 161.4h0M393.2 149.1h0M396.3 153.1h0M364.8 156.7h0M392.6 158.3h0M388.0 153.0h0M377.4 127.1h0M370.1 143.9h0M388.5 159.0h0M371.4 137.2h0M378.7 143.3h0M393.1 128.6h0M385.2 155.5h0M380.5 155.2h0M368.1 156.1h0M397.3 143.4h0M389.9 160.7h0M371.0 148.6h0M362.2 149.5h0M377.5 146.1h0M385.1 148.3h0M370.6 155.5h0M371.6 161.0h0M374.9 132.7h0M391.0 153.1h0M372.6 162.2h0M368.1 104.5h0M372.2 150.8h0M382.2 153.9h0M392.7 161.7h0M384.7 150.1h0M372.4 158.2h0M371.9 139.0h0M370.8 154.0h0M367.5 157.7h0M377.8 161.3h0M369.4 159.5h0M366.1 158.2h0M368.4 161.4h0M380.0 137.9h0M388.0 158.4h0M377.7 151.7h0M390.7 155.3h0M391.6 162.7h0M386.1 146.1h0M362.3 142.0h0M381.8 148.6h0M388.4 150.7h0M378.9 156.2h0M372.7 134.3h0M379.8 140.4h0M368.9 142.7h0M383.9 153.1h0M386.4 150.6h0M363.4 150.8h0M383.0 150.9h0M377.1 145.2h0M393.4 156.5h0M394.0 157.0h0M386.7 151.1h0M394.9 153.8h0M389.4 156.0h0M369.7 146.4h0M380.6 145.1h0M369.8 151.0h0M380.5 137.7h0M380.4 157.0h0M365.3 132.4h0M365.8 153.7h0M377.3 150.7h0M395.7 150.8h0M363.5 148.6h0M361.6 147.3h0M376.7 148.7h0M383.1 156.2h0M375.3 151.1h0M363.0 122.5h0M370.2 155.4h0M392.9 156.0h0M369.4 153.4h0M386.6 158.8h0M369.8 148.0h0M378.3 150.7h0M392.8 142.0h0M392.0 156.5h0M373.3 141.0h0M395.2 141.7h0M365.3 151.5h0M366.6 155.0h0M374.8 152.4h0M392.0 130.1h0M388.6 149.1h0M380.0 153.2h0M368.1 146.5h0M379.0 167.4h0M372.4 144.4h0M385.8 167.0h0M387.6 148.3h0M372.7 150.1h0M364.7 151.3h0M356.5 124.1h0M379.0 142.4h0M382.2 155.7h0M383.4 157.6h0M372.7 157.4h0M367.3 158.4h0M379.7 168.1h0M390.9 161.4h0M391.6 138.5h0M366.7 151.8h0M364.5 122.1h0M387.4 165.7h0M373.3 137.6h0M360.8 140.8h0M377.4 141.5h0M387.7 153.3h0M371.6 155.1h0M390.0 146.4h0M372.1 130.8h0M375.4 145.6h0M365.1 94.6h0M378.6 153.5h0M367.7 153.2h0M377.3 158.6h0M361.7 146.3h0M379.1 156.8h0M367.3 129.4h0M374.5 133.3h0M375.6 135.0h0M359.8 131.0h0M393.4 158.1h0M374.1 122.4h0M365.0 149.8h0M365.2 147.4h0M373.3 145.9h0M386.6 137.9h0M388.9 163.7h0M372.4 147.4h0M385.8 152.8h0M368.9 127.7h0M370.8 153.8h0M372.5 164.2h0M379.6 151.3h0M364.9 150.8h0M369.3 159.8h0M389.3 148.4h0M387.1 155.5h0M388.9 148.3h0M374.4 148.0h0M391.5 149.8h0M389.0 164.0h0M371.4 135.8h0M392.1 142.6h0M386.5 154.1h0M374.3 162.0h0M389.4 149.9h0M369.1 160.7h0M370.4 144.5h0M362.1 152.0h0M383.2 148.1h0M388.8 164.7h0M371.4 160.1h0M392.9 159.9h0M368.3 154.2h0M384.7 138.1h0M374.4 164.9h0M368.5 156.1h0M366.7 152.7h0M376.8 126.5h0M367.3 155.6h0M390.2 128.6h0M382.5 142.1h0M366.0 154.3h0M399.1 121.3h0M390.8 149.2h0M375.7 142.0h0M372.8 141.2h0M393.9 111.1h0M376.1 149.3h0M371.8 143.0h0M369.3 114.2h0M370.6 159.7h0M386.9 146.2h0M387.5 143.9h0M369.5 151.6h0M382.5 150.0h0M379.9 149.5h0M389.9 144.8h0M378.0 167.3h0M391.1 144.3h0M374.7 148.6h0M372.7 159.5h0M367.7 150.7h0M378.8 152.6h0M372.0 159.3h0M358.7 126.1h0M359.4 128.7h0M389.0 165.1h0M394.7 137.6h0M375.6 153.9h0M385.1 143.0h0M366.8 150.3h0M384.3 149.7h0M372.3 149.0h0M393.4 158.6h0M375.0 150.4h0M370.0 145.8h0M391.7 131.5h0M369.5 151.0h0M393.3 153.9h0M369.9 159.0h0M371.0 150.1h0M386.6 155.3h0M392.5 144.1h0M369.5 147.9h0M376.1 145.5h0M367.5 139.7h0M389.8 154.3h0M378.7 140.4h0M380.5 153.5h0M369.9 136.3h0M374.4 150.5h0M380.3 147.4h0M393.0 146.9h0M384.6 143.8h0M366.9 147.4h0M359.8 146.9h0M373.9 147.8h0M375.8 140.0h0M363.8 136.7h0M397.0 141.4h0M393.0 157.7h0M372.7 143.7h0M367.6 154.9h0M387.7 158.1h0M373.9 150.0h0M374.5 149.2h0M368.0 158.3h0M371.4 152.7h0M371.1 147.3h0M367.0 144.9h0M392.3 151.7h0M365.5 141.2h0M387.9 145.5h0M364.4 149.9h0M358.8 142.5h0M371.6 158.4h0M380.3 137.0h0M378.8 158.5h0M389.8 146.1h0M391.8 140.5h0M369.0 157.0h0M374.7 146.7h0M392.0 150.4h0M393.3 160.2h0M371.3 151.7h0M387.4 148.8h0M368.9 121.3h0M394.0 151.4h0M378.5 132.7h0M365.8 158.0h0M388.3 140.6h0M368.7 139.0h0M370.2 152.9h0M374.3 154.3h0M389.2 155.5h0M366.5 140.6h0M359.8 104.5h0M360.4 154.8h0M393.4 149.5h0M375.1 133.2h0M396.4 157.1h0M360.8 149.1h0M377.0 154.0h0M376.7 145.1h0M375.2 141.6h0M391.6 118.3h0M380.0 141.1h0M395.7 153.7h0M371.5 135.1h0M385.4 152.3h0M391.1 153.5h0M389.6 155.0h0M386.7 140.6h0M361.0 142.3h0M360.1 131.0h0M387.4 144.2h0M389.0 155.0h0M366.8 149.1h0M368.3 154.8h0M385.1 154.2h0M392.7 144.8h0M396.8 102.2h0M360.6 143.0h0M379.7 168.2h0M369.3 142.2h0M378.6 131.7h0M374.6 165.4h0M393.8 156.5h0M394.6 139.8h0M368.6 143.0h0M372.4 124.3h0M369.5 123.8h0M372.9 127.1h0M389.0 146.5h0M386.0 151.8h0M369.7 132.3h0M385.3 154.1h0M384.9 141.5h0M373.4 137.7h0M367.5 137.7h0M386.0 137.9h0M373.6 134.4h0M366.0 155.6h0M384.9 151.7h0M397.7 148.8h0M362.2 145.7h0M393.6 133.5h0M368.1 145.8h0M387.1 154.2h0M374.0 146.2h0M380.3 146.5h0M377.0 132.7h0M368.8 152.2h0M393.1 132.7h0M385.9 141.0h0M362.0 124.3h0M377.7 153.3h0M375.0 147.5h0M383.3 153.2h0M390.7 114.7h0M375.9 151.2h0M365.7 154.0h0M380.8 156.3h0M367.6 151.3h0M378.2 154.5h0M372.4 124.4h0M387.7 153.8h0M382.6 155.4h0M386.5 142.0h0M380.0 152.1h0M396.1 150.5h0M393.8 149.6h0M367.1 141.3h0M396.2 125.8h0M373.1 136.2h0M367.2 143.9h0M363.5 91.5h0M377.4 154.3h0M392.0 130.3h0M381.5 153.6h0M379.3 122.4h0M387.5 147.2h0M365.9 122.0h0M379.4 141.4h0M376.5 133.0h0M378.5 138.1h0M377.3 155.6h0M364.9 134.1h0M378.0 147.0h0M361.7 146.8h0M365.3 153.8h0M360.5 152.3h0M375.3 137.6h0M372.4 147.7h0M387.9 144.0h0M364.3 135.1h0M383.4 150.3h0M370.3 155.1h0M373.2 158.0h0M370.7 140.4h0M365.5 143.9h0M361.2 147.6h0M383.0 149.9h0M369.5 132.4h0M376.4 139.4h0M380.0 156.0h0M374.0 155.3h0M385.1 143.5h0M393.3 153.4h0M367.3 159.0h0M371.5 146.7h0M377.7 148.4h0M381.9 143.3h0M377.7 131.1h0M387.4 133.2h0M395.6 148.3h0M363.6 128.0h0M359.4 142.4h0M390.9 146.8h0M366.9 130.1h0M378.5 139.3h0M385.6 143.7h0M362.6 144.1h0M386.1 148.8h0M357.0 128.4h0M373.6 165.0h0M394.9 140.5h0M372.2 146.8h0M376.1 119.1h0M368.1 147.6h0M377.7 146.9h0M376.3 146.7h0M374.2 117.9h0M369.0 140.0h0M367.4 145.6h0M370.2 148.6h0M370.4 139.6h0M388.4 142.3h0M366.7 151.0h0M370.4 151.4h0M375.1 152.8h0M368.3 151.0h0M377.0 150.5h0M378.5 144.7h0M392.6 152.4h0M396.1 127.2h0M382.2 149.6h0M367.7 152.8h0M378.7 167.4h0M392.3 141.3h0M360.9 147.9h0M387.4 138.3h0M373.2 147.0h0M371.9 163.1h0M374.6 145.1h0M390.3 153.3h0M360.4 140.6h0M380.5 136.0h0M379.5 148.0h0M386.4 150.4h0M368.0 142.2h0M367.4 143.7h0M389.8 153.4h0M390.4 132.1h0M384.5 144.6h0M394.3 149.1h0M363.3 151.2h0M391.1 151.5h0M368.0 104.1h0M378.3 167.7h0M369.0 155.2h0M387.4 165.9h0M370.7 134.4h0M388.3 150.6h0M365.4 146.9h0M363.5 137.3h0M390.5 149.3h0M365.8 150.2h0M379.0 135.6h0M391.5 147.5h0M374.0 140.7h0M393.1 154.8h0M392.7 153.8h0M362.0 130.7h0M391.6 143.5h0M372.5 133.0h0M395.3 160.5h0M381.2 155.3h0M393.0 139.0h0M366.1 105.5h0M389.2 142.2h0M373.3 132.9h0M392.5 146.3h0M365.3 143.2h0M369.6 150.8h0M367.4 150.1h0M369.1 149.5h0M361.8 137.2h0M367.6 159.9h0M359.4 137.7h0M373.5 139.3h0M368.7 160.5h0M394.2 159.0h0M385.9 151.1h0M393.1 145.6h0M377.0 143.4h0M378.6 140.0h0M392.0 132.5h0M390.2 145.6h0M374.5 141.1h0M367.8 141.2h0M373.6 139.2h0M366.3 147.8h0M372.4 143.0h0M384.2 143.5h0M364.3 130.7h0M364.2 131.0h0M381.4 151.1h0M358.7 123.8h0M393.0 147.3h0M372.3 163.8h0M380.8 150.7h0M365.6 126.0h0M374.6 153.4h0M365.4 154.4h0M395.1 153.9h0M384.0 144.5h0M388.5 154.1h0M387.8 150.6h0M386.1 146.5h0M373.9 149.2h0M371.0 147.6h0M372.7 164.4h0M394.9 157.8h0M390.7 137.1h0M374.8 122.8h0M362.6 140.0h0M391.3 142.7h0M362.3 151.3h0M372.6 111.7h0M371.8 135.6h0M364.2 127.1h0M395.9 126.0h0M386.5 145.3h0M365.8 141.2h0M366.5 144.5h0M393.4 123.6h0M368.3 152.5h0M356.7 96.0h0M367.5 147.8h0M378.9 144.8h0M384.2 145.8h0M367.4 145.2h0M376.0 144.6h0M367.3 121.4h0M359.6 111.8h0M392.4 140.3h0M355.3 100.1h0M362.0 147.1h0M361.2 135.7h0M363.7 149.8h0M373.6 141.7h0M367.8 123.4h0M366.3 146.9h0M364.4 141.4h0M360.5 125.9h0M373.4 126.1h0M368.2 143.3h0M391.3 149.2h0M387.6 143.3h0M378.4 146.8h0M364.0 158.9h0M385.9 155.2h0M367.5 148.2h0M374.9 139.7h0M368.6 148.0h0M392.0 131.1h0M362.1 153.4h0M371.3 136.3h0M393.2 154.7h0M383.8 148.3h0M366.0 158.9h0M383.2 146.9h0M393.0 146.0h0M390.8 132.2h0M371.9 145.6h0M360.2 112.3h0M363.5 146.0h0M365.0 157.4h0M391.4 140.4h0M389.7 143.7h0M384.3 138.8h0M389.9 141.3h0M393.8 154.6h0M378.1 130.6h0M373.5 120.5h0M363.6 155.6h0M374.2 152.7h0M371.0 110.1h0M363.7 128.9h0M372.7 135.1h0M367.3 160.7h0M365.6 140.7h0M392.5 121.0h0M362.1 85.5h0M397.0 145.6h0M371.6 137.0h0M360.7 137.4h0M394.1 155.5h0M368.8 153.0h0M390.9 126.5h0M382.1 154.4h0M367.8 149.0h0M385.2 133.0h0M371.2 138.3h0M364.6 152.0h0M371.4 163.3h0M394.7 153.3h0M368.2 145.1h0M362.2 136.3h0M364.9 139.5h0M376.3 142.5h0M369.5 155.0h0M367.6 147.0h0M370.2 146.1h0M380.0 140.6h0M370.7 143.6h0M387.2 129.9h0M370.9 137.7h0M391.6 124.6h0M371.1 144.7h0M379.2 145.8h0M378.3 128.1h0M363.9 153.1h0M373.7 129.3h0M367.9 133.2h0M372.0 141.1h0M364.0 141.5h0M360.7 115.2h0M376.7 142.6h0M364.6 142.2h0M377.0 129.4h0M362.4 122.3h0M383.3 144.5h0M379.6 144.4h0M380.0 138.7h0M363.0 146.2h0M380.6 148.9h0M376.2 143.2h0M363.9 147.4h0M360.0 127.2h0M371.2 130.5h0M364.1 139.5h0M396.3 144.4h0M386.3 148.1h0M381.0 154.9h0M366.8 137.8h0M358.5 88.4h0M390.3 142.0h0M379.5 146.5h0M369.6 154.1h0M376.5 138.3h0M382.2 138.6h0M366.0 143.5h0M359.8 114.1h0M368.1 117.3h0M390.2 140.2h0M391.8 140.3h0M393.7 132.9h0M389.6 142.4h0M362.2 152.1h0M366.3 118.9h0M365.3 133.3h0M391.6 138.3h0M366.7 110.9h0M360.3 151.8h0M359.3 128.9h0M365.7 137.5h0M362.4 128.8h0M397.3 145.7h0M382.4 145.7h0M368.1 123.2h0M392.8 149.2h0M373.8 138.6h0M366.5 118.1h0M379.3 133.4h0M394.2 148.7h0M386.6 146.7h0M369.1 122.0h0M374.3 144.5h0M365.3 135.8h0M369.6 120.1h0M387.6 149.8h0M366.2 120.9h0M371.2 139.9h0M361.9 112.1h0M376.8 135.9h0M377.8 167.1h0M369.5 143.5h0M388.8 141.4h0M389.8 137.1h0M393.1 147.6h0M375.4 140.7h0M395.7 145.5h0M362.2 139.6h0M390.6 138.8h0M366.3 137.4h0M396.6 151.6h0M386.5 147.1h0M363.5 141.4h0M362.3 132.2h0M366.1 138.7h0M363.9 154.9h0M368.2 120.2h0M380.4 140.1h0M364.7 123.0h0M388.0 126.4h0M386.4 143.1h0M357.6 146.7h0M369.4 140.3h0M395.2 154.9h0M391.8 130.1h0M375.9 124.7h0M370.6 162.7h0M366.7 127.2h0M395.7 144.5h0M377.5 148.1h0M375.9 140.8h0M381.0 142.1h0M384.3 143.0h0M380.4 148.8h0M362.3 153.7h0M387.7 138.0h0M359.8 139.4h0M377.0 137.3h0M376.9 123.8h0M370.5 138.5h0M388.5 147.1h0M359.5 141.6h0M368.6 144.1h0M374.5 126.9h0M386.0 144.7h0M384.0 135.0h0M395.0 144.2h0M377.0 144.7h0M378.0 137.8h0M381.4 137.9h0M363.8 154.7h0M387.6 138.8h0M373.1 147.7h0M393.3 140.6h0M371.3 142.4h0M362.0 129.4h0M362.3 144.3h0M394.0 139.7h0M390.7 146.2h0M394.3 119.2h0M366.8 130.4h0M375.0 144.5h0M394.5 158.3h0M363.2 127.0h0M391.9 145.7h0M378.4 143.1h0M364.8 143.4h0M385.6 149.5h0M389.8 134.9h0M363.3 118.5h0M364.0 145.3h0M371.7 137.3h0M373.1 143.8h0M371.5 144.7h0M375.9 144.3h0M397.8 155.3h0M383.4 143.4h0M363.4 120.8h0M390.7 128.7h0M371.4 144.2h0M362.6 131.1h0M362.6 152.6h0M372.6 128.7h0M362.8 117.1h0M388.5 144.4h0M365.7 117.7h0M384.6 147.2h0M395.4 157.2h0M390.1 135.0h0M367.4 131.8h0M394.6 152.0h0M399.1 156.4h0M361.4 137.9h0M385.3 145.9h0M365.1 140.5h0M368.7 138.0h0M390.2 141.1h0M390.0 149.1h0M384.0 152.9h0M361.4 146.1h0M385.5 146.6h0M371.5 125.8h0M389.5 146.9h0M376.3 134.9h0M369.1 137.0h0M373.0 132.1h0M367.5 142.5h0M383.9 140.0h0M374.2 144.2h0M390.1 140.1h0M362.3 133.2h0M364.0 147.0h0M395.5 154.8h0M394.6 145.3h0M375.0 137.2h0M377.2 133.9h0M369.5 142.0h0M392.0 130.9h0M364.7 146.1h0M363.7 148.4h0M376.2 140.7h0M387.1 142.8h0M363.7 152.5h0M371.9 136.6h0M390.7 148.6h0M383.2 141.3h0M371.9 124.8h0M396.1 148.7h0M369.9 149.2h0M370.9 141.2h0M393.6 142.2h0M391.8 139.7h0M359.0 130.0h0M390.9 145.9h0M395.9 132.4h0M383.6 144.9h0M365.4 110.5h0M394.4 136.5h0M390.8 131.9h0M360.2 145.9h0M385.7 148.0h0M394.5 132.4h0M396.0 145.6h0M367.1 129.5h0M386.9 166.2h0M375.7 134.7h0M368.9 135.5h0M373.9 128.8h0M394.2 156.2h0M383.1 145.4h0M382.1 141.0h0M361.4 144.2h0M362.6 148.4h0M382.6 148.6h0M372.9 127.5h0M388.2 143.0h0M367.0 142.8h0M365.8 135.9h0M382.0 142.8h0M381.5 142.6h0M373.3 140.6h0M390.9 144.8h0M384.9 142.3h0M378.1 145.4h0M372.3 127.3h0M366.5 135.3h0M364.5 105.9h0M366.6 91.4h0M380.5 154.2h0M385.6 140.0h0M379.9 143.9h0M368.7 118.6h0M391.3 141.0h0M396.2 142.6h0M378.1 141.1h0M375.4 125.8h0M363.2 140.0h0M366.7 139.4h0M374.9 123.6h0M391.6 136.8h0M369.0 138.7h0M372.4 142.8h0M365.3 140.0h0M358.5 120.0h0M394.7 125.1h0M378.1 140.4h0M368.7 130.7h0M359.0 148.9h0M374.1 142.8h0M380.8 142.2h0M367.1 139.4h0M381.3 150.6h0M395.7 147.1h0M377.3 141.0h0M360.1 143.8h0M360.2 145.2h0M396.5 128.1h0M393.2 137.6h0M389.8 132.3h0M362.3 143.5h0M370.9 130.5h0M363.1 149.9h0M361.8 127.6h0M378.4 148.7h0M388.6 133.4h0M370.2 130.0h0M390.9 139.0h0M393.1 160.7h0M367.0 139.1h0M369.3 150.4h0M380.4 143.9h0M365.6 158.3h0M369.1 125.3h0M388.1 125.7h0M366.3 115.6h0M368.0 131.5h0M380.1 131.7h0M363.3 125.5h0M361.0 115.2h0M374.3 131.4h0M362.6 145.2h0M363.7 133.6h0M389.4 136.4h0M392.4 127.0h0M379.9 143.5h0M374.0 137.1h0M383.5 139.1h0M381.9 146.1h0M395.4 148.7h0M392.7 114.5h0M369.3 138.3h0M379.3 138.4h0M364.6 159.2h0M387.0 136.4h0M366.7 142.3h0M376.3 112.2h0M375.7 131.7h0M365.0 124.6h0M391.2 154.6h0M395.1 144.0h0M389.4 135.6h0M360.0 147.6h0M360.4 137.4h0M363.8 142.2h0M373.9 139.5h0M396.3 154.4h0M362.0 114.4h0M383.4 148.5h0M364.3 139.1h0M388.6 128.2h0M365.8 107.1h0M366.5 146.2h0M360.1 135.5h0M370.6 131.2h0M374.6 135.9h0M383.0 142.6h0M388.9 139.1h0M393.6 134.0h0M376.3 127.2h0M369.6 134.3h0M367.7 114.4h0M390.8 122.0h0M385.9 168.2h0M388.7 138.3h0M389.0 128.8h0M375.7 137.5h0M361.0 138.0h0M368.1 130.6h0M368.3 121.7h0M389.6 147.2h0M365.0 152.5h0M386.1 139.7h0M396.0 149.3h0M363.9 106.1h0M376.1 138.6h0M395.0 158.3h0M396.4 153.8h0M365.5 159.6h0M393.4 134.3h0M396.8 153.5h0M360.0 119.5h0M368.0 149.9h0M388.6 128.1h0M377.5 138.9h0M394.6 143.0h0M378.6 144.0h0M363.4 144.3h0M364.6 99.0h0M372.3 137.8h0M365.4 145.7h0M357.5 127.0h0M365.1 120.2h0M385.9 137.5h0M368.0 113.1h0M389.2 127.7h0M383.1 147.6h0M395.0 157.1h0M387.9 142.4h0M361.8 139.6h0M364.6 135.0h0M368.3 123.7h0M396.0 150.0h0M361.5 145.5h0M375.8 127.6h0M390.9 130.5h0M397.0 133.2h0M359.8 150.5h0M368.7 140.1h0M366.4 88.5h0M371.7 133.5h0M361.0 107.5h0M358.0 119.1h0M368.8 162.0h0M390.9 127.5h0M363.2 147.6h0M402.7 133.9h0M368.0 136.0h0M377.4 147.7h0M377.6 139.9h0M385.1 137.7h0M396.8 149.4h0M395.3 131.4h0M372.8 130.6h0M363.2 153.2h0M394.6 114.0h0M395.2 140.5h0M361.1 126.4h0M360.1 129.6h0M374.7 129.9h0M362.1 149.9h0M377.9 135.3h0M397.1 155.0h0M362.6 134.6h0M379.6 168.2h0M384.0 140.5h0M359.4 134.0h0M360.9 133.1h0M381.9 143.7h0M361.9 130.0h0M370.6 134.1h0M366.7 107.4h0M364.4 153.5h0M368.8 137.1h0M366.4 119.6h0M366.0 159.7h0M394.7 149.6h0M371.9 128.8h0M363.7 130.8h0M361.5 152.6h0M397.3 155.8h0M385.1 138.5h0M361.2 133.9h0M394.0 144.0h0M390.4 147.9h0M365.7 116.0h0M389.6 164.2h0M363.6 154.0h0M379.5 134.8h0M370.4 114.4h0M374.3 165.4h0M379.0 137.4h0M396.1 152.5h0M377.7 142.1h0M394.6 142.7h0M363.3 155.2h0M397.1 150.4h0M393.6 142.7h0M367.2 115.8h0M394.6 126.6h0M358.1 123.9h0M392.8 121.5h0M381.4 141.2h0M381.4 143.8h0M395.9 143.3h0M365.7 124.5h0M358.7 126.4h0M363.3 142.2h0M370.1 107.3h0M361.2 125.5h0M395.0 93.0h0M374.2 142.4h0M397.9 148.0h0M394.1 149.7h0M387.8 142.3h0M375.1 133.7h0M369.3 141.5h0M381.4 136.3h0M379.6 137.2h0M376.2 135.7h0M370.3 141.3h0M394.0 146.9h0M374.9 143.5h0M365.2 120.7h0M379.3 135.8h0M367.7 127.7h0M359.4 143.4h0M375.3 143.2h0M393.5 122.2h0M392.7 152.2h0M370.4 113.4h0M388.1 136.2h0M395.9 154.8h0M383.2 140.6h0M360.8 138.1h0M386.4 135.5h0M375.6 132.2h0M367.7 128.0h0M362.8 133.1h0M361.2 149.8h0M368.4 116.2h0M392.4 135.7h0M359.8 142.4h0M395.1 155.4h0M391.1 163.1h0M381.4 149.6h0M377.9 133.3h0M375.1 136.4h0M368.1 115.4h0M393.8 144.7h0M370.4 132.9h0M369.5 121.2h0M394.0 104.0h0M362.3 123.1h0M357.4 118.6h0M372.0 82.9h0M396.0 128.8h0M397.8 115.6h0M367.9 123.0h0M396.5 144.5h0M375.4 129.4h0M375.3 128.7h0M385.4 136.9h0M392.6 126.1h0M357.6 116.7h0M385.6 142.4h0M395.4 135.6h0M367.2 114.8h0M369.6 136.8h0M361.4 128.2h0M383.9 146.7h0M359.3 139.1h0M394.5 134.3h0M371.6 125.2h0M361.9 136.9h0M388.1 128.9h0M390.4 163.7h0M393.7 145.6h0M373.7 112.1h0M392.9 127.2h0M368.2 131.9h0M358.4 121.6h0M364.6 157.3h0M371.5 120.1h0M382.0 146.5h0M384.6 140.8h0M375.3 131.6h0M378.6 132.5h0M359.2 143.9h0M389.9 140.0h0M384.2 139.5h0M357.3 133.4h0M375.3 138.6h0M363.8 137.7h0M358.6 114.2h0M386.2 135.3h0M388.1 136.0h0M379.9 143.5h0M377.8 132.2h0M367.2 122.2h0M395.2 136.1h0M388.3 140.2h0M361.4 98.4h0M380.6 140.7h0M358.7 155.7h0M389.4 133.6h0M362.0 89.9h0M363.9 122.0h0M393.2 124.2h0M382.3 147.5h0M365.1 119.1h0M363.4 135.5h0M382.0 145.1h0M372.8 129.9h0M390.9 131.6h0M381.3 145.3h0M375.2 135.0h0M362.6 117.7h0M359.9 106.1h0M372.2 117.9h0M361.8 150.6h0M386.6 133.3h0M362.8 142.7h0M397.7 141.1h0M398.3 145.0h0M367.6 133.8h0M393.1 159.5h0M390.6 126.0h0M380.6 139.5h0M390.9 124.5h0M363.9 143.8h0M376.9 129.2h0M360.9 132.1h0M362.7 126.4h0M389.0 131.9h0M394.6 137.0h0M364.6 156.8h0M360.3 136.4h0M375.3 123.8h0M377.6 136.5h0M367.5 124.1h0M375.9 123.6h0M365.6 134.7h0M365.8 141.5h0M372.6 132.2h0M377.9 142.9h0M372.8 124.6h0M391.3 129.9h0M393.7 135.7h0M393.6 121.8h0M364.6 158.1h0M391.9 133.6h0M385.8 135.1h0M375.8 128.1h0M366.4 129.1h0M375.8 127.0h0M362.4 130.1h0M393.2 137.2h0M390.3 138.9h0M367.3 112.9h0M397.3 141.0h0M393.4 159.7h0M385.9 131.7h0M395.8 129.5h0M383.2 142.3h0M368.8 130.6h0M371.2 163.3h0M376.6 141.2h0M392.2 133.7h0M358.0 129.2h0M390.4 135.4h0M396.6 148.5h0M376.2 131.6h0M382.6 139.9h0M364.5 119.5h0M358.1 128.9h0M363.3 130.4h0M379.7 142.8h0M375.0 134.1h0M372.4 138.3h0M391.8 126.6h0M388.5 136.9h0M369.9 128.9h0M387.9 141.0h0M365.2 138.6h0M383.3 137.0h0M382.7 136.8h0M377.2 130.0h0M361.8 110.0h0M379.4 136.8h0M387.2 140.3h0M359.2 145.5h0M374.1 131.3h0M373.7 130.9h0M371.0 163.8h0M393.8 159.9h0M384.5 141.6h0M394.1 109.2h0M364.4 123.2h0M393.3 125.7h0M394.9 150.0h0M377.4 143.6h0M358.9 139.0h0M389.5 125.8h0M358.9 139.5h0M374.2 137.6h0M361.6 143.3h0M366.1 141.9h0M369.6 132.9h0M393.7 112.4h0M376.4 128.8h0M368.3 130.0h0M382.7 138.2h0M386.6 166.5h0M389.7 134.5h0M366.0 131.1h0M369.1 134.6h0M363.4 154.1h0M369.9 162.2h0M363.9 123.5h0M363.3 133.8h0M401.6 150.3h0M367.0 128.8h0M361.9 123.1h0M381.2 138.6h0M372.3 164.5h0M356.4 129.4h0M365.2 126.1h0M372.0 122.7h0M385.3 136.6h0M391.6 133.6h0M364.0 114.3h0M361.4 122.9h0M361.9 138.3h0M370.0 135.7h0M378.2 141.8h0M392.0 138.4h0M365.1 88.8h0M359.0 134.6h0M388.3 130.8h0M359.4 149.7h0M388.8 165.5h0M367.4 110.6h0M384.1 137.1h0M376.2 136.3h0M391.4 118.0h0M393.8 128.6h0M362.1 141.5h0M375.4 166.1h0M372.5 113.1h0M359.3 127.6h0M393.3 119.9h0M367.9 118.1h0M390.3 137.1h0M372.1 111.2h0M391.1 125.8h0M362.0 110.6h0M373.7 130.5h0M396.1 151.7h0M394.8 120.2h0M366.1 135.9h0M362.1 111.6h0M364.2 108.1h0M364.8 133.3h0M381.9 137.6h0M373.4 160.9h0M369.7 97.5h0M389.2 131.1h0M388.2 143.4h0M372.3 131.4h0M366.2 133.0h0M361.2 103.6h0M396.4 128.5h0M360.1 138.8h0M394.0 129.3h0M378.7 136.6h0M367.0 133.6h0M371.4 141.4h0M363.7 123.0h0M363.2 156.0h0M394.5 125.3h0M389.3 123.1h0M360.8 135.3h0M392.5 138.3h0M360.4 139.4h0M364.6 129.0h0M369.3 109.6h0M377.6 130.1h0M359.9 141.2h0M365.6 124.4h0M395.9 121.7h0M357.6 133.4h0M365.9 134.1h0M392.3 128.8h0M394.6 159.7h0M368.7 126.2h0M368.1 113.0h0M361.4 150.6h0M387.0 127.2h0M395.5 139.8h0M364.5 123.7h0M356.4 116.3h0M396.4 141.4h0M360.7 148.3h0M369.7 118.6h0M364.9 131.6h0M358.4 139.6h0M369.7 128.8h0M368.3 161.7h0M390.8 164.7h0M386.0 134.1h0M358.7 107.2h0M370.0 130.9h0M391.3 142.4h0M374.1 135.4h0M361.6 138.4h0M396.3 155.4h0M360.1 131.7h0M377.1 127.8h0M372.2 121.2h0M394.4 126.7h0M368.8 105.8h0M392.3 119.6h0M397.5 147.1h0M368.8 129.1h0M386.2 134.3h0M364.0 132.9h0M365.4 89.3h0M359.7 100.3h0M362.7 121.8h0M364.3 137.9h0M359.2 87.2h0M392.0 125.0h0M364.3 105.4h0M369.5 133.6h0M395.2 134.5h0M386.7 166.7h0M361.1 124.2h0M387.9 133.7h0M370.8 124.7h0M395.6 147.4h0M396.9 143.2h0M371.8 109.5h0M358.0 136.3h0M365.0 114.8h0M372.4 119.2h0M388.1 137.6h0M374.9 121.3h0M394.3 135.9h0M391.1 134.0h0M391.3 123.0h0M396.5 148.4h0M397.3 95.9h0M372.8 116.7h0M396.4 121.0h0M391.7 110.3h0M360.8 146.4h0M366.0 127.1h0M360.7 125.1h0M396.7 126.5h0M386.7 133.0h0M394.5 107.1h0M389.2 133.9h0M393.5 135.1h0M366.5 123.8h0M358.9 142.2h0M359.7 140.2h0M396.3 147.1h0M389.5 128.8h0M390.3 124.4h0M371.5 112.3h0M381.2 137.5h0M390.0 133.8h0M368.8 117.3h0M385.7 135.2h0M366.9 113.8h0M385.5 134.8h0M394.9 156.3h0M366.7 136.2h0M365.3 132.2h0M393.7 127.2h0M364.6 118.5h0M378.9 133.7h0M357.9 133.1h0M371.9 120.7h0M387.4 132.1h0M369.6 131.7h0M363.1 154.6h0M359.3 126.0h0M387.5 130.1h0M377.8 128.8h0M393.2 160.5h0M361.1 129.8h0M363.5 132.5h0M383.7 133.6h0M395.2 159.3h0M385.8 135.9h0M374.2 128.4h0M364.6 160.3h0M365.7 94.0h0M382.0 139.8h0M391.6 138.0h0M384.0 136.8h0M361.3 120.7h0M362.6 135.0h0M391.4 135.0h0M361.8 153.6h0M367.3 125.8h0M387.9 127.7h0M374.7 125.9h0M368.8 107.4h0M362.0 122.1h0M379.6 133.1h0M369.8 122.4h0M359.6 132.1h0M389.9 123.1h0M372.2 119.8h0M390.6 143.6h0M361.8 151.2h0M369.4 126.3h0M385.4 135.8h0M357.9 125.0h0M391.6 135.7h0M384.9 132.9h0M390.6 127.4h0M360.4 133.9h0M369.7 115.9h0M357.7 126.5h0M373.7 124.7h0M367.2 121.0h0M372.1 127.3h0M359.7 148.2h0M398.0 151.8h0M361.6 116.9h0M359.2 104.7h0M361.9 134.9h0M378.1 134.0h0M389.1 124.5h0M361.4 109.8h0M360.6 133.7h0M369.7 162.5h0M388.8 135.3h0M397.7 154.4h0M368.1 120.0h0M394.2 130.9h0M397.4 105.6h0M365.2 99.6h0M368.9 162.2h0M356.5 94.2h0M372.7 118.6h0M369.0 116.0h0M371.5 119.5h0M366.6 133.9h0M387.7 140.1h0M358.4 137.4h0M397.2 135.2h0M375.6 124.9h0M364.1 158.4h0M362.2 107.4h0M367.7 126.1h0M369.8 121.3h0M369.0 126.8h0M398.2 142.8h0M367.8 105.2h0M367.0 112.0h0M366.6 117.1h0M362.8 113.4h0M360.1 132.5h0M388.6 131.5h0M368.1 126.4h0M368.0 133.9h0M364.1 116.5h0M371.2 132.3h0M374.3 127.7h0M394.0 114.9h0M390.2 137.6h0M363.0 115.3h0M363.0 120.0h0M386.6 136.7h0M359.2 125.5h0M362.8 101.4h0M366.3 111.7h0M362.9 155.8h0M367.4 131.0h0M366.5 125.6h0M363.3 118.9h0M372.4 122.7h0M396.1 135.8h0M361.4 119.0h0M396.3 122.2h0M360.7 126.9h0M362.7 93.9h0M362.8 141.2h0M362.2 105.5h0M396.6 152.9h0M385.7 139.1h0M369.5 108.6h0M364.4 108.5h0M397.7 90.7h0M364.8 126.6h0M393.3 109.2h0M377.2 135.3h0M359.9 133.2h0M378.3 130.7h0M393.8 138.3h0M395.4 134.6h0M370.7 106.5h0M397.6 149.8h0M359.8 95.5h0M361.8 115.6h0M357.3 131.1h0M367.5 125.6h0M372.0 100.9h0M361.0 111.8h0M361.9 153.6h0M369.7 111.6h0M391.4 163.3h0M398.4 157.1h0M369.6 106.8h0M390.3 129.5h0M392.7 119.6h0M361.1 151.3h0M367.5 125.1h0M359.4 112.3h0M364.6 116.3h0M400.2 152.6h0M356.2 126.2h0M377.9 129.5h0M394.8 119.8h0M363.4 156.2h0M396.3 132.5h0M393.4 115.0h0M367.8 135.2h0M395.0 130.8h0M359.7 132.6h0M366.0 122.3h0M358.6 124.2h0M359.4 141.2h0M373.1 125.2h0M389.1 124.8h0M387.5 134.2h0M361.4 129.0h0M369.9 118.9h0M372.0 118.3h0M370.4 162.9h0M364.4 157.1h0M373.5 122.3h0M364.8 117.8h0M398.3 110.1h0M372.6 115.1h0M373.7 123.7h0M397.8 150.9h0M373.0 126.5h0M394.3 128.1h0M368.9 122.1h0M362.6 115.5h0M362.2 116.7h0M393.2 125.1h0M364.9 132.4h0M359.5 148.6h0M373.3 111.0h0M373.0 164.7h0M390.5 132.7h0M358.9 131.0h0M365.6 129.5h0M369.4 114.1h0M367.4 95.0h0M359.6 136.0h0M357.3 124.8h0M375.4 116.2h0M367.9 112.0h0M365.2 113.5h0M366.8 128.8h0M363.7 121.6h0M394.7 150.8h0M366.0 113.7h0M363.1 115.4h0M358.9 139.7h0M364.1 157.3h0M389.0 134.4h0M388.0 131.4h0M376.3 129.6h0M365.4 96.4h0M366.0 131.4h0M388.8 121.9h0M369.3 126.6h0M385.5 144.0h0M363.4 100.0h0M363.2 125.6h0M391.6 114.4h0M371.4 113.7h0M362.7 112.8h0M361.2 109.1h0M366.5 118.3h0M396.0 134.6h0M388.2 133.0h0M389.9 138.4h0M359.3 87.8h0M371.2 118.3h0M359.3 132.2h0M392.0 134.7h0M391.4 127.2h0M390.1 121.4h0M371.0 120.7h0M369.4 119.0h0M368.7 125.3h0M365.1 128.4h0M367.4 116.7h0M363.1 108.7h0M395.4 128.5h0M370.6 121.0h0M385.0 132.0h0M390.7 131.4h0M386.4 129.2h0M366.3 123.6h0M372.7 142.4h0M398.0 148.4h0M365.2 136.1h0M357.8 126.2h0M363.0 125.0h0M370.5 113.6h0M370.4 116.5h0M361.9 120.1h0M362.8 158.0h0M364.3 120.6h0M393.9 126.1h0M361.9 120.7h0M393.5 110.5h0M358.3 140.8h0M366.0 83.5h0M361.5 120.3h0M364.8 127.2h0M384.5 133.1h0M384.2 135.7h0M371.2 126.6h0M374.7 115.4h0M392.1 162.5h0M397.4 97.6h0M366.6 93.7h0M360.7 129.3h0M371.1 121.8h0M395.2 156.1h0M368.6 113.6h0M374.7 112.3h0M396.4 132.6h0M359.8 144.4h0M394.6 115.8h0M362.3 112.4h0M366.3 102.8h0M364.0 159.9h0M372.4 125.9h0M395.6 127.7h0M362.7 94.8h0M372.7 110.8h0M361.2 131.4h0M395.0 119.6h0M394.0 138.4h0M359.6 156.1h0M364.6 136.8h0M358.8 142.1h0M358.3 134.0h0M379.0 130.7h0M394.7 138.9h0M389.6 164.6h0M363.2 125.3h0M396.7 139.8h0M383.6 135.0h0M369.2 110.4h0M384.4 133.8h0M360.5 121.7h0M370.6 120.1h0M371.0 107.0h0M391.6 129.5h0M362.2 128.4h0M396.8 138.3h0M395.3 158.5h0M363.9 116.9h0M365.3 117.1h0M397.3 140.6h0M363.1 123.0h0M361.9 119.5h0M360.3 128.5h0M358.6 133.8h0M383.8 135.5h0M400.3 157.9h0M369.3 125.6h0M376.4 129.8h0M396.8 142.7h0M359.5 92.7h0M379.8 134.8h0M371.7 123.2h0M395.7 138.8h0M361.7 126.7h0M369.4 93.7h0M359.0 120.6h0M368.7 133.2h0M363.5 124.0h0M364.0 132.2h0M361.6 112.5h0M392.2 130.7h0M393.0 117.9h0M363.9 105.6h0M396.6 124.5h0M360.8 103.7h0M398.7 155.1h0M368.7 119.2h0M393.3 130.2h0M369.7 124.6h0M382.1 136.6h0M367.9 129.3h0M377.1 131.9h0M362.2 118.5h0M359.8 114.8h0M390.0 127.6h0M359.3 123.1h0M393.1 123.2h0M359.8 123.2h0M365.1 113.6h0M394.4 118.1h0M371.8 122.9h0M395.5 140.9h0M377.0 125.2h0M353.7 139.5h0M362.9 107.2h0M388.6 129.5h0M394.4 118.9h0M385.9 128.0h0M397.1 139.5h0M365.6 112.8h0M375.5 130.9h0M369.6 127.1h0M357.0 114.0h0M360.7 130.8h0M394.0 123.4h0M394.0 160.1h0M371.8 104.8h0M366.7 95.5h0M396.9 122.6h0M358.8 118.2h0M382.9 138.1h0M366.9 160.1h0M395.9 136.5h0M395.6 115.7h0M369.5 100.1h0M358.3 135.0h0M364.7 109.7h0M369.9 117.1h0M390.4 130.3h0M370.2 117.6h0M395.9 157.3h0M367.6 136.9h0M371.1 117.1h0M356.8 130.2h0M357.5 128.9h0M373.1 164.9h0M373.7 99.3h0M364.0 126.3h0M359.4 95.1h0M370.1 101.8h0M395.4 111.1h0M363.2 112.5h0M361.3 120.3h0M395.0 109.1h0M359.2 115.8h0M358.1 130.9h0M396.5 134.8h0M369.4 106.0h0M359.4 125.4h0M370.4 123.4h0M363.4 113.9h0M370.4 137.6h0M366.0 111.1h0M366.9 119.2h0M393.6 116.5h0M386.7 130.5h0M394.6 124.7h0M357.0 97.7h0M371.5 128.6h0M373.5 120.7h0M373.0 122.9h0M360.0 108.6h0M364.3 114.9h0M370.0 127.1h0M359.0 144.1h0M367.5 161.4h0M368.2 89.3h0M386.5 129.9h0M378.4 123.9h0M390.3 126.7h0M364.1 129.5h0M382.4 133.3h0M394.6 114.2h0M389.1 126.2h0M357.5 134.8h0M396.4 96.8h0M386.5 130.4h0M376.3 131.3h0M359.3 145.0h0M397.1 126.0h0M364.9 96.0h0M363.5 109.9h0M363.0 98.4h0M387.5 123.6h0M391.7 118.7h0M382.1 133.6h0M403.4 142.4h0M366.6 102.2h0M393.9 107.3h0M391.9 113.3h0M370.9 109.5h0M397.2 141.7h0M392.4 130.9h0M358.7 122.2h0M396.8 152.1h0M364.7 107.0h0M397.1 137.8h0M357.6 132.1h0M357.7 139.2h0M358.5 114.4h0M358.5 118.9h0M360.6 110.9h0M357.4 125.9h0M403.0 149.3h0M371.1 115.8h0M359.0 151.3h0M394.2 114.2h0M395.5 137.3h0M380.0 135.0h0M396.3 158.0h0M393.0 130.8h0M354.3 153.3h0M367.2 86.9h0M361.1 107.3h0M385.7 129.2h0M363.7 117.3h0M361.0 101.1h0M359.8 110.8h0M369.8 162.8h0M361.0 106.3h0M359.4 120.4h0M368.4 118.9h0M391.5 109.2h0M392.5 107.3h0M378.9 129.3h0M372.8 108.1h0M368.2 111.1h0M392.5 122.7h0M365.2 111.0h0M364.4 118.9h0M374.0 134.5h0M360.0 124.4h0M390.0 129.4h0M395.5 115.9h0M371.0 122.7h0M394.6 120.8h0M364.3 113.8h0M366.2 124.6h0M372.1 101.7h0M365.9 128.3h0M362.5 154.4h0M395.2 102.2h0M373.3 122.1h0M374.1 119.2h0M391.7 108.4h0M396.2 162.7h0M392.4 128.0h0M395.1 119.9h0M365.0 103.5h0M361.0 150.4h0M369.8 113.3h0M359.5 120.9h0M368.6 105.2h0M365.0 102.8h0M357.9 128.6h0M378.9 129.7h0M393.0 131.0h0M385.0 133.5h0M361.7 107.7h0M393.1 161.0h0M395.3 112.0h0M395.4 125.5h0M377.0 125.5h0M369.4 125.8h0M366.9 108.9h0M395.6 130.9h0M373.2 116.4h0M393.7 132.5h0M369.4 162.7h0M356.6 126.8h0M390.4 112.6h0M389.1 130.2h0M369.4 112.4h0M368.7 115.0h0M386.4 128.8h0M391.8 145.7h0"/>
<path fill="#7a706e" d="M409.8 122.0a0.78 0.78 0 1 0 1.56 0a0.78 0.78 0 1 0 -1.56 0M408.7 128.0a0.78 0.78 0 1 0 1.56 0a0.78 0.78 0 1 0 -1.56 0M410.2 116.5a0.78 0.78 0 1 0 1.56 0a0.78 0.78 0 1 0 -1.56 0M407.2 133.0a0.78 0.78 0 1 0 1.56 0a0.78 0.78 0 1 0 -1.56 0M406.2 140.0a0.78 0.78 0 1 0 1.56 0a0.78 0.78 0 1 0 -1.56 0M404.2 137.0a0.78 0.78 0 1 0 1.56 0a0.78 0.78 0 1 0 -1.56 0M403.2 131.0a0.78 0.78 0 1 0 1.56 0a0.78 0.78 0 1 0 -1.56 0M402.7 126.0a0.78 0.78 0 1 0 1.56 0a0.78 0.78 0 1 0 -1.56 0M399.2 118.0a0.78 0.78 0 1 0 1.56 0a0.78 0.78 0 1 0 -1.56 0M398.2 112.0a0.78 0.78 0 1 0 1.56 0a0.78 0.78 0 1 0 -1.56 0M396.7 107.0a0.78 0.78 0 1 0 1.56 0a0.78 0.78 0 1 0 -1.56 0M395.2 100.0a0.78 0.78 0 1 0 1.56 0a0.78 0.78 0 1 0 -1.56 0M393.7 96.0a0.78 0.78 0 1 0 1.56 0a0.78 0.78 0 1 0 -1.56 0M392.2 92.0a0.78 0.78 0 1 0 1.56 0a0.78 0.78 0 1 0 -1.56 0M395.2 94.0a0.78 0.78 0 1 0 1.56 0a0.78 0.78 0 1 0 -1.56 0M397.2 97.0a0.78 0.78 0 1 0 1.56 0a0.78 0.78 0 1 0 -1.56 0M400.2 123.0a0.78 0.78 0 1 0 1.56 0a0.78 0.78 0 1 0 -1.56 0M401.2 135.0a0.78 0.78 0 1 0 1.56 0a0.78 0.78 0 1 0 -1.56 0M405.2 146.0a0.78 0.78 0 1 0 1.56 0a0.78 0.78 0 1 0 -1.56 0M408.2 151.0a0.78 0.78 0 1 0 1.56 0a0.78 0.78 0 1 0 -1.56 0M399.2 141.0a0.78 0.78 0 1 0 1.56 0a0.78 0.78 0 1 0 -1.56 0M394.2 88.0a0.78 0.78 0 1 0 1.56 0a0.78 0.78 0 1 0 -1.56 0M391.7 84.0a0.78 0.78 0 1 0 1.56 0a0.78 0.78 0 1 0 -1.56 0M355.2 62.0a0.78 0.78 0 1 0 1.56 0a0.78 0.78 0 1 0 -1.56 0M360.2 66.0a0.78 0.78 0 1 0 1.56 0a0.78 0.78 0 1 0 -1.56 0M367.2 71.0a0.78 0.78 0 1 0 1.56 0a0.78 0.78 0 1 0 -1.56 0M365.2 75.0a0.78 0.78 0 1 0 1.56 0a0.78 0.78 0 1 0 -1.56 0M360.2 74.5a0.78 0.78 0 1 0 1.56 0a0.78 0.78 0 1 0 -1.56 0M353.2 80.0a0.78 0.78 0 1 0 1.56 0a0.78 0.78 0 1 0 -1.56 0M356.2 82.0a0.78 0.78 0 1 0 1.56 0a0.78 0.78 0 1 0 -1.56 0M359.2 84.0a0.78 0.78 0 1 0 1.56 0a0.78 0.78 0 1 0 -1.56 0M362.2 81.0a0.78 0.78 0 1 0 1.56 0a0.78 0.78 0 1 0 -1.56 0M364.2 86.0a0.78 0.78 0 1 0 1.56 0a0.78 0.78 0 1 0 -1.56 0M367.2 84.0a0.78 0.78 0 1 0 1.56 0a0.78 0.78 0 1 0 -1.56 0M371.2 88.0a0.78 0.78 0 1 0 1.56 0a0.78 0.78 0 1 0 -1.56 0M357.2 88.0a0.78 0.78 0 1 0 1.56 0a0.78 0.78 0 1 0 -1.56 0M354.2 90.0a0.78 0.78 0 1 0 1.56 0a0.78 0.78 0 1 0 -1.56 0M360.2 91.0a0.78 0.78 0 1 0 1.56 0a0.78 0.78 0 1 0 -1.56 0M363.2 93.0a0.78 0.78 0 1 0 1.56 0a0.78 0.78 0 1 0 -1.56 0M366.2 90.0a0.78 0.78 0 1 0 1.56 0a0.78 0.78 0 1 0 -1.56 0M369.2 94.0a0.78 0.78 0 1 0 1.56 0a0.78 0.78 0 1 0 -1.56 0M355.2 95.0a0.78 0.78 0 1 0 1.56 0a0.78 0.78 0 1 0 -1.56 0M358.2 97.0a0.78 0.78 0 1 0 1.56 0a0.78 0.78 0 1 0 -1.56 0M352.7 99.0a0.78 0.78 0 1 0 1.56 0a0.78 0.78 0 1 0 -1.56 0M361.2 98.0a0.78 0.78 0 1 0 1.56 0a0.78 0.78 0 1 0 -1.56 0M334.4 113.5a0.78 0.78 0 1 0 1.56 0a0.78 0.78 0 1 0 -1.56 0M338.8 133.5a0.78 0.78 0 1 0 1.56 0a0.78 0.78 0 1 0 -1.56 0M340.2 118.0a0.78 0.78 0 1 0 1.56 0a0.78 0.78 0 1 0 -1.56 0M393.2 93.0a0.78 0.78 0 1 0 1.56 0a0.78 0.78 0 1 0 -1.56 0M394.7 98.0a0.78 0.78 0 1 0 1.56 0a0.78 0.78 0 1 0 -1.56 0M396.2 103.0a0.78 0.78 0 1 0 1.56 0a0.78 0.78 0 1 0 -1.56 0M393.2 104.0a0.78 0.78 0 1 0 1.56 0a0.78 0.78 0 1 0 -1.56 0M392.2 98.0a0.78 0.78 0 1 0 1.56 0a0.78 0.78 0 1 0 -1.56 0"/>
<path fill="#5f94b6" d="M343.8 62.8a0.85 0.85 0 1 0 1.7 0a0.85 0.85 0 1 0 -1.7 0M343.8 69.5a0.85 0.85 0 1 0 1.7 0a0.85 0.85 0 1 0 -1.7 0M333.3 84.4a0.85 0.85 0 1 0 1.7 0a0.85 0.85 0 1 0 -1.7 0M338.1 83.7a0.85 0.85 0 1 0 1.7 0a0.85 0.85 0 1 0 -1.7 0M344.1 84.9a0.85 0.85 0 1 0 1.7 0a0.85 0.85 0 1 0 -1.7 0M348.6 82.0a0.85 0.85 0 1 0 1.7 0a0.85 0.85 0 1 0 -1.7 0M323.3 92.3a0.85 0.85 0 1 0 1.7 0a0.85 0.85 0 1 0 -1.7 0M338.1 92.0a0.85 0.85 0 1 0 1.7 0a0.85 0.85 0 1 0 -1.7 0M344.1 93.5a0.85 0.85 0 1 0 1.7 0a0.85 0.85 0 1 0 -1.7 0M348.1 93.5a0.85 0.85 0 1 0 1.7 0a0.85 0.85 0 1 0 -1.7 0M341.5 104.0a0.85 0.85 0 1 0 1.7 0a0.85 0.85 0 1 0 -1.7 0M346.1 106.0a0.85 0.85 0 1 0 1.7 0a0.85 0.85 0 1 0 -1.7 0M349.1 100.0a0.85 0.85 0 1 0 1.7 0a0.85 0.85 0 1 0 -1.7 0M342.1 110.0a0.85 0.85 0 1 0 1.7 0a0.85 0.85 0 1 0 -1.7 0M338.8 123.3a0.85 0.85 0 1 0 1.7 0a0.85 0.85 0 1 0 -1.7 0M345.8 125.8a0.85 0.85 0 1 0 1.7 0a0.85 0.85 0 1 0 -1.7 0M348.1 122.0a0.85 0.85 0 1 0 1.7 0a0.85 0.85 0 1 0 -1.7 0M349.1 128.0a0.85 0.85 0 1 0 1.7 0a0.85 0.85 0 1 0 -1.7 0M350.1 133.0a0.85 0.85 0 1 0 1.7 0a0.85 0.85 0 1 0 -1.7 0M347.1 116.0a0.85 0.85 0 1 0 1.7 0a0.85 0.85 0 1 0 -1.7 0M350.1 112.0a0.85 0.85 0 1 0 1.7 0a0.85 0.85 0 1 0 -1.7 0M349.6 88.0a0.85 0.85 0 1 0 1.7 0a0.85 0.85 0 1 0 -1.7 0M346.6 78.0a0.85 0.85 0 1 0 1.7 0a0.85 0.85 0 1 0 -1.7 0"/>
<circle cx="430" cy="105.3" r="0.75" fill="#8a4a48"/>
<g stroke="#222" stroke-width="0.85" fill="none">
<path d="M293.5 48.5V168.5H440.8"/>
<path d="M290.3 168.5H293.5"/>
<path d="M290.3 138.5H293.5"/>
<path d="M290.3 108.5H293.5"/>
<path d="M290.3 78.5H293.5"/>
<path d="M290.3 48.5H293.5"/>
<path d="M293.5 168.5v3.2"/>
<path d="M323.0 168.5v3.2"/>
<path d="M352.4 168.5v3.2"/>
<path d="M381.9 168.5v3.2"/>
<path d="M411.3 168.5v3.2"/>
<path d="M440.8 168.5v3.2"/>
</g>
<g font-size="6.55" fill="#222">
<text x="287.9" y="170.8" text-anchor="end">0</text>
<text x="287.9" y="140.8" text-anchor="end">2</text>
<text x="287.9" y="110.8" text-anchor="end">4</text>
<text x="287.9" y="80.8" text-anchor="end">6</text>
<text x="287.9" y="50.8" text-anchor="end">8</text>
<text x="293.5" y="178.9" text-anchor="middle">-3</text>
<text x="323.0" y="178.9" text-anchor="middle">-2</text>
<text x="352.4" y="178.9" text-anchor="middle">-1</text>
<text x="381.9" y="178.9" text-anchor="middle">0</text>
<text x="411.3" y="178.9" text-anchor="middle">1</text>
<text x="440.8" y="178.9" text-anchor="middle">2</text>
</g>
<text transform="translate(369,190) scale(1.14,1)" font-size="6.8" fill="#222" text-anchor="middle">Log<tspan font-size="3.8" dy="1.3">2</tspan><tspan dy="-1.3">(fold change)</tspan></text>
<text transform="translate(276.9,108.3) rotate(-90)" font-size="6.75" fill="#222" text-anchor="middle">-Log<tspan font-size="3.8" dy="1.3">10</tspan><tspan dy="-1.3">(Pvalue)</tspan></text>
<g font-size="7.45" fill="#111">
<circle cx="323.3" cy="41.4" r="1.8" fill="#c23c40"/><text x="331.5" y="43.9">Up</text>
<circle cx="350.5" cy="41.4" r="1.8" fill="#7a706e"/><text x="358.8" y="43.9">Not sig</text>
<circle cx="391.6" cy="41.4" r="1.8" fill="#5d8fae"/><text x="399.8" y="43.9">Down</text>
</g>
</g>
<g id="pc">
<g fill="none" stroke-linecap="round" opacity="0.9">
<path d="M536.8 47.7L582.6 66.4" stroke="#c6cde0" stroke-width="1.35"/>
<path d="M536.4 48.6L582.2 67.3" stroke="#c6cde0" stroke-width="1.35"/>
<path d="M536.0 49.6L581.8 68.3" stroke="#c6cde0" stroke-width="1.35"/>
<path d="M535.6 50.5L581.4 69.2" stroke="#bfa4bf" stroke-width="1.35"/>
<path d="M536.8 49.5L513.6 86.6" stroke="#a39c94" stroke-width="0.94"/>
<path d="M536.2 49.1L513.0 86.2" stroke="#55554a" stroke-width="0.94"/>
<path d="M535.6 48.7L512.4 85.8" stroke="#bfa4bf" stroke-width="0.94"/>
<path d="M536.9 49.1L538.7 97.1" stroke="#55554a" stroke-width="0.94"/>
<path d="M536.2 49.1L538.0 97.1" stroke="#bfa4bf" stroke-width="0.94"/>
<path d="M535.5 49.1L537.3 97.1" stroke="#a39c94" stroke-width="0.94"/>
<path d="M536.7 49.5L491.2 106.4" stroke="#a39c94" stroke-width="0.94"/>
<path d="M536.2 49.1L490.7 106.0" stroke="#bfa4bf" stroke-width="0.94"/>
<path d="M535.7 48.7L490.2 105.6" stroke="#55554a" stroke-width="0.94"/>
<path d="M536.5 48.9L582.0 101.6" stroke="#8a4040" stroke-width="0.94"/>
<path d="M535.9 49.3L581.4 102.0" stroke="#8a4040" stroke-width="0.94"/>
<path d="M536.5 49.1L542.5 129.7" stroke="#bfa4bf" stroke-width="0.81"/>
<path d="M535.9 49.1L541.9 129.7" stroke="#55554a" stroke-width="0.81"/>
<path d="M536.5 49.1L525.8 162.9" stroke="#a39c94" stroke-width="0.81"/>
<path d="M535.9 49.1L525.2 162.9" stroke="#bfa4bf" stroke-width="0.81"/>
<path d="M582.1 67.5L626.1 85.7" stroke="#55554a" stroke-width="0.94"/>
<path d="M581.9 68.1L625.9 86.3" stroke="#c2c294" stroke-width="0.94"/>
<path d="M582.3 67.8L582.0 101.8" stroke="#bfa4bf" stroke-width="0.94"/>
<path d="M581.7 67.8L581.4 101.8" stroke="#a39c94" stroke-width="0.94"/>
<path d="M582.4 68.4L538.4 97.7" stroke="#a9c690" stroke-width="0.94"/>
<path d="M582.0 67.8L538.0 97.1" stroke="#bfa4bf" stroke-width="0.94"/>
<path d="M581.6 67.2L537.6 96.5" stroke="#a39c94" stroke-width="0.94"/>
<path d="M582.8 68.3L543.0 130.2" stroke="#55554a" stroke-width="1.22"/>
<path d="M582.0 67.8L542.2 129.7" stroke="#aab6d2" stroke-width="1.22"/>
<path d="M581.2 67.3L541.4 129.2" stroke="#c6cde0" stroke-width="1.22"/>
<path d="M582.1 68.1L513.1 86.5" stroke="#a9c690" stroke-width="0.81"/>
<path d="M581.9 67.5L512.9 85.9" stroke="#c2c294" stroke-width="0.81"/>
<path d="M582.1 68.1L490.8 106.3" stroke="#bfa4bf" stroke-width="0.81"/>
<path d="M581.9 67.5L490.6 105.7" stroke="#a39c94" stroke-width="0.81"/>
<path d="M626.2 86.7L581.9 102.5" stroke="#a39c94" stroke-width="0.94"/>
<path d="M626.0 86.0L581.7 101.8" stroke="#bfa4bf" stroke-width="0.94"/>
<path d="M625.8 85.3L581.5 101.1" stroke="#c2c294" stroke-width="0.94"/>
<path d="M582.0 101.7L614.3 173.2" stroke="#a39c94" stroke-width="0.94"/>
<path d="M581.4 101.9L613.7 173.4" stroke="#bfa4bf" stroke-width="0.94"/>
<path d="M581.6 102.5L537.9 97.8" stroke="#a9c690" stroke-width="0.94"/>
<path d="M581.7 101.8L538.0 97.1" stroke="#bfa4bf" stroke-width="0.94"/>
<path d="M581.8 101.1L538.1 96.4" stroke="#55554a" stroke-width="0.94"/>
<path d="M582.1 102.4L542.6 130.3" stroke="#a9c690" stroke-width="0.94"/>
<path d="M581.7 101.8L542.2 129.7" stroke="#a39c94" stroke-width="0.94"/>
<path d="M581.3 101.2L541.8 129.1" stroke="#bfa4bf" stroke-width="0.94"/>
<path d="M581.7 102.1L490.7 106.3" stroke="#a9c690" stroke-width="0.81"/>
<path d="M581.7 101.5L490.7 105.7" stroke="#a9c690" stroke-width="0.81"/>
<path d="M581.6 102.1L512.9 86.5" stroke="#a9c690" stroke-width="0.81"/>
<path d="M581.8 101.5L513.1 85.9" stroke="#a39c94" stroke-width="0.81"/>
<path d="M581.8 102.1L492.1 146.6" stroke="#a9c690" stroke-width="0.81"/>
<path d="M581.6 101.5L491.9 146.0" stroke="#a39c94" stroke-width="0.81"/>
<path d="M513.4 85.2L538.4 96.1" stroke="#55554a" stroke-width="0.94"/>
<path d="M513.1 85.9L538.1 96.8" stroke="#bfa4bf" stroke-width="0.94"/>
<path d="M512.9 86.5L537.9 97.4" stroke="#aab6d2" stroke-width="0.94"/>
<path d="M512.6 87.2L537.6 98.1" stroke="#c2c294" stroke-width="0.94"/>
<path d="M513.7 87.0L491.4 106.8" stroke="#55554a" stroke-width="0.94"/>
<path d="M513.2 86.5L490.9 106.3" stroke="#bfa4bf" stroke-width="0.94"/>
<path d="M512.8 85.9L490.5 105.7" stroke="#aab6d2" stroke-width="0.94"/>
<path d="M512.3 85.4L490.0 105.2" stroke="#c2c294" stroke-width="0.94"/>
<path d="M513.7 86.4L492.7 146.5" stroke="#55554a" stroke-width="0.94"/>
<path d="M513.0 86.2L492.0 146.3" stroke="#bfa4bf" stroke-width="0.94"/>
<path d="M512.3 86.0L491.3 146.1" stroke="#a39c94" stroke-width="0.94"/>
<path d="M513.3 86.1L525.8 162.8" stroke="#55554a" stroke-width="0.94"/>
<path d="M512.7 86.3L525.2 163.0" stroke="#bfa4bf" stroke-width="0.94"/>
<path d="M513.3 86.0L542.5 129.5" stroke="#55554a" stroke-width="0.94"/>
<path d="M512.7 86.4L541.9 129.9" stroke="#a39c94" stroke-width="0.94"/>
<path d="M538.2 98.1L490.9 107.0" stroke="#bfa4bf" stroke-width="0.94"/>
<path d="M538.1 97.4L490.8 106.3" stroke="#55554a" stroke-width="0.94"/>
<path d="M537.9 96.8L490.6 105.7" stroke="#aab6d2" stroke-width="0.94"/>
<path d="M537.8 96.1L490.5 105.0" stroke="#c2c294" stroke-width="0.94"/>
<path d="M538.5 97.6L492.5 146.8" stroke="#55554a" stroke-width="0.94"/>
<path d="M538.0 97.1L492.0 146.3" stroke="#bfa4bf" stroke-width="0.94"/>
<path d="M537.5 96.6L491.5 145.8" stroke="#a39c94" stroke-width="0.94"/>
<path d="M538.7 97.2L526.2 163.0" stroke="#55554a" stroke-width="0.94"/>
<path d="M538.0 97.1L525.5 162.9" stroke="#bfa4bf" stroke-width="0.94"/>
<path d="M537.3 97.0L524.8 162.8" stroke="#c2c294" stroke-width="0.94"/>
<path d="M538.7 97.0L542.9 129.6" stroke="#55554a" stroke-width="0.94"/>
<path d="M538.0 97.1L542.2 129.7" stroke="#bfa4bf" stroke-width="0.94"/>
<path d="M537.3 97.2L541.5 129.8" stroke="#a39c94" stroke-width="0.94"/>
<path d="M491.7 106.0L493.0 146.3" stroke="#55554a" stroke-width="0.94"/>
<path d="M491.0 106.0L492.3 146.3" stroke="#bfa4bf" stroke-width="0.94"/>
<path d="M490.4 106.0L491.7 146.3" stroke="#aab6d2" stroke-width="0.94"/>
<path d="M489.7 106.0L491.0 146.3" stroke="#c2c294" stroke-width="0.94"/>
<path d="M491.3 105.6L526.1 162.5" stroke="#55554a" stroke-width="0.94"/>
<path d="M490.7 106.0L525.5 162.9" stroke="#bfa4bf" stroke-width="0.94"/>
<path d="M490.1 106.4L524.9 163.3" stroke="#a39c94" stroke-width="0.94"/>
<path d="M491.0 105.4L542.5 129.1" stroke="#bfa4bf" stroke-width="0.94"/>
<path d="M490.7 106.0L542.2 129.7" stroke="#55554a" stroke-width="0.94"/>
<path d="M490.4 106.6L541.9 130.3" stroke="#a9c690" stroke-width="0.94"/>
<path d="M492.5 145.4L526.0 162.0" stroke="#55554a" stroke-width="0.94"/>
<path d="M492.2 146.0L525.7 162.6" stroke="#bfa4bf" stroke-width="0.94"/>
<path d="M491.8 146.6L525.3 163.2" stroke="#a39c94" stroke-width="0.94"/>
<path d="M491.5 147.2L525.0 163.8" stroke="#c2c294" stroke-width="0.94"/>
<path d="M491.8 145.6L542.0 129.0" stroke="#a9c690" stroke-width="0.94"/>
<path d="M492.0 146.3L542.2 129.7" stroke="#bfa4bf" stroke-width="0.94"/>
<path d="M492.2 147.0L542.4 130.4" stroke="#a39c94" stroke-width="0.94"/>
<path d="M524.9 162.6L541.6 129.4" stroke="#55554a" stroke-width="0.94"/>
<path d="M525.5 162.9L542.2 129.7" stroke="#a39c94" stroke-width="0.94"/>
<path d="M526.1 163.2L542.8 130.0" stroke="#bfa4bf" stroke-width="0.94"/>
</g>
<defs><radialGradient id="sph" cx="0.4" cy="0.3" r="0.75"><stop offset="0" stop-color="#fff" stop-opacity="0.75"/><stop offset="0.45" stop-color="#fff" stop-opacity="0.12"/><stop offset="1" stop-color="#000" stop-opacity="0.36"/></radialGradient></defs>
<circle cx="536.2" cy="49.1" r="6.8" fill="#e39aa4" stroke="#714d52" stroke-opacity="0.85" stroke-width="1.0"/>
<circle cx="536.2" cy="49.1" r="6.4" fill="url(#sph)"/>
<path d="M532.6 46.5a4.6 4.2 0 0 1 7.2 0" fill="none" stroke="#fff" stroke-opacity="0.55" stroke-width="1.1" stroke-linecap="round"/>
<circle cx="582.0" cy="67.8" r="6.8" fill="#b3ad6c" stroke="#595636" stroke-opacity="0.85" stroke-width="1.0"/>
<circle cx="582.0" cy="67.8" r="6.4" fill="url(#sph)"/>
<path d="M578.4 65.2a4.6 4.2 0 0 1 7.2 0" fill="none" stroke="#fff" stroke-opacity="0.55" stroke-width="1.1" stroke-linecap="round"/>
<circle cx="626.0" cy="86.0" r="6.8" fill="#e8ab8c" stroke="#745546" stroke-opacity="0.85" stroke-width="1.0"/>
<circle cx="626.0" cy="86.0" r="6.4" fill="url(#sph)"/>
<path d="M622.4 83.4a4.6 4.2 0 0 1 7.2 0" fill="none" stroke="#fff" stroke-opacity="0.55" stroke-width="1.1" stroke-linecap="round"/>
<circle cx="581.7" cy="101.8" r="6.8" fill="#de5050" stroke="#6f2828" stroke-opacity="0.85" stroke-width="1.0"/>
<circle cx="581.7" cy="101.8" r="6.4" fill="url(#sph)"/>
<path d="M578.1 99.2a4.6 4.2 0 0 1 7.2 0" fill="none" stroke="#fff" stroke-opacity="0.55" stroke-width="1.1" stroke-linecap="round"/>
<circle cx="513.0" cy="86.2" r="6.8" fill="#62b85a" stroke="#315c2d" stroke-opacity="0.85" stroke-width="1.0"/>
<circle cx="513.0" cy="86.2" r="6.4" fill="url(#sph)"/>
<path d="M509.4 83.6a4.6 4.2 0 0 1 7.2 0" fill="none" stroke="#fff" stroke-opacity="0.55" stroke-width="1.1" stroke-linecap="round"/>
<circle cx="538.0" cy="97.1" r="6.8" fill="#7ab2dd" stroke="#3d596e" stroke-opacity="0.85" stroke-width="1.0"/>
<circle cx="538.0" cy="97.1" r="6.4" fill="url(#sph)"/>
<path d="M534.4 94.5a4.6 4.2 0 0 1 7.2 0" fill="none" stroke="#fff" stroke-opacity="0.55" stroke-width="1.1" stroke-linecap="round"/>
<circle cx="490.7" cy="106.0" r="6.8" fill="#a56fcf" stroke="#523767" stroke-opacity="0.85" stroke-width="1.0"/>
<circle cx="490.7" cy="106.0" r="6.4" fill="url(#sph)"/>
<path d="M487.1 103.4a4.6 4.2 0 0 1 7.2 0" fill="none" stroke="#fff" stroke-opacity="0.55" stroke-width="1.1" stroke-linecap="round"/>
<circle cx="542.2" cy="129.7" r="6.8" fill="#b3d060" stroke="#596830" stroke-opacity="0.85" stroke-width="1.0"/>
<circle cx="542.2" cy="129.7" r="6.4" fill="url(#sph)"/>
<path d="M538.6 127.1a4.6 4.2 0 0 1 7.2 0" fill="none" stroke="#fff" stroke-opacity="0.55" stroke-width="1.1" stroke-linecap="round"/>
<circle cx="492.0" cy="146.3" r="6.8" fill="#7dd09c" stroke="#3e684e" stroke-opacity="0.85" stroke-width="1.0"/>
<circle cx="492.0" cy="146.3" r="6.4" fill="url(#sph)"/>
<path d="M488.4 143.7a4.6 4.2 0 0 1 7.2 0" fill="none" stroke="#fff" stroke-opacity="0.55" stroke-width="1.1" stroke-linecap="round"/>
<circle cx="525.5" cy="162.9" r="6.8" fill="#4fb5a6" stroke="#275a53" stroke-opacity="0.85" stroke-width="1.0"/>
<circle cx="525.5" cy="162.9" r="6.4" fill="url(#sph)"/>
<path d="M521.9 160.3a4.6 4.2 0 0 1 7.2 0" fill="none" stroke="#fff" stroke-opacity="0.55" stroke-width="1.1" stroke-linecap="round"/>
<circle cx="614.0" cy="173.3" r="6.8" fill="#4f4f96" stroke="#27274b" stroke-opacity="0.85" stroke-width="1.0"/>
<circle cx="614.0" cy="173.3" r="6.4" fill="url(#sph)"/>
<path d="M610.4 170.7a4.6 4.2 0 0 1 7.2 0" fill="none" stroke="#fff" stroke-opacity="0.55" stroke-width="1.1" stroke-linecap="round"/>
<g font-size="4.05" fill="#1c1c1c" stroke="#1c1c1c" stroke-width="0.08">
<text x="541.8" y="43.4">SHC1</text>
<text x="588.4" y="61.7">PTPN11</text>
<text x="632.4" y="79.8">HAVCR2</text>
<text x="587.9" y="94.9">CEACAM1</text>
<text x="518.7" y="80.1">FN1</text>
<text x="544.9" y="90.3">ITGB3</text>
<text x="494.2" y="101.8">ITGB1</text>
<text x="547.8" y="123.2">CTNNB1</text>
<text x="497.0" y="139.6">ITGA5</text>
<text x="532.2" y="156.7">FLNA</text>
<text x="619.3" y="167.3">CD209</text>
</g>
</g>
<g id="pd">
<g fill="none" stroke-linecap="round">
<path d="M137.6 291.3L219.0 253.0" stroke="#f2b4b8" stroke-width="7.70" stroke-opacity="0.54"/>
<path d="M98.0 249.5L89.4 368.9" stroke="#f0a8b0" stroke-width="5.50" stroke-opacity="0.41"/>
<path d="M98.0 249.5L102.5 319.6" stroke="#f2c49a" stroke-width="3.38" stroke-opacity="0.85"/>
<path d="M98.0 249.5L137.6 291.3" stroke="#f0a8b0" stroke-width="3.52" stroke-opacity="0.41"/>
<path d="M98.0 249.5L137.6 291.3" stroke="#f2c49a" stroke-width="3.12" stroke-opacity="0.82"/>
<path d="M137.6 291.3L89.4 368.9" stroke="#f0a8b0" stroke-width="4.62" stroke-opacity="0.41"/>
<path d="M137.6 291.3L102.5 319.6" stroke="#f0a8b0" stroke-width="3.30" stroke-opacity="0.41"/>
<path d="M137.6 291.3L81.5 353.2" stroke="#f0a8b0" stroke-width="3.12" stroke-opacity="0.41"/>
<path d="M137.6 291.3L59.3 356.4" stroke="#f0a8b0" stroke-width="2.08" stroke-opacity="0.41"/>
<path d="M137.6 291.3L104.8 357.2" stroke="#f0a8b0" stroke-width="2.60" stroke-opacity="0.41"/>
<path d="M137.6 291.3L46.0 333.7" stroke="#f0a8b0" stroke-width="2.08" stroke-opacity="0.41"/>
<path d="M137.6 291.3L56.8 275.6" stroke="#f0a8b0" stroke-width="3.12" stroke-opacity="0.41"/>
<path d="M137.6 291.3L56.8 275.6" stroke="#f2c49a" stroke-width="1.30" stroke-opacity="0.61"/>
<path d="M137.6 291.3L103.0 296.3" stroke="#f0a8b0" stroke-width="2.60" stroke-opacity="0.41"/>
<path d="M137.6 291.3L175.0 282.8" stroke="#f0a8b0" stroke-width="1.82" stroke-opacity="0.41"/>
<path d="M137.6 291.3L171.0 327.8" stroke="#d0cbe4" stroke-width="1.33" stroke-opacity="0.54"/>
<path d="M137.6 291.3L136.0 333.2" stroke="#f0a8b0" stroke-width="1.56" stroke-opacity="0.41"/>
<path d="M137.6 291.3L155.0 380.0" stroke="#f0a8b0" stroke-width="1.56" stroke-opacity="0.46"/>
<path d="M137.6 291.3L134.9 386.7" stroke="#f0a8b0" stroke-width="1.56" stroke-opacity="0.46"/>
<path d="M137.6 291.3L100.2 422.4" stroke="#f0a8b0" stroke-width="1.56" stroke-opacity="0.46"/>
<path d="M137.6 291.3L195.6 383.8" stroke="#a9d6dc" stroke-width="0.85" stroke-opacity="0.48"/>
<path d="M137.6 291.3L141.2 254.2" stroke="#b9dcae" stroke-width="1.04" stroke-opacity="0.61"/>
<path d="M137.6 291.3L79.8 302.5" stroke="#d0cbe4" stroke-width="0.85" stroke-opacity="0.54"/>
<path d="M137.6 291.3L22.0 289.2" stroke="#d8d8dc" stroke-width="0.66" stroke-opacity="0.54"/>
<path d="M98.0 249.5L141.2 254.2" stroke="#d0cbe4" stroke-width="0.76" stroke-opacity="0.54"/>
<path d="M98.0 249.5L219.0 253.0" stroke="#d0cbe4" stroke-width="0.85" stroke-opacity="0.48"/>
<path d="M98.0 249.5L103.0 296.3" stroke="#f0a8b0" stroke-width="3.12" stroke-opacity="0.41"/>
<path d="M98.0 249.5L81.5 353.2" stroke="#f0a8b0" stroke-width="2.60" stroke-opacity="0.41"/>
<path d="M98.0 249.5L104.8 357.2" stroke="#f0a8b0" stroke-width="2.08" stroke-opacity="0.41"/>
<path d="M98.0 249.5L56.8 275.6" stroke="#d0cbe4" stroke-width="0.76" stroke-opacity="0.54"/>
<path d="M98.0 249.5L175.0 282.8" stroke="#f0a8b0" stroke-width="1.56" stroke-opacity="0.35"/>
<path d="M98.0 249.5L171.0 327.8" stroke="#d0cbe4" stroke-width="0.76" stroke-opacity="0.48"/>
<path d="M141.2 254.2L219.0 253.0" stroke="#d8d8dc" stroke-width="0.66" stroke-opacity="0.54"/>
<path d="M141.2 254.2L175.0 282.8" stroke="#d8d8dc" stroke-width="0.66" stroke-opacity="0.54"/>
<path d="M219.0 253.0L175.0 282.8" stroke="#d8d8dc" stroke-width="0.76" stroke-opacity="0.54"/>
<path d="M219.0 253.0L171.0 327.8" stroke="#b9dcae" stroke-width="0.76" stroke-opacity="0.41"/>
<path d="M219.0 253.0L171.0 327.8" stroke="#d8d8dc" stroke-width="0.76" stroke-opacity="0.54"/>
<path d="M175.0 282.8L171.0 327.8" stroke="#b9dcae" stroke-width="0.85" stroke-opacity="0.48"/>
<path d="M175.0 282.8L102.5 319.6" stroke="#f0a8b0" stroke-width="1.56" stroke-opacity="0.35"/>
<path d="M22.0 289.2L103.0 296.3" stroke="#f2c49a" stroke-width="2.08" stroke-opacity="0.54"/>
<path d="M22.0 289.2L56.8 275.6" stroke="#d8d8dc" stroke-width="0.66" stroke-opacity="0.54"/>
<path d="M22.0 289.2L59.3 356.4" stroke="#d0cbe4" stroke-width="0.66" stroke-opacity="0.54"/>
<path d="M22.0 289.2L46.0 333.7" stroke="#d0cbe4" stroke-width="0.66" stroke-opacity="0.54"/>
<path d="M56.8 275.6L46.0 333.7" stroke="#d0cbe4" stroke-width="0.76" stroke-opacity="0.54"/>
<path d="M56.8 275.6L59.3 356.4" stroke="#d0cbe4" stroke-width="0.76" stroke-opacity="0.54"/>
<path d="M56.8 275.6L81.5 353.2" stroke="#e8b0c0" stroke-width="1.17" stroke-opacity="0.41"/>
<path d="M56.8 275.6L89.4 368.9" stroke="#f0a8b0" stroke-width="1.30" stroke-opacity="0.35"/>
<path d="M56.8 275.6L79.8 302.5" stroke="#d0cbe4" stroke-width="0.66" stroke-opacity="0.54"/>
<path d="M79.8 302.5L102.5 319.6" stroke="#d8d8dc" stroke-width="0.66" stroke-opacity="0.54"/>
<path d="M79.8 302.5L89.4 368.9" stroke="#d0cbe4" stroke-width="0.66" stroke-opacity="0.54"/>
<path d="M46.0 333.7L59.3 356.4" stroke="#f0a8b0" stroke-width="1.56" stroke-opacity="0.41"/>
<path d="M46.0 333.7L81.5 353.2" stroke="#f0a8b0" stroke-width="1.56" stroke-opacity="0.41"/>
<path d="M46.0 333.7L89.4 368.9" stroke="#f0a8b0" stroke-width="1.56" stroke-opacity="0.41"/>
<path d="M46.0 333.7L102.5 319.6" stroke="#f0a8b0" stroke-width="1.82" stroke-opacity="0.35"/>
<path d="M59.3 356.4L81.5 353.2" stroke="#f0a8b0" stroke-width="2.08" stroke-opacity="0.46"/>
<path d="M59.3 356.4L89.4 368.9" stroke="#f2c49a" stroke-width="2.86" stroke-opacity="0.61"/>
<path d="M59.3 356.4L104.8 357.2" stroke="#f0a8b0" stroke-width="1.30" stroke-opacity="0.35"/>
<path d="M59.3 356.4L102.5 319.6" stroke="#f0a8b0" stroke-width="1.82" stroke-opacity="0.35"/>
<path d="M81.5 353.2L89.4 368.9" stroke="#f0a8b0" stroke-width="3.38" stroke-opacity="0.46"/>
<path d="M81.5 353.2L104.8 357.2" stroke="#f0a8b0" stroke-width="2.08" stroke-opacity="0.41"/>
<path d="M81.5 353.2L102.5 319.6" stroke="#f0a8b0" stroke-width="2.08" stroke-opacity="0.41"/>
<path d="M104.8 357.2L89.4 368.9" stroke="#f0a8b0" stroke-width="2.60" stroke-opacity="0.46"/>
<path d="M104.8 357.2L102.5 319.6" stroke="#f0a8b0" stroke-width="2.08" stroke-opacity="0.41"/>
<path d="M104.8 357.2L136.0 333.2" stroke="#d0cbe4" stroke-width="0.66" stroke-opacity="0.54"/>
<path d="M89.4 368.9L102.5 319.6" stroke="#f0a8b0" stroke-width="3.12" stroke-opacity="0.41"/>
<path d="M89.4 368.9L103.0 296.3" stroke="#f0a8b0" stroke-width="1.82" stroke-opacity="0.35"/>
<path d="M89.4 368.9L136.0 333.2" stroke="#d0cbe4" stroke-width="0.76" stroke-opacity="0.54"/>
<path d="M89.4 368.9L171.0 327.8" stroke="#f0a8b0" stroke-width="1.30" stroke-opacity="0.35"/>
<path d="M89.4 368.9L134.9 386.7" stroke="#d0cbe4" stroke-width="0.66" stroke-opacity="0.54"/>
<path d="M102.5 319.6L171.0 327.8" stroke="#d0cbe4" stroke-width="0.85" stroke-opacity="0.54"/>
<path d="M102.5 319.6L136.0 333.2" stroke="#d0cbe4" stroke-width="0.66" stroke-opacity="0.54"/>
<path d="M102.5 319.6L100.2 422.4" stroke="#f0a8b0" stroke-width="1.30" stroke-opacity="0.41"/>
<path d="M102.5 319.6L155.0 380.0" stroke="#f0a8b0" stroke-width="1.17" stroke-opacity="0.41"/>
<path d="M103.0 296.3L102.5 319.6" stroke="#f0a8b0" stroke-width="2.08" stroke-opacity="0.41"/>
<path d="M103.0 296.3L175.0 282.8" stroke="#d0cbe4" stroke-width="0.66" stroke-opacity="0.48"/>
<path d="M136.0 333.2L134.9 386.7" stroke="#f0a8b0" stroke-width="1.30" stroke-opacity="0.46"/>
<path d="M136.0 333.2L155.0 380.0" stroke="#f0a8b0" stroke-width="1.30" stroke-opacity="0.46"/>
<path d="M136.0 333.2L171.0 327.8" stroke="#d0cbe4" stroke-width="0.66" stroke-opacity="0.54"/>
<path d="M171.0 327.8L195.6 383.8" stroke="#a9d6dc" stroke-width="2.28" stroke-opacity="0.78"/>
<path d="M171.0 327.8L155.0 380.0" stroke="#d0cbe4" stroke-width="0.66" stroke-opacity="0.54"/>
<path d="M134.9 386.7L155.0 380.0" stroke="#f2c49a" stroke-width="2.60" stroke-opacity="0.61"/>
<path d="M134.9 386.7L104.8 357.2" stroke="#d0cbe4" stroke-width="0.66" stroke-opacity="0.54"/>
<path d="M155.0 380.0L195.6 383.8" stroke="#d8d8dc" stroke-width="0.66" stroke-opacity="0.54"/>
<path d="M134.9 386.7L195.6 383.8" stroke="#d0cbe4" stroke-width="0.57" stroke-opacity="0.48"/>
<path d="M104.8 357.2L155.0 380.0" stroke="#d0cbe4" stroke-width="0.66" stroke-opacity="0.54"/>
<path d="M104.8 357.2L100.2 422.4" stroke="#f0a8b0" stroke-width="1.04" stroke-opacity="0.35"/>
<path d="M136.6 289.1L218.0 250.8" stroke="#f6d2d4" stroke-width="0.5" stroke-opacity="0.9"/>
<path d="M137.3 290.6L218.7 252.3" stroke="#f6d2d4" stroke-width="0.5" stroke-opacity="0.9"/>
<path d="M137.9 292.0L219.3 253.7" stroke="#f6d2d4" stroke-width="0.5" stroke-opacity="0.9"/>
<path d="M138.6 293.5L220.0 255.2" stroke="#f6d2d4" stroke-width="0.5" stroke-opacity="0.9"/>
</g>
<circle cx="98.0" cy="249.5" r="9.8" fill="#4b4443"/>
<circle cx="219.0" cy="253.0" r="10.8" fill="#4b4443"/>
<circle cx="137.6" cy="291.3" r="10.8" fill="#4b4443"/>
<circle cx="89.4" cy="368.9" r="10.2" fill="#4b4443"/>
<circle cx="141.2" cy="254.2" r="4.8" fill="#4b4443"/>
<circle cx="56.8" cy="275.6" r="4.6" fill="#4b4443"/>
<circle cx="22.0" cy="289.2" r="4.8" fill="#4b4443"/>
<circle cx="103.0" cy="296.3" r="5.2" fill="#4b4443"/>
<circle cx="79.8" cy="302.5" r="4.4" fill="#4b4443"/>
<circle cx="175.0" cy="282.8" r="6.3" fill="#4b4443"/>
<circle cx="102.5" cy="319.6" r="5.4" fill="#4b4443"/>
<circle cx="171.0" cy="327.8" r="5.0" fill="#4b4443"/>
<circle cx="136.0" cy="333.2" r="4.4" fill="#4b4443"/>
<circle cx="46.0" cy="333.7" r="4.4" fill="#4b4443"/>
<circle cx="59.3" cy="356.4" r="5.0" fill="#4b4443"/>
<circle cx="81.5" cy="353.2" r="6.0" fill="#4b4443"/>
<circle cx="104.8" cy="357.2" r="5.4" fill="#4b4443"/>
<circle cx="155.0" cy="380.0" r="5.0" fill="#4b4443"/>
<circle cx="134.9" cy="386.7" r="4.4" fill="#4b4443"/>
<circle cx="195.6" cy="383.8" r="5.4" fill="#4b4443"/>
<circle cx="100.2" cy="422.4" r="4.0" fill="#4b4443"/>
<g fill="#fff" text-anchor="middle" stroke="#4b4443" stroke-width="1.1" stroke-linejoin="round" paint-order="stroke">
<text x="98.0" y="251.1" font-size="4.45">CEACAM6</text>
<text x="219.0" y="254.6" font-size="4.45">HAVCR2</text>
<text x="137.6" y="292.9" font-size="4.45">CEACAM1</text>
<text x="89.4" y="370.5" font-size="4.45">ITGA5</text>
<text x="141.2" y="255.8" font-size="4.45">SDK1</text>
<text x="56.8" y="277.2" font-size="4.45">ANXA1</text>
<text x="22.0" y="290.8" font-size="4.45">FABP1</text>
<text x="103.0" y="297.9" font-size="4.45">CEACAM3</text>
<text x="79.8" y="304.1" font-size="4.45">SLC26A3</text>
<text x="175.0" y="284.4" font-size="4.45">CEACAM5</text>
<text x="102.5" y="321.2" font-size="4.45">CEACAM8</text>
<text x="171.0" y="329.4" font-size="4.45">CEACAM7</text>
<text x="136.0" y="334.8" font-size="4.45">CARD17</text>
<text x="46.0" y="335.3" font-size="4.45">SHC1</text>
<text x="59.3" y="358.0" font-size="4.45">ITGB3</text>
<text x="81.5" y="354.8" font-size="4.45">FN1</text>
<text x="104.8" y="358.8" font-size="4.45">ITGB1</text>
<text x="155.0" y="381.6" font-size="4.45">CLEC4M</text>
<text x="134.9" y="388.3" font-size="4.45">CD209</text>
<text x="195.6" y="385.4" font-size="4.45">SP2</text>
<text x="100.2" y="424.0" font-size="4.45">GDF7</text>
</g>
</g>
<g id="pe">
<defs><clipPath id="cP"><ellipse cx="320.6" cy="303.9" rx="33.9" ry="34.9" /></clipPath><clipPath id="cY"><ellipse cx="364.7" cy="304.5" rx="34.4" ry="35.0" /></clipPath><clipPath id="cG"><ellipse cx="342.3" cy="344.35" rx="34.2" ry="34.65" /></clipPath></defs>
<ellipse cx="320.6" cy="303.9" rx="33.9" ry="34.9" fill="#6f6bb1"/>
<ellipse cx="364.7" cy="304.5" rx="34.4" ry="35.0" fill="#eded7c"/>
<ellipse cx="342.3" cy="344.35" rx="34.2" ry="34.65" fill="#8cc86c"/>
<g clip-path="url(#cP)"><ellipse cx="364.7" cy="304.5" rx="34.4" ry="35.0" fill="#a9a273"/></g>
<g clip-path="url(#cP)"><ellipse cx="342.3" cy="344.35" rx="34.2" ry="34.65" fill="#3fb07a"/></g>
<g clip-path="url(#cY)"><ellipse cx="342.3" cy="344.35" rx="34.2" ry="34.65" fill="#80c043"/></g>
<g clip-path="url(#cP)"><g clip-path="url(#cY)"><ellipse cx="342.3" cy="344.35" rx="34.2" ry="34.65" fill="#52a650"/></g></g>
<g fill="none" stroke-width="0.7"><ellipse cx="320.6" cy="303.9" rx="33.9" ry="34.9" stroke="#2f2d55"/><ellipse cx="364.7" cy="304.5" rx="34.4" ry="35.0" stroke="#55552a"/><ellipse cx="342.3" cy="344.35" rx="34.2" ry="34.65" stroke="#2f5528"/></g>
<g font-size="4.6" font-weight="bold" text-anchor="middle">
<text x="313" y="259.6" fill="#4f4c96">GeneMANIA</text>
<text x="372.2" y="259.7" fill="#857f35">String</text>
<text x="342.7" y="391.5" fill="#3f7a30" font-size="4.2">DEmRNAs</text>
</g>
<g text-anchor="middle" fill="#1a1a1a">
<text x="311.5" y="294.8" font-size="4.2" font-weight="bold">12</text><text x="311.5" y="298.5" font-size="3.05" font-weight="bold" fill="#2a2a2a">(37.5%)</text>
<text x="341.7" y="294.8" font-size="4.2" font-weight="bold">7</text><text x="341.7" y="298.5" font-size="3.05" font-weight="bold" fill="#2a2a2a">(12.5%)</text>
<text x="372.3" y="294.8" font-size="4.2" font-weight="bold">1</text><text x="372.3" y="298.5" font-size="3.05" font-weight="bold" fill="#2a2a2a">(3.1%)</text>
<text x="342.5" y="316.6" font-size="4.2" font-weight="bold">0</text><text x="342.5" y="320.3" font-size="3.05" font-weight="bold" fill="#2a2a2a">(0%)</text>
<text x="325.3" y="327.9" font-size="4.2" font-weight="bold">1</text><text x="325.3" y="331.6" font-size="3.05" font-weight="bold" fill="#2a2a2a">(1.8%)</text>
<text x="360.3" y="327.9" font-size="4.2" font-weight="bold">0</text><text x="360.3" y="331.6" font-size="3.05" font-weight="bold" fill="#2a2a2a">(0%)</text>
<text x="342.3" y="352.5" font-size="4.2" font-weight="bold">32</text><text x="342.3" y="356.2" font-size="3.05" font-weight="bold" fill="#2a2a2a">(55.2%)</text>
</g>
</g>
<g id="pf">
<rect x="538.2" y="253.9" width="71.4" height="133.9" fill="#fff"/>
<path d="M538.2 261.1H609.6M538.2 273.1H609.6M538.2 285.0H609.6M538.2 297.0H609.6M538.2 308.9H609.6M538.2 320.9H609.6M538.2 332.8H609.6M538.2 344.8H609.6M538.2 356.7H609.6M538.2 368.7H609.6M538.2 380.6H609.6M549.0 253.9V387.8M561.7 253.9V387.8M574.4 253.9V387.8M587.2 253.9V387.8M599.9 253.9V387.8" stroke="#e7e1e1" stroke-width="0.5" fill="none"/>
<path d="M542.6 253.9V387.8M555.4 253.9V387.8M568.1 253.9V387.8M580.8 253.9V387.8M593.5 253.9V387.8M606.2 253.9V387.8M538.2 267.1H609.6M538.2 279.0H609.6M538.2 291.0H609.6M538.2 302.9H609.6M538.2 314.9H609.6M538.2 326.8H609.6M538.2 338.8H609.6M538.2 350.7H609.6M538.2 362.7H609.6M538.2 374.6H609.6" stroke="#efeaea" stroke-width="0.4" fill="none"/>
<rect x="538.2" y="253.9" width="71.4" height="133.9" fill="none" stroke="#4a4a4a" stroke-width="0.7"/>
<path d="M536.2 261.1H538.2M536.2 273.1H538.2M536.2 285.0H538.2M536.2 297.0H538.2M536.2 308.9H538.2M536.2 320.9H538.2M536.2 332.8H538.2M536.2 344.8H538.2M536.2 356.7H538.2M536.2 368.7H538.2M536.2 380.6H538.2M549.0 387.8v2.0M561.7 387.8v2.0M574.4 387.8v2.0M587.2 387.8v2.0M599.9 387.8v2.0" stroke="#333" stroke-width="0.6" fill="none"/>
<g font-size="5.0" fill="#333" text-anchor="end">
<text x="535.2" y="262.8">Arrhythmogenic right ventricular cardiomyopathy</text>
<text x="535.2" y="274.8">Bacterial invasion of epithelial cells</text>
<text x="535.2" y="286.7">ECM-receptor interaction</text>
<text x="535.2" y="298.7">Hypertrophic cardiomyopathy</text>
<text x="535.2" y="310.6">Dilated cardiomyopathy</text>
<text x="535.2" y="322.6">Focal adhesion</text>
<text x="535.2" y="334.5">Proteoglycans in cancer</text>
<text x="535.2" y="346.4">Phagosome</text>
<text x="535.2" y="358.4">Regulation of actin cytoskeleton</text>
<text x="535.2" y="370.4">Human papillomavirus infection</text>
<text x="535.2" y="382.3">PI3K-Akt signaling pathway</text>
</g>
<g font-size="4.65" fill="#2a2a2a" text-anchor="middle">
<text x="549.0" y="394.1">0.02</text>
<text x="561.7" y="394.1">0.03</text>
<text x="574.4" y="394.1">0.04</text>
<text x="587.2" y="394.1">0.05</text>
<text x="599.9" y="394.1">0.06</text>
</g>
<text x="573.9" y="402.0" font-size="6.2" fill="#222" text-anchor="middle">Rich_factor</text>
<text x="574.1" y="248.5" font-size="7.6" fill="#111" text-anchor="middle">Statistics of KEGG enrichment</text>
<defs><radialGradient id="rd"><stop offset="0" stop-color="#b81824"/><stop offset="0.45" stop-color="#cf1f2a"/><stop offset="0.8" stop-color="#ee2c36"/><stop offset="1" stop-color="#f0333c"/></radialGradient></defs>
<circle cx="606.3" cy="260.7" r="2.85" fill="url(#rd)"/>
<circle cx="606.3" cy="272.5" r="2.85" fill="url(#rd)"/>
<circle cx="596" cy="284.2" r="2.85" fill="url(#rd)"/>
<circle cx="580.2" cy="296.2" r="1.1" fill="#b3242e"/>
<circle cx="577.0" cy="308.3" r="1.0" fill="#b3242e"/>
<circle cx="574.4" cy="320.0" r="4.1" fill="url(#rd)"/>
<circle cx="567.1" cy="332.2" r="3.8" fill="url(#rd)"/>
<circle cx="565.6" cy="344.1" r="2.7" fill="url(#rd)"/>
<circle cx="552.8" cy="356.3" r="2.7" fill="url(#rd)"/>
<circle cx="546.9" cy="368.3" r="3.3" fill="url(#rd)"/>
<circle cx="541.3" cy="380.6" r="2.7" fill="#14101a"/>
<text x="619" y="275.5" font-size="6.1" fill="#222">Gene_number</text>
<circle cx="624" cy="284.1" r="1.0" fill="#111"/><circle cx="624" cy="294.2" r="4.1" fill="#111"/>
<text x="632.6" y="285.8" font-size="5.25" fill="#2a2a2a">4</text><text x="632.6" y="296.0" font-size="5.25" fill="#2a2a2a">8</text>
<text x="619" y="317.0" font-size="6.35" fill="#222">pvalue</text>
<defs><linearGradient id="pvg" x1="0" y1="0" x2="0" y2="1"><stop offset="0" stop-color="#17121c"/><stop offset="0.2" stop-color="#2a2458"/><stop offset="0.42" stop-color="#3b3b9e"/><stop offset="0.62" stop-color="#8a2f9a"/><stop offset="0.8" stop-color="#cf2a6a"/><stop offset="1" stop-color="#f22f3a"/></linearGradient></defs>
<rect x="618.8" y="321" width="10" height="49.4" fill="url(#pvg)"/>
<g font-size="5.25" fill="#2a2a2a">
<text x="631.4" y="330.6">0.0075</text>
<text x="631.4" y="344.7">0.0050</text>
<text x="631.4" y="358.5">0.0025</text>
</g>
</g>
</svg>
</body></html>
